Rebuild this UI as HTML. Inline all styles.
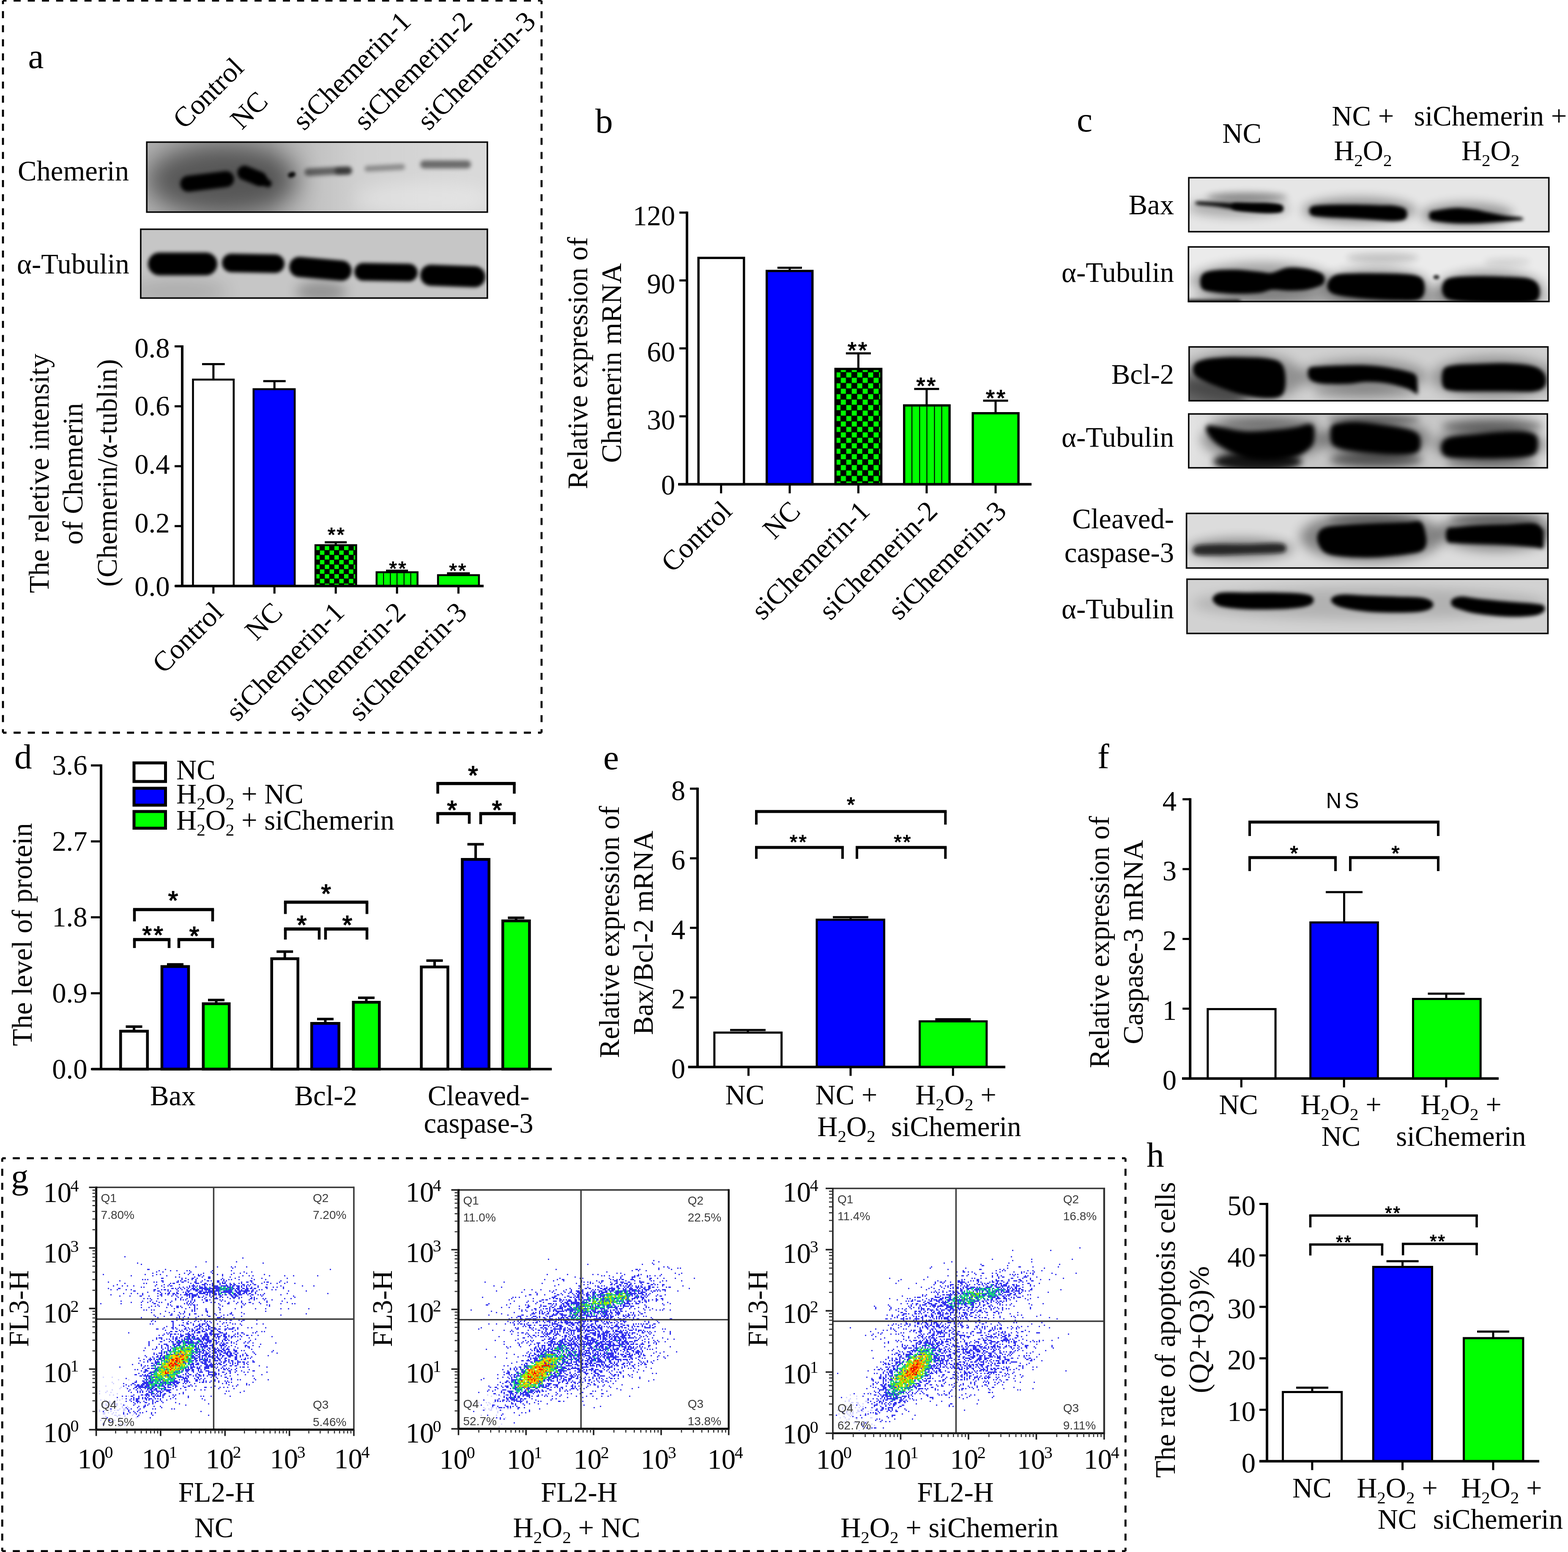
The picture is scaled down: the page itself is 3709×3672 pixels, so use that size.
<!DOCTYPE html>
<html lang="en"><head><meta charset="utf-8"><title>Figure</title>
<style>html,body{margin:0;padding:0;background:#fff}body{width:3709px;height:3672px;overflow:hidden}svg{display:block}text{stroke:none;fill:#000}</style>
</head><body>
<svg width="3709" height="3672" viewBox="0 0 3709 3672" fill="none" stroke="#000" font-family="'Liberation Serif','Noto Serif CJK SC',serif" font-size="66.7">
<defs><filter id="b2" x="-50%" y="-100%" width="200%" height="300%"><feGaussianBlur stdDeviation="2"/></filter>
<filter id="b3" x="-50%" y="-100%" width="200%" height="300%"><feGaussianBlur stdDeviation="3"/></filter>
<filter id="b4" x="-50%" y="-100%" width="200%" height="300%"><feGaussianBlur stdDeviation="4"/></filter>
<filter id="b5" x="-50%" y="-100%" width="200%" height="300%"><feGaussianBlur stdDeviation="5"/></filter>
<filter id="b6" x="-50%" y="-100%" width="200%" height="300%"><feGaussianBlur stdDeviation="6"/></filter>
<filter id="b8" x="-50%" y="-100%" width="200%" height="300%"><feGaussianBlur stdDeviation="8"/></filter>
<filter id="b10" x="-50%" y="-100%" width="200%" height="300%"><feGaussianBlur stdDeviation="10"/></filter>
<filter id="b12" x="-50%" y="-100%" width="200%" height="300%"><feGaussianBlur stdDeviation="12"/></filter>
<filter id="b14" x="-50%" y="-100%" width="200%" height="300%"><feGaussianBlur stdDeviation="14"/></filter>
<filter id="b20" x="-50%" y="-100%" width="200%" height="300%"><feGaussianBlur stdDeviation="20"/></filter>
<filter id="b30" x="-50%" y="-100%" width="200%" height="300%"><feGaussianBlur stdDeviation="30"/></filter>
<filter id="b45" x="-50%" y="-100%" width="200%" height="300%"><feGaussianBlur stdDeviation="45"/></filter>
<pattern id="chk" width="22.8" height="22.4" patternUnits="userSpaceOnUse" x="756.4" y="1313.2"><rect width="22.8" height="22.4" fill="#0f0"/><rect width="11.4" height="11.2" fill="#000"/><rect x="11.4" y="11.2" width="11.4" height="11.2" fill="#000"/></pattern>
<clipPath id="bc1"><rect x="345.4" y="334.5" width="809.2" height="169.1"/></clipPath>
<clipPath id="bc2"><rect x="331.1" y="540.6" width="823.5" height="166.4"/></clipPath>
<linearGradient id="ga1" x1="0" x2="1" y1="0" y2="0"><stop offset="0" stop-color="#b2b2b2"/><stop offset="0.36" stop-color="#aaa"/><stop offset="0.5" stop-color="#c2c2c2"/><stop offset="0.62" stop-color="#d0d0d0"/><stop offset="1" stop-color="#dadada"/></linearGradient>
<pattern id="chkb" width="25.8" height="25.8" patternUnits="userSpaceOnUse" x="1988.5" y="906.4"><rect width="25.8" height="25.8" fill="#0f0"/><rect width="12.9" height="12.9" fill="#000"/><rect x="12.9" y="12.9" width="12.9" height="12.9" fill="#000"/></pattern>
<clipPath id="bc3"><rect x="2810.2" y="418.7" width="855.3" height="131.3"/></clipPath>
<clipPath id="bc4"><rect x="2809.5" y="582.4" width="856.2" height="132.8"/></clipPath>
<clipPath id="bc5"><rect x="2811" y="819" width="852.3" height="131"/></clipPath>
<clipPath id="bc6"><rect x="2810" y="977.6" width="852" height="131"/></clipPath>
<linearGradient id="gc4" x1="0" x2="1" y1="0" y2="0"><stop offset="0" stop-color="#e4e4e4"/><stop offset="0.05" stop-color="#dcdcdc"/><stop offset="0.12" stop-color="#c4c4c4"/><stop offset="0.9" stop-color="#c8c8c8"/><stop offset="1" stop-color="#dedede"/></linearGradient>
<clipPath id="bc7"><rect x="2804.8" y="1212.9" width="858.5" height="132.8"/></clipPath>
<clipPath id="bc8"><rect x="2806" y="1368.6" width="857.3" height="131.9"/></clipPath></defs>
<!-- panel a -->
<path d="M7 1.4L1281 1.4" stroke-width="4.8" stroke-dasharray="16.763 16.763" stroke-dashoffset="8.382"/>
<path d="M1281 1.4L1281 1733.5" stroke-width="4.8" stroke-dasharray="16.655 16.655" stroke-dashoffset="8.327"/>
<path d="M1281 1733.5L7 1733.5" stroke-width="4.8" stroke-dasharray="16.763 16.763" stroke-dashoffset="8.382"/>
<path d="M7 1733.5L7 1.4" stroke-width="4.8" stroke-dasharray="16.655 16.655" stroke-dashoffset="8.327"/>
<rect x="4.6" y="-1" width="4.8" height="4.8" stroke="none"/>
<rect x="1278.6" y="-1" width="4.8" height="4.8" stroke="none"/>
<rect x="1278.6" y="1731.1" width="4.8" height="4.8" stroke="none"/>
<rect x="4.6" y="1731.1" width="4.8" height="4.8" stroke="none"/>
<text font-size="83.3" x="66.5" y="160.5">a</text>
<text transform="translate(436 308) rotate(-45)">Control</text>
<text transform="translate(572 309) rotate(-45)">NC</text>
<text transform="translate(719 311) rotate(-45)">siChemerin-1</text>
<text transform="translate(864 311) rotate(-45)">siChemerin-2</text>
<text transform="translate(1014 311) rotate(-45)">siChemerin-3</text>
<text x="42" y="427">Chemerin</text>
<text x="40" y="647">α-Tubulin</text>
<g clip-path="url(#bc1)" stroke="none">
<rect x="345.4" y="334.5" width="809.2" height="169.1" fill="url(#ga1)"/>
<ellipse cx="525" cy="425" rx="180" ry="85" fill="#000" opacity="0.5" filter="url(#b30)"/>
<ellipse cx="1000" cy="470" rx="160" ry="40" fill="#fff" opacity="0.3" filter="url(#b20)"/>
<rect x="426" y="410.3" width="128" height="38" rx="19" ry="19" fill="#000" transform="rotate(-7 490 429.3)" filter="url(#b4)"/>
<rect x="560" y="399" width="72" height="34" rx="17" ry="17" fill="#000" transform="rotate(22 596 416)" filter="url(#b4)"/>
<rect x="600" y="419" width="44" height="18" rx="9" ry="9" fill="#000" transform="rotate(28 622 428)" filter="url(#b4)"/>
<rect x="681" y="407.5" width="18" height="12" rx="6" ry="6" fill="#000" opacity="0.95" transform="rotate(-20 690 413.5)" filter="url(#b3)"/>
<rect x="720" y="396" width="112" height="18" rx="9" ry="9" fill="#000" opacity="0.5" transform="rotate(-3 776 405)" filter="url(#b5)"/>
<rect x="792" y="397" width="40" height="16" rx="8" ry="8" fill="#000" opacity="0.45" filter="url(#b5)"/>
<rect x="862" y="390" width="96" height="14" rx="7" ry="7" fill="#000" opacity="0.33" transform="rotate(-3 910 397)" filter="url(#b5)"/>
<rect x="994" y="379.5" width="120" height="19" rx="9" ry="9" fill="#000" opacity="0.5" filter="url(#b5)"/>
</g>
<rect x="347.2" y="336.3" width="805.6" height="165.5" fill="none" stroke="#0a0a0a" stroke-width="3.6"/>
<g clip-path="url(#bc2)" stroke="none">
<rect x="331.1" y="540.6" width="823.5" height="166.4" fill="#c6c6c6"/>
<ellipse cx="760" cy="690" rx="60" ry="25" fill="#000" opacity="0.25" filter="url(#b14)"/>
<ellipse cx="420" cy="690" rx="120" ry="30" fill="#000" opacity="0.12" filter="url(#b20)"/>
<rect x="350" y="597.5" width="164" height="54" rx="27" ry="27" fill="#000" filter="url(#b4)"/>
<rect x="525" y="601" width="148" height="44" rx="22" ry="22" fill="#000" transform="rotate(1 599 623)" filter="url(#b4)"/>
<rect x="684" y="612" width="148" height="48" rx="24" ry="24" fill="#000" transform="rotate(5 758 636)" filter="url(#b4)"/>
<rect x="838" y="623" width="150" height="42" rx="21" ry="21" fill="#000" transform="rotate(1 913 644)" filter="url(#b4)"/>
<rect x="994" y="628" width="154" height="50" rx="25" ry="25" fill="#000" transform="rotate(2 1071 653)" filter="url(#b4)"/>
</g>
<rect x="332.9" y="542.4" width="819.9" height="162.8" fill="none" stroke="#0a0a0a" stroke-width="3.6"/>
<rect x="456.5" y="898.1" width="96.3" height="488.5" fill="#fff" stroke="#000" stroke-width="4.6"/>
<path d="M504.8 898V861.4M478 861.4H531.6" stroke-width="5"/>
<rect x="599.8" y="920.8" width="97.3" height="465.8" fill="#00f" stroke="#000" stroke-width="4.6"/>
<path d="M649.2 921V901.8M622.7 901.8H675.7" stroke-width="5"/>
<rect x="746.2" y="1289.9" width="96.3" height="96.7" fill="url(#chk)" stroke="#000" stroke-width="4.6"/>
<path d="M794.2 1288V1282.9M768.2 1282.9H820.2" stroke-width="5"/>
<rect x="890.8" y="1353.9" width="96.8" height="32.7" fill="#0f0" stroke="#000" stroke-width="4.6"/>
<path d="M907.2 1356.2V1386.6M923.4 1356.2V1386.6M939.1 1356.2V1386.6M955.7 1356.2V1386.6M971.6 1356.2V1386.6" stroke-width="2.2"/>
<path d="M939.1 1353V1350.3M913.1 1350.3H965.1" stroke-width="5"/>
<rect x="1036.1" y="1360.8" width="96.8" height="25.8" fill="#0f0" stroke="#000" stroke-width="4.6"/>
<path d="M1084.4 1361V1356.5M1057.4 1356.5H1111.4" stroke-width="5"/>
<text text-anchor="middle" font-family="'Liberation Sans','Noto Sans CJK SC',sans-serif" font-size="47" x="796.6" y="1281.2" style="stroke:#000;stroke-width:1.4px" letter-spacing="3.3">**</text>
<text text-anchor="middle" font-family="'Liberation Sans','Noto Sans CJK SC',sans-serif" font-size="47" x="942.2" y="1360.7" style="stroke:#000;stroke-width:1.4px" letter-spacing="3.3">**</text>
<text text-anchor="middle" font-family="'Liberation Sans','Noto Sans CJK SC',sans-serif" font-size="47" x="1084" y="1365.9" style="stroke:#000;stroke-width:1.4px" letter-spacing="3.3">**</text>
<path d="M431 817.1V1386.6" stroke-width="6"/>
<path d="M413 1386.6H431M413 1244.8H431M413 1103.1H431M413 961.3H431M413 819.6H431" stroke-width="5"/>
<text text-anchor="end" x="401.5" y="1409.6">0.0</text>
<text text-anchor="end" x="401.5" y="1259.8">0.2</text>
<text text-anchor="end" x="401.5" y="1121.1">0.4</text>
<text text-anchor="end" x="401.5" y="982.8">0.6</text>
<text text-anchor="end" x="401.5" y="846.1">0.8</text>
<path d="M414 1386.6H1144" stroke-width="6"/>
<path d="M504.8 1386.6V1404.6M649.2 1386.6V1404.6M794.2 1386.6V1404.6M939.1 1386.6V1404.6M1084.4 1386.6V1404.6" stroke-width="5"/>
<text text-anchor="end" transform="translate(531.5 1452) rotate(-45)">Control</text>
<text text-anchor="end" transform="translate(672 1452.5) rotate(-45)">NC</text>
<text text-anchor="end" transform="translate(818 1452.5) rotate(-45)">siChemerin-1</text>
<text text-anchor="end" transform="translate(963 1452.5) rotate(-45)">siChemerin-2</text>
<text text-anchor="end" transform="translate(1108 1452.5) rotate(-45)">siChemerin-3</text>
<text text-anchor="middle" transform="translate(115 1120) rotate(-90)">The reletive intensity</text>
<text text-anchor="middle" transform="translate(195 1121) rotate(-90)">of Chemerin</text>
<text text-anchor="middle" transform="translate(276 1119) rotate(-90)">(Chemerin/α-tublin)</text>
<!-- panel b -->
<text font-size="83.3" x="1408" y="313.5">b</text>
<rect x="1652.2" y="610.2" width="107.6" height="535.5" fill="#fff" stroke="#000" stroke-width="5.4"/>
<rect x="1813.7" y="641.1" width="108.1" height="504.6" fill="#00f" stroke="#000" stroke-width="5.4"/>
<path d="M1868 641V633.5M1839 633.5H1897" stroke-width="5"/>
<rect x="1976.3" y="872.9" width="108.3" height="272.8" fill="url(#chkb)" stroke="#000" stroke-width="5.4"/>
<path d="M2030.4 873V836M2000.9 836H2059.9" stroke-width="5"/>
<rect x="2138.7" y="959.2" width="107.4" height="186.5" fill="#0f0" stroke="#000" stroke-width="5.4"/>
<path d="M2157.1 961.9V1145.7M2175.3 961.9V1145.7M2192.5 961.9V1145.7M2210.4 961.9V1145.7M2227.6 961.9V1145.7" stroke-width="2.2"/>
<path d="M2191.9 958V920.2M2162.4 920.2H2221.4" stroke-width="5"/>
<rect x="2301.1" y="977.7" width="108" height="168" fill="#0f0" stroke="#000" stroke-width="5.4"/>
<path d="M2355 977V948M2325.5 948H2384.5" stroke-width="5"/>
<text text-anchor="middle" font-family="'Liberation Sans','Noto Sans CJK SC',sans-serif" font-size="54" x="2029.9" y="847.4" style="stroke:#000;stroke-width:1.6px" letter-spacing="3.8">**</text>
<text text-anchor="middle" font-family="'Liberation Sans','Noto Sans CJK SC',sans-serif" font-size="54" x="2192.3" y="931.3" style="stroke:#000;stroke-width:1.6px" letter-spacing="3.8">**</text>
<text text-anchor="middle" font-family="'Liberation Sans','Noto Sans CJK SC',sans-serif" font-size="54" x="2356.9" y="960.2" style="stroke:#000;stroke-width:1.6px" letter-spacing="3.8">**</text>
<path d="M1625 500.4V1145.7" stroke-width="6"/>
<path d="M1607 1145.7H1625M1607 985H1625M1607 824.3H1625M1607 663.6H1625M1607 502.9H1625" stroke-width="5"/>
<text text-anchor="end" x="1597" y="1170.2">0</text>
<text text-anchor="end" x="1597" y="1015.5">30</text>
<text text-anchor="end" x="1597" y="854.8">60</text>
<text text-anchor="end" x="1597" y="694.1">90</text>
<text text-anchor="end" x="1597" y="533.4">120</text>
<path d="M1604 1145.7H2440" stroke-width="6"/>
<path d="M1705.7 1145.7V1167.2M1868 1145.7V1167.2M2030.4 1145.7V1167.2M2191.9 1145.7V1167.2M2355 1145.7V1167.2" stroke-width="5"/>
<text text-anchor="end" transform="translate(1735 1213) rotate(-45)">Control</text>
<text text-anchor="end" transform="translate(1897 1213) rotate(-45)">NC</text>
<text text-anchor="end" transform="translate(2061 1213) rotate(-45)">siChemerin-1</text>
<text text-anchor="end" transform="translate(2221 1213) rotate(-45)">siChemerin-2</text>
<text text-anchor="end" transform="translate(2384 1213) rotate(-45)">siChemerin-3</text>
<text text-anchor="middle" transform="translate(1389 859) rotate(-90)">Relative expression of</text>
<text text-anchor="middle" transform="translate(1469 859) rotate(-90)">Chemerin mRNA</text>
<!-- panel c -->
<text font-size="83.3" x="2547" y="310.5">c</text>
<text text-anchor="middle" x="2937.6" y="338">NC</text>
<text text-anchor="middle" x="3223.8" y="296.6">NC +</text>
<text text-anchor="middle" x="3223.8" y="379">H<tspan dy="14" font-size="41">2</tspan><tspan dy="-14">O</tspan><tspan dy="14" font-size="41">2</tspan></text>
<text text-anchor="middle" x="3525.6" y="296.6">siChemerin +</text>
<text text-anchor="middle" x="3525.6" y="379">H<tspan dy="14" font-size="41">2</tspan><tspan dy="-14">O</tspan><tspan dy="14" font-size="41">2</tspan></text>
<text text-anchor="end" x="2777" y="506.7">Bax</text>
<text text-anchor="end" x="2777" y="667.4">α-Tubulin</text>
<text text-anchor="end" x="2777" y="908">Bcl-2</text>
<text text-anchor="end" x="2777" y="1057">α-Tubulin</text>
<text text-anchor="end" x="2777" y="1250">Cleaved-</text>
<text text-anchor="end" x="2777" y="1330">caspase-3</text>
<text text-anchor="end" x="2777" y="1463">α-Tubulin</text>
<g clip-path="url(#bc3)" stroke="none">
<rect x="2810.2" y="418.7" width="855.3" height="131.3" fill="#e6e6e6"/>
<ellipse cx="2950" cy="466" rx="95" ry="11" fill="#000" opacity="0.33" filter="url(#b8)"/>
<ellipse cx="3215" cy="497" rx="135" ry="30" fill="#000" opacity="0.35" filter="url(#b12)"/>
<ellipse cx="3470" cy="508" rx="110" ry="28" fill="#000" opacity="0.35" filter="url(#b12)"/>
<ellipse cx="2930" cy="492" rx="120" ry="22" fill="#000" opacity="0.25" filter="url(#b12)"/>
<path d="M2832 477C2839.2 476.1 2860.6 477.9 2875 478.5C2889.4 479.1 2904.4 480.1 2918.5 480.6C2932.6 481.2 2945.8 481.5 2959.5 481.8C2973.2 482.1 2989.1 481.8 3000.5 482.4C3011.9 483 3022.2 484.1 3027.8 485.2C3033.4 486.3 3033 486.9 3034 489C3035 491.1 3035 495.5 3034 497.5C3033 499.5 3033.4 500.2 3027.8 501C3022.2 501.8 3011.9 502.5 3000.5 502.3C2989.1 502.1 2973.2 501.1 2959.5 500C2945.8 498.9 2932.6 497.3 2918.5 495.4C2904.4 493.5 2889.4 490.4 2875 488.5C2860.6 486.6 2839.2 485.9 2832 484C2824.8 482.1 2824.8 477.9 2832 477Z" fill="#000" opacity="0.97" filter="url(#b4)"/>
<path d="M2918.5 482C2925.3 479.8 2945.8 481.9 2959.5 482C2973.2 482.1 2988.8 481.6 3000.5 482.4C3012.2 483.2 3025.1 484.2 3030 487C3034.9 489.8 3034.9 496.4 3030 499C3025.1 501.6 3012.2 502.1 3000.5 502.3C2988.8 502.5 2973.2 501.2 2959.5 500C2945.8 498.8 2925.3 498 2918.5 495C2911.7 492 2911.7 484.2 2918.5 482Z" fill="#000" filter="url(#b4)"/>
<path d="M3100.7 490C3105.6 486.2 3113.4 486 3130 485C3146.6 484 3178.3 483.9 3200 484C3221.7 484.1 3243.3 485 3260 485.5C3276.7 486 3289.1 485.2 3300 487C3310.9 488.8 3321.2 491 3325.4 496C3329.6 501 3329.6 512.5 3325.4 517C3321.2 521.5 3310.9 522.3 3300 523C3289.1 523.7 3276.7 522 3260 521C3243.3 520 3221.7 518.2 3200 517C3178.3 515.8 3146.6 515 3130 513.5C3113.4 512 3105.6 511.9 3100.7 508C3095.8 504.1 3095.8 493.8 3100.7 490Z" fill="#000" filter="url(#b4)"/>
<path d="M3382.4 503C3385.2 499.6 3389.1 499.5 3399.5 497.7C3409.9 495.9 3429.9 492.3 3445 492C3460.1 491.7 3478.6 494.5 3490 496C3501.4 497.5 3501.8 498.7 3513.3 501C3524.8 503.3 3545.7 507.9 3559 510C3572.3 512.1 3585.8 512.6 3593 513.6C3600.2 514.6 3600.5 514.9 3602 516C3603.5 517.1 3603.5 519.1 3602 520C3600.5 520.9 3600.2 520.9 3593 521.6C3585.8 522.3 3572.3 523 3559 524C3545.7 525 3524.8 526.5 3513.3 527.3C3501.8 528 3501.4 528.3 3490 528.5C3478.6 528.7 3460.1 529.2 3445 528.5C3429.9 527.8 3409.9 525.8 3399.5 524C3389.1 522.2 3385.2 521.5 3382.4 518C3379.6 514.5 3379.6 506.4 3382.4 503Z" fill="#000" filter="url(#b4)"/>
</g>
<rect x="2812" y="420.5" width="851.7" height="127.7" fill="none" stroke="#0a0a0a" stroke-width="3.6"/>
<g clip-path="url(#bc4)" stroke="none">
<rect x="2809.5" y="582.4" width="856.2" height="132.8" fill="#ebebeb"/>
<ellipse cx="3240" cy="705" rx="430" ry="22" fill="#000" opacity="0.3" filter="url(#b12)"/>
<ellipse cx="3270" cy="610" rx="85" ry="12" fill="#000" opacity="0.16" filter="url(#b8)"/>
<ellipse cx="3565" cy="620" rx="55" ry="9" fill="#000" opacity="0.1" filter="url(#b8)"/>
<ellipse cx="2985" cy="665" rx="170" ry="45" fill="#000" opacity="0.3" filter="url(#b12)"/>
<ellipse cx="3255" cy="678" rx="130" ry="45" fill="#000" opacity="0.3" filter="url(#b12)"/>
<ellipse cx="3525" cy="684" rx="130" ry="45" fill="#000" opacity="0.3" filter="url(#b12)"/>
<path d="M2841.9 652.4C2845.9 645.6 2852.2 642.9 2865.7 640.5C2879.2 638.1 2903.8 637.6 2922.9 638C2942 638.4 2965.7 641.7 2980 642.9C2994.3 644.1 2997.5 646.8 3008.6 645.2C3019.7 643.6 3033.2 634.9 3046.7 633.3C3060.2 631.7 3076.8 633.7 3089.5 635.7C3102.2 637.7 3115.8 642 3122.9 645.2C3130.1 648.4 3130.8 651.2 3132.4 654.8C3134 658.4 3134 663.1 3132.4 666.7C3130.8 670.3 3130.1 673 3122.9 676.2C3115.8 679.4 3102.2 683.7 3089.5 685.7C3076.8 687.7 3060.2 688 3046.7 688C3033.2 688 3019.7 685.2 3008.6 686C2997.5 686.8 2994.3 691.4 2980 692.9C2965.7 694.4 2942 695.6 2922.9 695.2C2903.8 694.8 2879.2 692.9 2865.7 690.5C2852.2 688.1 2845.9 687.4 2841.9 681C2837.9 674.6 2837.9 659.1 2841.9 652.4Z" fill="#000" filter="url(#b4)"/>
<path d="M3141.9 666.7C3145.1 660.8 3149.9 653.3 3161 650C3172.1 646.7 3192.7 647.2 3208.6 646.7C3224.5 646.2 3240.3 646.6 3256.2 646.7C3272.1 646.9 3287.9 646.7 3303.8 647.6C3319.7 648.5 3340.7 649.2 3351.4 652.4C3362.1 655.6 3365.2 659.6 3368 666.7C3370.8 673.8 3370.8 688.1 3368 695.2C3365.2 702.3 3362.1 707 3351.4 709.5C3340.7 712 3319.7 710.6 3303.8 710.5C3287.9 710.4 3272.1 709.6 3256.2 708.6C3240.3 707.6 3224.5 706.6 3208.6 704.8C3192.7 703 3172.1 700.8 3161 697.6C3149.9 694.4 3145.1 690.9 3141.9 685.7C3138.7 680.6 3138.7 672.7 3141.9 666.7Z" fill="#000" filter="url(#b4)"/>
<path d="M3413.3 671.4C3416.5 665 3418.9 660 3432.4 657C3445.9 654 3472.1 653.7 3494.3 653.3C3516.5 652.9 3545.1 653.8 3565.7 654.8C3586.3 655.8 3605.7 655.9 3618 659.5C3630.3 663.1 3635.9 668.7 3639.5 676.2C3643.1 683.8 3643.1 698.2 3639.5 704.8C3635.9 711.4 3630.3 713.8 3618 716C3605.7 718.2 3586.3 718 3565.7 718C3545.1 718 3516.5 717.4 3494.3 716C3472.1 714.6 3445.9 713 3432.4 709.5C3418.9 706 3416.5 701.6 3413.3 695.2C3410.1 688.9 3410.1 677.8 3413.3 671.4Z" fill="#000" filter="url(#b4)"/>
<rect x="3390.6" y="650.7" width="14" height="10" rx="5" ry="5" fill="#000" opacity="0.8" filter="url(#b3)"/>
<rect x="2805" y="709" width="130" height="18" rx="6" ry="6" fill="#000" opacity="0.9" filter="url(#b4)"/>
</g>
<rect x="2811.3" y="584.2" width="852.6" height="129.2" fill="none" stroke="#0a0a0a" stroke-width="3.6"/>
<g clip-path="url(#bc5)" stroke="none">
<rect x="2811" y="819" width="852.3" height="131" fill="#d0d0d0"/>
<ellipse cx="2850" cy="935" rx="100" ry="45" fill="#000" opacity="0.5" filter="url(#b14)"/>
<ellipse cx="3230" cy="930" rx="120" ry="18" fill="#000" opacity="0.15" filter="url(#b10)"/>
<ellipse cx="2935" cy="893" rx="150" ry="60" fill="#000" opacity="0.3" filter="url(#b14)"/>
<ellipse cx="3225" cy="890" rx="150" ry="40" fill="#000" opacity="0.3" filter="url(#b14)"/>
<ellipse cx="3535" cy="893" rx="150" ry="50" fill="#000" opacity="0.3" filter="url(#b14)"/>
<path d="M2825.2 862C2829.6 856 2839.1 852.8 2851.4 850C2863.7 847.2 2883.1 846 2899 845.2C2914.9 844.4 2930.8 844.8 2946.7 845.2C2962.6 845.6 2980.8 845.6 2994.3 847.6C3007.8 849.6 3020.1 851.4 3027.6 857C3035.1 862.6 3037.5 870.7 3039.5 881C3041.5 891.3 3041.5 909.5 3039.5 919C3037.5 928.5 3035.1 934.2 3027.6 938C3020.1 941.8 3007.8 942.4 2994.3 942C2980.8 941.6 2962.6 939.1 2946.7 935.7C2930.8 932.3 2914.9 927 2899 921.4C2883.1 915.8 2863.7 908.3 2851.4 902.4C2839.1 896.5 2829.6 892.4 2825.2 885.7C2820.8 879 2820.8 868 2825.2 862Z" fill="#000" filter="url(#b5)"/>
<path d="M3096.7 871.4C3101.1 866.6 3108.2 867.9 3122.9 866.7C3137.6 865.5 3166.6 864.7 3184.8 864.3C3203.1 863.9 3216.5 863.5 3232.4 864.3C3248.3 865.1 3264.1 866.6 3280 869C3295.9 871.4 3316.1 875.4 3327.6 878.6C3339.1 881.8 3344.8 882.9 3349 888C3353.2 893.1 3352.3 902.2 3353 909.5C3353.7 916.8 3353.7 928.4 3353 932C3352.3 935.6 3353.2 933.2 3349 931C3344.8 928.8 3339.1 923 3327.6 919C3316.1 915 3295.9 909.5 3280 907C3264.1 904.5 3248.3 903.5 3232.4 903.8C3216.5 904.1 3203.1 908.1 3184.8 908.6C3166.6 909.1 3137.6 909.2 3122.9 907C3108.2 904.8 3101.1 901.1 3096.7 895.2C3092.3 889.3 3092.3 876.1 3096.7 871.4Z" fill="#000" filter="url(#b5)"/>
<path d="M3413.3 876.2C3417.2 867.9 3423.5 866.8 3437 864.3C3450.5 861.8 3472.9 861.8 3494.3 861C3515.8 860.2 3543.5 858.5 3565.7 859.5C3587.9 860.5 3612.9 862.3 3627.6 866.7C3642.3 871.1 3649.4 877.8 3653.8 885.7C3658.2 893.6 3658.2 907.5 3653.8 914.3C3649.4 921 3642.3 924.2 3627.6 926.2C3612.9 928.2 3587.9 926.2 3565.7 926.2C3543.5 926.2 3515.8 926.4 3494.3 926.2C3472.9 926 3450.5 926.8 3437 924.8C3423.5 922.8 3417.2 922.4 3413.3 914.3C3409.4 906.2 3409.4 884.5 3413.3 876.2Z" fill="#000" filter="url(#b5)"/>
</g>
<rect x="2812.8" y="820.8" width="848.7" height="127.4" fill="none" stroke="#0a0a0a" stroke-width="3.6"/>
<g clip-path="url(#bc6)" stroke="none">
<rect x="2810" y="977.6" width="852" height="131" fill="url(#gc4)"/>
<ellipse cx="2975" cy="1092" rx="105" ry="24" fill="#000" opacity="0.88" filter="url(#b8)"/>
<ellipse cx="2990" cy="998" rx="130" ry="12" fill="#000" opacity="0.22" filter="url(#b10)"/>
<ellipse cx="3255" cy="1088" rx="110" ry="20" fill="#000" opacity="0.5" filter="url(#b10)"/>
<ellipse cx="3250" cy="992" rx="110" ry="12" fill="#000" opacity="0.35" filter="url(#b8)"/>
<ellipse cx="3530" cy="1008" rx="120" ry="18" fill="#000" opacity="0.4" filter="url(#b10)"/>
<ellipse cx="3530" cy="1097" rx="110" ry="12" fill="#000" opacity="0.3" filter="url(#b8)"/>
<ellipse cx="2990" cy="1040" rx="150" ry="50" fill="#000" opacity="0.3" filter="url(#b12)"/>
<ellipse cx="3255" cy="1038" rx="130" ry="50" fill="#000" opacity="0.3" filter="url(#b12)"/>
<ellipse cx="3525" cy="1052" rx="135" ry="45" fill="#000" opacity="0.3" filter="url(#b12)"/>
<path d="M2856 1007C2860.8 1004.5 2869.8 1007.8 2885 1010C2900.2 1012.2 2924.8 1019 2947 1020C2969.2 1021 2998.2 1017.7 3018 1016C3037.8 1014.3 3053.3 1012.2 3066 1010C3078.7 1007.8 3087 1003 3094 1003C3101 1003 3105.7 1003 3108 1010C3110.3 1017 3110.3 1036 3108 1045C3105.7 1054 3101 1058.2 3094 1064C3087 1069.8 3078.7 1076 3066 1080C3053.3 1084 3037.8 1087.3 3018 1088C2998.2 1088.7 2969.2 1089.5 2947 1084C2924.8 1078.5 2900.2 1064.8 2885 1055C2869.8 1045.2 2860.8 1033 2856 1025C2851.2 1017 2851.2 1009.5 2856 1007Z" fill="#000" filter="url(#b6)"/>
<path d="M3149 1009.5C3152.6 1001.6 3160.6 1002 3170.5 1000C3180.4 998 3194.3 997.2 3208.6 997.6C3222.9 998 3240.3 1000.4 3256.2 1002.4C3272.1 1004.4 3289.5 1006.7 3303.8 1009.5C3318.1 1012.3 3332.9 1015 3342 1019C3351.1 1023 3355.8 1026.1 3358.6 1033.3C3361.4 1040.5 3361.4 1055.2 3358.6 1062C3355.8 1068.8 3351.1 1071.4 3342 1073.8C3332.9 1076.2 3318.1 1076.2 3303.8 1076.2C3289.5 1076.2 3272.1 1075 3256.2 1073.8C3240.3 1072.6 3222.9 1071 3208.6 1069C3194.3 1067 3180.4 1065.6 3170.5 1062C3160.6 1058.4 3152.6 1056.3 3149 1047.6C3145.4 1038.8 3145.4 1017.4 3149 1009.5Z" fill="#000" filter="url(#b6)"/>
<path d="M3411 1047.6C3414.6 1041.2 3418.5 1036.9 3432.4 1033.3C3446.3 1029.7 3476 1028.2 3494.3 1026.2C3512.6 1024.2 3524.6 1022.4 3542 1021.4C3559.4 1020.4 3584.7 1019.2 3599 1020C3613.3 1020.8 3621.3 1023.2 3627.6 1026.2C3633.9 1029.2 3635.4 1032 3637 1038C3638.6 1044 3638.6 1055.6 3637 1062C3635.4 1068.4 3633.9 1072.7 3627.6 1076.2C3621.3 1079.8 3613.3 1081.7 3599 1083.3C3584.7 1084.9 3559.4 1085.3 3542 1085.7C3524.6 1086.1 3512.6 1086.1 3494.3 1085.7C3476 1085.3 3446.3 1085.7 3432.4 1083.3C3418.5 1080.9 3414.6 1077.4 3411 1071.4C3407.4 1065.5 3407.4 1053.9 3411 1047.6Z" fill="#000" filter="url(#b6)"/>
</g>
<rect x="2811.8" y="979.4" width="848.4" height="127.4" fill="none" stroke="#0a0a0a" stroke-width="3.6"/>
<g clip-path="url(#bc7)" stroke="none">
<rect x="2804.8" y="1212.9" width="858.5" height="132.8" fill="#dcdcdc"/>
<ellipse cx="3245" cy="1270" rx="170" ry="60" fill="#000" opacity="0.4" filter="url(#b14)"/>
<ellipse cx="3540" cy="1258" rx="140" ry="45" fill="#000" opacity="0.4" filter="url(#b14)"/>
<ellipse cx="2935" cy="1298" rx="125" ry="26" fill="#000" opacity="0.33" filter="url(#b12)"/>
<ellipse cx="3250" cy="1228" rx="110" ry="10" fill="#000" opacity="0.3" filter="url(#b8)"/>
<ellipse cx="3540" cy="1228" rx="110" ry="10" fill="#000" opacity="0.3" filter="url(#b8)"/>
<path d="M2827.6 1292.4C2835.5 1288.4 2855.2 1288.4 2875 1287.6C2894.8 1286.8 2922.9 1288 2946.7 1287.6C2970.5 1287.2 3002.5 1284.8 3018 1285.2C3033.5 1285.6 3035.9 1286.8 3039.5 1290C3043.1 1293.2 3043.1 1301.1 3039.5 1304.3C3035.9 1307.5 3033.5 1307.8 3018 1309C3002.5 1310.2 2970.5 1310.6 2946.7 1311.4C2922.9 1312.2 2894.8 1313.8 2875 1313.8C2855.2 1313.8 2835.5 1315 2827.6 1311.4C2819.7 1307.8 2819.7 1296.4 2827.6 1292.4Z" fill="#111" opacity="0.8" filter="url(#b5)"/>
<path d="M3118 1261.4C3121.2 1255 3125.9 1250.3 3137 1247C3148.1 1243.7 3164.9 1243 3184.8 1241.4C3204.7 1239.8 3232.4 1238.6 3256.2 1237.6C3280 1236.6 3310.1 1235.6 3327.6 1235.2C3345.1 1234.8 3353.4 1230 3361 1235.2C3368.6 1240.4 3370.9 1257.1 3372.9 1266.2C3374.9 1275.3 3374.9 1283.7 3372.9 1290C3370.9 1296.3 3368.6 1300.7 3361 1304.3C3353.4 1307.9 3345.1 1309 3327.6 1311.4C3310.1 1313.8 3280 1317.6 3256.2 1318.6C3232.4 1319.6 3204.7 1319.2 3184.8 1317.6C3164.9 1316 3148.1 1314.4 3137 1309C3125.9 1303.6 3121.2 1293.1 3118 1285.2C3114.8 1277.3 3114.8 1267.8 3118 1261.4Z" fill="#000" filter="url(#b5)"/>
<path d="M3422.9 1252C3426.9 1246.4 3434.8 1248.6 3446.7 1247C3458.6 1245.4 3474.5 1243.6 3494.3 1242.4C3514.1 1241.2 3543.5 1240.8 3565.7 1240C3587.9 1239.2 3613.7 1235.6 3627.6 1237.6C3641.5 1239.6 3645 1247.3 3649 1252C3653 1256.7 3651 1260.5 3651.4 1266C3651.8 1271.5 3651.8 1279.8 3651.4 1285C3651 1290.2 3653 1295.4 3649 1297C3645 1298.6 3641.5 1296 3627.6 1294.8C3613.7 1293.6 3587.9 1291.2 3565.7 1290C3543.5 1288.8 3514.1 1288.4 3494.3 1287.6C3474.5 1286.8 3458.6 1286.4 3446.7 1285.2C3434.8 1284 3426.9 1286 3422.9 1280.5C3418.9 1275 3418.9 1257.6 3422.9 1252Z" fill="#000" filter="url(#b5)"/>
</g>
<rect x="2806.6" y="1214.7" width="854.9" height="129.2" fill="none" stroke="#0a0a0a" stroke-width="3.6"/>
<g clip-path="url(#bc8)" stroke="none">
<rect x="2806" y="1368.6" width="857.3" height="131.9" fill="#d2d2d2"/>
<ellipse cx="3240" cy="1428" rx="420" ry="38" fill="#000" opacity="0.15" filter="url(#b14)"/>
<path d="M2870.5 1411.4C2873.7 1407.9 2876.8 1403.6 2889.5 1402C2902.2 1400.4 2925.3 1402 2946.7 1402C2968.1 1402 2996.6 1401.6 3018 1402C3039.4 1402.4 3060.7 1402.7 3075 1404.3C3089.3 1405.9 3099 1407.5 3103.8 1411.4C3108.6 1415.4 3108.6 1423.6 3103.8 1428C3099 1432.4 3089.3 1435.4 3075 1437.6C3060.7 1439.8 3039.4 1440.8 3018 1441.4C2996.6 1442 2968.1 1442.4 2946.7 1441.4C2925.3 1440.4 2902.2 1438.2 2889.5 1435.2C2876.8 1432.2 2873.7 1427.3 2870.5 1423.3C2867.3 1419.3 2867.3 1415 2870.5 1411.4Z" fill="#000" filter="url(#b4)"/>
<path d="M3151.4 1413.8C3155.3 1410.6 3161.5 1407.5 3175 1406.7C3188.5 1405.9 3210.9 1408.2 3232.4 1409C3253.9 1409.8 3282.4 1410.6 3303.8 1411.4C3325.2 1412.2 3347.1 1411.8 3361 1413.8C3374.9 1415.8 3382.7 1419.3 3387 1423.3C3391.3 1427.3 3391.3 1433.6 3387 1437.6C3382.7 1441.5 3374.9 1445 3361 1447C3347.1 1449 3325.2 1449.5 3303.8 1449.5C3282.4 1449.5 3253.9 1449 3232.4 1447C3210.9 1445 3188.5 1441.1 3175 1437.6C3161.5 1434 3155.3 1429.7 3151.4 1425.7C3147.5 1421.7 3147.5 1417 3151.4 1413.8Z" fill="#000" filter="url(#b4)"/>
<path d="M3434.8 1418.6C3438.3 1415 3446.1 1411.8 3456 1411.4C3465.9 1411 3476 1414.2 3494.3 1416.2C3512.6 1418.2 3543.5 1421.3 3565.7 1423.3C3587.9 1425.3 3613.3 1426.4 3627.6 1428C3641.9 1429.6 3647.4 1429.7 3651.4 1432.9C3655.4 1436.1 3655.4 1443 3651.4 1447C3647.4 1451 3641.9 1454.7 3627.6 1456.7C3613.3 1458.7 3587.9 1459.8 3565.7 1459C3543.5 1458.2 3512.6 1454.8 3494.3 1452C3476 1449.2 3465.9 1445.6 3456 1442.4C3446.1 1439.2 3438.3 1436.9 3434.8 1432.9C3431.3 1428.9 3431.3 1422.2 3434.8 1418.6Z" fill="#000" filter="url(#b4)"/>
</g>
<rect x="2807.8" y="1370.4" width="853.7" height="128.3" fill="none" stroke="#0a0a0a" stroke-width="3.6"/>
<!-- panel d -->
<text font-size="83.3" x="34" y="1817.5">d</text>
<rect x="285.3" y="2439.8" width="63.4" height="89.7" fill="#fff" stroke="#000" stroke-width="6.6"/>
<path d="M317 2438.5V2429M297.5 2429H336.5" stroke-width="6"/>
<rect x="383" y="2286.8" width="63" height="242.7" fill="#00f" stroke="#000" stroke-width="6.6"/>
<path d="M414.5 2285.5V2281.7M395 2281.7H434" stroke-width="6"/>
<rect x="480.8" y="2374.8" width="61.4" height="154.7" fill="#0f0" stroke="#000" stroke-width="6.6"/>
<path d="M511.5 2373.5V2366M492 2366H531" stroke-width="6"/>
<rect x="642.7" y="2268.3" width="62" height="261.2" fill="#fff" stroke="#000" stroke-width="6.6"/>
<path d="M673.7 2267V2251.4M654.2 2251.4H693.2" stroke-width="6"/>
<rect x="737.3" y="2421.3" width="64.4" height="108.2" fill="#00f" stroke="#000" stroke-width="6.6"/>
<path d="M769.5 2420V2411M750 2411H789" stroke-width="6"/>
<rect x="835.8" y="2371.3" width="61.5" height="158.2" fill="#0f0" stroke="#000" stroke-width="6.6"/>
<path d="M866.5 2370V2360.8M847 2360.8H886" stroke-width="6"/>
<rect x="996.6" y="2287.8" width="62.8" height="241.7" fill="#fff" stroke="#000" stroke-width="6.6"/>
<path d="M1028 2286.5V2272.7M1008.5 2272.7H1047.5" stroke-width="6"/>
<rect x="1093.5" y="2033.3" width="63.2" height="496.2" fill="#00f" stroke="#000" stroke-width="6.6"/>
<path d="M1125.1 2032V1997.4M1105.6 1997.4H1144.6" stroke-width="6"/>
<rect x="1189.3" y="2178.8" width="63.1" height="350.7" fill="#0f0" stroke="#000" stroke-width="6.6"/>
<path d="M1220.8 2177.5V2171.4M1201.3 2171.4H1240.3" stroke-width="6"/>
<path d="M239 1808.6V2529.5" stroke-width="6"/>
<path d="M215 2529.5H239M215 2349.9H239M215 2170.3H239M215 1990.7H239M215 1811.1H239" stroke-width="5"/>
<text text-anchor="end" x="206.5" y="2551.5">0.0</text>
<text text-anchor="end" x="206.5" y="2371.9">0.9</text>
<text text-anchor="end" x="206.5" y="2192.3">1.8</text>
<text text-anchor="end" x="206.5" y="2012.7">2.7</text>
<text text-anchor="end" x="206.5" y="1833.1">3.6</text>
<path d="M216.6 2529.5H1305.3" stroke-width="6"/>
<rect x="317" y="1805" width="74.5" height="44" fill="#fff" stroke="#000" stroke-width="7"/>
<rect x="317" y="1865" width="74.5" height="40" fill="#00f" stroke="#000" stroke-width="7"/>
<rect x="317" y="1920" width="74.5" height="39.5" fill="#0f0" stroke="#000" stroke-width="7"/>
<text x="417" y="1844">NC</text>
<text x="417" y="1900.5">H<tspan dy="14" font-size="41">2</tspan><tspan dy="-14">O</tspan><tspan dy="14" font-size="41">2</tspan><tspan dy="-14"> + NC</tspan></text>
<text x="417" y="1963">H<tspan dy="14" font-size="41">2</tspan><tspan dy="-14">O</tspan><tspan dy="14" font-size="41">2</tspan><tspan dy="-14"> + siChemerin</tspan></text>
<path d="M318 2180V2152M503 2180V2152" stroke-width="6.5"/>
<path d="M314.8 2152H506.2" stroke-width="7.5"/>
<path d="M318 2243V2223M400 2243V2223" stroke-width="6.5"/>
<path d="M314.8 2223H403.2" stroke-width="7.5"/>
<path d="M423 2243V2223M503 2243V2223" stroke-width="6.5"/>
<path d="M419.8 2223H506.2" stroke-width="7.5"/>
<text text-anchor="middle" font-family="'Liberation Sans','Noto Sans CJK SC',sans-serif" font-size="60.3" x="409.4" y="2150.8" style="stroke:#000;stroke-width:1.8px">*</text>
<text text-anchor="middle" font-family="'Liberation Sans','Noto Sans CJK SC',sans-serif" font-size="58" x="363.2" y="2231.9" style="stroke:#000;stroke-width:1.7px" letter-spacing="4.1">**</text>
<text text-anchor="middle" font-family="'Liberation Sans','Noto Sans CJK SC',sans-serif" font-size="60.3" x="459.4" y="2234.9" style="stroke:#000;stroke-width:1.8px">*</text>
<path d="M675 2162.5V2134.5M868 2162.5V2134.5" stroke-width="6.5"/>
<path d="M671.8 2134.5H871.2" stroke-width="7.5"/>
<path d="M675 2223V2198M755 2223V2198" stroke-width="6.5"/>
<path d="M671.8 2198H758.2" stroke-width="7.5"/>
<path d="M770 2223V2198M868 2223V2198" stroke-width="6.5"/>
<path d="M766.8 2198H871.2" stroke-width="7.5"/>
<text text-anchor="middle" font-family="'Liberation Sans','Noto Sans CJK SC',sans-serif" font-size="60.3" x="771.2" y="2134.6" style="stroke:#000;stroke-width:1.8px">*</text>
<text text-anchor="middle" font-family="'Liberation Sans','Noto Sans CJK SC',sans-serif" font-size="60.3" x="713.7" y="2209.3" style="stroke:#000;stroke-width:1.8px">*</text>
<text text-anchor="middle" font-family="'Liberation Sans','Noto Sans CJK SC',sans-serif" font-size="60.3" x="821.4" y="2209.3" style="stroke:#000;stroke-width:1.8px">*</text>
<path d="M1035.5 1877.8V1853.8M1216.5 1877.8V1853.8" stroke-width="6.5"/>
<path d="M1032.2 1853.8H1219.8" stroke-width="7.5"/>
<path d="M1035.5 1949V1925M1110 1949V1925" stroke-width="6.5"/>
<path d="M1032.2 1925H1113.2" stroke-width="7.5"/>
<path d="M1137 1950V1925M1216.5 1950V1925" stroke-width="6.5"/>
<path d="M1133.8 1925H1219.8" stroke-width="7.5"/>
<text text-anchor="middle" font-family="'Liberation Sans','Noto Sans CJK SC',sans-serif" font-size="60.3" x="1119" y="1855.1" style="stroke:#000;stroke-width:1.8px">*</text>
<text text-anchor="middle" font-family="'Liberation Sans','Noto Sans CJK SC',sans-serif" font-size="60.3" x="1069.2" y="1936.6" style="stroke:#000;stroke-width:1.8px">*</text>
<text text-anchor="middle" font-family="'Liberation Sans','Noto Sans CJK SC',sans-serif" font-size="60.3" x="1175.5" y="1936.6" style="stroke:#000;stroke-width:1.8px">*</text>
<text text-anchor="middle" x="408.8" y="2615">Bax</text>
<text text-anchor="middle" x="770.7" y="2615">Bcl-2</text>
<text text-anchor="middle" x="1132" y="2615">Cleaved-</text>
<text text-anchor="middle" x="1132" y="2679.5">caspase-3</text>
<text text-anchor="middle" transform="translate(75 2211) rotate(-90)">The level of protein</text>
<!-- panel e -->
<text font-size="83.3" x="1427" y="1820">e</text>
<rect x="1689.8" y="2443.1" width="158.9" height="81.4" fill="#fff" stroke="#000" stroke-width="5"/>
<path d="M1769 2442V2437M1727 2437H1811" stroke-width="5"/>
<rect x="1932" y="2176" width="159.5" height="348.5" fill="#00f" stroke="#000" stroke-width="5"/>
<path d="M2012 2175V2170M1970 2170H2054" stroke-width="5"/>
<rect x="2175.5" y="2416.5" width="158.3" height="108" fill="#0f0" stroke="#000" stroke-width="5"/>
<path d="M2254.3 2416V2411.5M2212.3 2411.5H2296.3" stroke-width="5"/>
<path d="M1650 1863.6V2524.5" stroke-width="6"/>
<path d="M1632 2524.5H1650M1632 2359.9H1650M1632 2195.3H1650M1632 2030.7H1650M1632 1866.1H1650" stroke-width="5"/>
<text text-anchor="end" x="1621" y="2551">0</text>
<text text-anchor="end" x="1621" y="2386.4">2</text>
<text text-anchor="end" x="1621" y="2221.8">4</text>
<text text-anchor="end" x="1621" y="2057.2">6</text>
<text text-anchor="end" x="1621" y="1892.6">8</text>
<path d="M1627.6 2524.5H2378" stroke-width="6"/>
<path d="M1770.5 2524.5V2545.5M2012 2524.5V2545.5M2254.3 2524.5V2545.5" stroke-width="5"/>
<path d="M1789 1951V1920M2236.3 1951V1920" stroke-width="6"/>
<path d="M1786 1920H2239.3" stroke-width="7"/>
<path d="M1789 2032V2005M1993 2032V2005" stroke-width="6"/>
<path d="M1786 2005H1996" stroke-width="7"/>
<path d="M2027 2032V2005M2236.3 2032V2005" stroke-width="6"/>
<path d="M2024 2005H2239.3" stroke-width="7"/>
<text text-anchor="middle" font-family="'Liberation Sans','Noto Sans CJK SC',sans-serif" font-size="48.9" x="2012.7" y="1920.2" style="stroke:#000;stroke-width:1.5px">*</text>
<text text-anchor="middle" font-family="'Liberation Sans','Noto Sans CJK SC',sans-serif" font-size="47" x="1889.6" y="2007.7" style="stroke:#000;stroke-width:1.4px" letter-spacing="3.3">**</text>
<text text-anchor="middle" font-family="'Liberation Sans','Noto Sans CJK SC',sans-serif" font-size="47" x="2136.1" y="2007.7" style="stroke:#000;stroke-width:1.4px" letter-spacing="3.3">**</text>
<text text-anchor="middle" x="1761.8" y="2613">NC</text>
<text text-anchor="middle" x="2002" y="2613">NC +</text>
<text text-anchor="middle" x="2002" y="2688">H<tspan dy="14" font-size="41">2</tspan><tspan dy="-14">O</tspan><tspan dy="14" font-size="41">2</tspan></text>
<text text-anchor="middle" x="2261" y="2613">H<tspan dy="14" font-size="41">2</tspan><tspan dy="-14">O</tspan><tspan dy="14" font-size="41">2</tspan><tspan dy="-14"> +</tspan></text>
<text text-anchor="middle" x="2261.8" y="2688">siChemerin</text>
<text text-anchor="middle" transform="translate(1463.7 2205) rotate(-90)">Relative expression of</text>
<text text-anchor="middle" transform="translate(1544.4 2207) rotate(-90)">Bax/Bcl-2 mRNA</text>
<!-- panel f -->
<text font-size="83.3" x="2596" y="1817.5">f</text>
<rect x="2856.8" y="2387.5" width="160.3" height="164.3" fill="#fff" stroke="#000" stroke-width="5"/>
<rect x="3099.7" y="2182.5" width="159.6" height="369.3" fill="#00f" stroke="#000" stroke-width="5"/>
<path d="M3179.5 2182V2110.8M3136 2110.8H3223" stroke-width="5"/>
<rect x="3342.5" y="2363.5" width="159.7" height="188.3" fill="#0f0" stroke="#000" stroke-width="5"/>
<path d="M3421 2363V2351M3377.5 2351H3464.5" stroke-width="5"/>
<path d="M2815.2 1888.5V2551.8" stroke-width="6"/>
<path d="M2797.2 2551.8H2815.2M2797.2 2386.6H2815.2M2797.2 2221.4H2815.2M2797.2 2056.2H2815.2M2797.2 1891H2815.2" stroke-width="5"/>
<text text-anchor="end" x="2783.2" y="2578.3">0</text>
<text text-anchor="end" x="2783.2" y="2413.1">1</text>
<text text-anchor="end" x="2783.2" y="2247.9">2</text>
<text text-anchor="end" x="2783.2" y="2082.7">3</text>
<text text-anchor="end" x="2783.2" y="1917.5">4</text>
<path d="M2796 2551.8H3545" stroke-width="6"/>
<path d="M2936.3 2551.8V2572.8M3179.2 2551.8V2572.8M3420.8 2551.8V2572.8" stroke-width="5"/>
<path d="M2956 1978V1945M3402 1978V1945" stroke-width="6"/>
<path d="M2953 1945H3405" stroke-width="7"/>
<path d="M2956 2061V2029M3159 2061V2029" stroke-width="6"/>
<path d="M2953 2029H3162" stroke-width="7"/>
<path d="M3194 2061V2029M3402 2061V2029" stroke-width="6"/>
<path d="M3191 2029H3405" stroke-width="7"/>
<text text-anchor="middle" font-family="'Liberation Sans','Noto Sans CJK SC',sans-serif" font-size="51" x="3179" y="1912" letter-spacing="7">NS</text>
<text text-anchor="middle" font-family="'Liberation Sans','Noto Sans CJK SC',sans-serif" font-size="48.9" x="3061" y="2035.2" style="stroke:#000;stroke-width:1.5px">*</text>
<text text-anchor="middle" font-family="'Liberation Sans','Noto Sans CJK SC',sans-serif" font-size="48.9" x="3301" y="2035.2" style="stroke:#000;stroke-width:1.5px">*</text>
<text text-anchor="middle" x="2929.5" y="2636">NC</text>
<text text-anchor="middle" x="3172" y="2636">H<tspan dy="14" font-size="41">2</tspan><tspan dy="-14">O</tspan><tspan dy="14" font-size="41">2</tspan><tspan dy="-14"> +</tspan></text>
<text text-anchor="middle" x="3172" y="2711">NC</text>
<text text-anchor="middle" x="3456" y="2636">H<tspan dy="14" font-size="41">2</tspan><tspan dy="-14">O</tspan><tspan dy="14" font-size="41">2</tspan><tspan dy="-14"> +</tspan></text>
<text text-anchor="middle" x="3456" y="2711">siChemerin</text>
<text text-anchor="middle" transform="translate(2622.7 2229) rotate(-90)">Relative expression of</text>
<text text-anchor="middle" transform="translate(2703.4 2229) rotate(-90)">Caspase-3 mRNA</text>
<!-- panel g -->
<path d="M5.3 2740.4L2662.3 2740.4" stroke-width="4.8" stroke-dasharray="16.606 16.606" stroke-dashoffset="8.303"/>
<path d="M2662.3 2740.4L2662.3 3670" stroke-width="4.8" stroke-dasharray="16.600 16.600" stroke-dashoffset="8.300"/>
<path d="M2662.3 3670L5.3 3670" stroke-width="4.8" stroke-dasharray="16.606 16.606" stroke-dashoffset="8.303"/>
<path d="M5.3 3670L5.3 2740.4" stroke-width="4.8" stroke-dasharray="16.600 16.600" stroke-dashoffset="8.300"/>
<rect x="2.9" y="2738" width="4.8" height="4.8" stroke="none"/>
<rect x="2659.9" y="2738" width="4.8" height="4.8" stroke="none"/>
<rect x="2659.9" y="3667.6" width="4.8" height="4.8" stroke="none"/>
<rect x="2.9" y="3667.6" width="4.8" height="4.8" stroke="none"/>
<text font-size="83.3" x="26" y="2810.5">g</text>
<g shape-rendering="crispEdges" stroke-width="3">
<path d="M279 3369h3M273 3348h3M270 3348h3M276 3351h3M258 3300h3M243 3342h3M297 3282h3M276 3297h3M279 3336h3M243 3258h3M255 3330h3M255 3342h3M285 3282h3M267 3342h3M258 3333h3M273 3342h3M258 3318h3M234 3339h3M261 3294h3M276 3321h3M315 3345h3M303 3330h3M276 3312h3M288 3330h3M246 3342h3M267 3321h3M249 3351h3M303 3264h3M270 3336h3M261 3339h3M255 3318h3M252 3327h3M237 3360h3M237 3312h3M303 3336h3M264 3258h3M249 3294h3M234 3336h3M252 3354h3M243 3345h3M276 3336h3M267 3300h3M234 3297h3M243 3354h3M273 3324h3M312 3348h3M243 3327h3M285 3369h3M291 3333h3M234 3291h3M273 3321h3M279 3264h3M279 3375h3M303 3339h3M246 3369h3M294 3369h3M303 3303h3M264 3270h3M246 3342h3M264 3288h3M267 3318h3M291 3339h3M240 3324h3M294 3351h3M294 3333h3M270 3360h3M321 3354h3M291 3339h3M276 3321h3M246 3369h3M279 3336h3M255 3327h3M294 3372h3M243 3342h3M327 3351h3M246 3336h3M264 3345h3M246 3312h3M249 3324h3M264 3357h3M282 3369h3M282 3285h3M273 3327h3M258 3315h3M243 3366h3M252 3318h3M246 3345h3M273 3327h3M294 3348h3M261 3321h3M252 3324h3M249 3279h3M300 3327h3M276 3324h3M285 3321h3M279 3369h3M315 3345h3M267 3273h3M282 3333h3M324 3351h3M234 3339h3M243 3321h3M261 3336h3M279 3348h3M261 3333h3M246 3345h3M288 3327h3M282 3354h3M282 3312h3M330 3345h3M288 3309h3M252 3291h3M282 3348h3M294 3336h3M294 3324h3M291 3336h3M249 3321h3" stroke="#b4b4ff" opacity="0.6"/>
<path d="M294 2973h3m276 3h3m-90 9h3m69 0h3m-237 3h3m294 0h3m-291 3h3m126 6h3m48 0h3m30 0h3m6 0h3m24 0h3m-36 3h3m-204 3h3m0 0h3m36 0h3m387 0h3m-408 3h3m24 0h3m12 0h3m21 0h3m3 0h3m51 0h3m42 0h3m-180 3h3m12 0h3m63 0h3m45 0h3m75 0h3m15 0h3m-237 3h3m72 0h3m9 0h3m30 0h3m18 0h3m48 0h3m12 0h3m12 0h3m-342 3h3m96 0h3m24 0h3m6 0h3m42 0h3m18 0h3m9 0h3m9 0h3m3 0h3m36 0h3m9 0h3m18 0h3m75 0h3m-318 3h3m48 0h3m30 0h3m72 0h3m0 0h3m6 0h3m42 0h3m45 0h3m12 0h3m6 0h3m36 0h3m33 0h3m18 0h3m54 0h3m-339 3h3m6 0h3m33 0h3m15 0h3m12 0h3m0 0h3m6 0h3m36 0h3m18 0h3m-186 3h3m0 0h3m42 0h3m6 0h3m12 0h3m0 0h3m6 0h3m24 0h3m0 0h3m27 0h3m27 0h3m36 0h3m21 0h3m57 0h3m-345 3h3m3 0h3m3 0h3m78 0h3m12 0h3m6 0h3m6 0h3m18 0h3m36 0h3m3 0h3m9 0h3m3 0h3m15 0h3m33 0h3m24 0h3m-348 3h3m96 0h3m0 0h3m33 0h3m3 0h3m6 0h3m0 0h3m21 0h3m12 0h3m9 0h3m0 0h3m3 0h3m12 0h3m0 0h3m9 0h3m3 0h3m54 0h3m0 0h3m66 0h3m-411 3h3m105 0h3m3 0h3m12 0h3m30 0h3m0 0h3m6 0h3m0 0h3m9 0h3m12 0h3m0 0h3m9 0h3m36 0h3m0 0h3m6 0h3m3 0h3m36 0h3m9 0h3m0 0h3m6 0h3m27 0h3m3 0h3m0 0h3m24 0h3m15 0h3m-387 3h3m42 0h3m3 0h3m54 0h3m3 0h3m0 0h3m36 0h3m9 0h3m0 0h3m0 0h3m12 0h3m0 0h3m12 0h3m15 0h3m3 0h3m0 0h3m0 0h3m9 0h3m6 0h3m9 0h3m3 0h3m24 0h3m18 0h3m18 0h3m12 0h3m15 0h3m21 0h3m-423 3h3m90 0h3m15 0h3m9 0h3m21 0h3m30 0h3m18 0h3m0 0h3m0 0h3m3 0h3m3 0h3m3 0h3m15 0h3m12 0h3m6 0h3m0 0h3m3 0h3m0 0h3m15 0h3m0 0h3m6 0h3m3 0h3m6 0h3m0 0h3m24 0h3m-366 3h3m18 0h3m9 0h3m12 0h3m48 0h3m12 0h3m12 0h3m3 0h3m0 0h3m39 0h3m3 0h3m0 0h3m0 0h3m3 0h3m3 0h3m9 0h3m15 0h3m3 0h3m0 0h3m0 0h3m6 0h3m0 0h3m0 0h3m0 0h3m0 0h3m0 0h3m3 0h3m3 0h3m0 0h3m3 0h3m0 0h3m0 0h3m3 0h3m3 0h3m3 0h3m3 0h3m18 0h3m51 0h3m48 0h3m24 0h3m-411 3h3m3 0h3m45 0h3m33 0h3m6 0h3m6 0h3m3 0h3m6 0h3m3 0h3m6 0h3m0 0h3m0 0h3m3 0h3m0 0h3m6 0h3m9 0h3m0 0h3m0 0h3m0 0h3m18 0h3m0 0h3m0 0h3m3 0h3m9 0h3m0 0h3m3 0h3m9 0h3m9 0h3m12 0h3m15 0h3m0 0h3m12 0h3m6 0h3m12 0h3m-417 3h3m21 0h3m0 0h3m87 0h3m30 0h3m0 0h3m3 0h3m3 0h3m3 0h3m6 0h3m6 0h3m6 0h3m0 0h3m0 0h3m9 0h3m0 0h3m0 0h3m0 0h3m0 0h3m0 0h3m0 0h3m3 0h3m0 0h3m0 0h3m3 0h3m0 0h3m0 0h3m0 0h3m0 0h3m6 0h3m3 0h3m6 0h3m3 0h3m0 0h3m3 0h3m0 0h3m0 0h3m6 0h3m0 0h3m3 0h3m0 0h3m3 0h3m0 0h3m3 0h3m0 0h3m24 0h3m36 0h3m-411 3h3m12 0h3m18 0h3m9 0h3m51 0h3m0 0h3m12 0h3m3 0h3m0 0h3m3 0h3m18 0h3m9 0h3m9 0h3m6 0h3m3 0h3m0 0h3m0 0h3m0 0h3m0 0h3m6 0h3m3 0h3m0 0h3m0 0h3m0 0h3m0 0h3m3 0h3m0 0h3m3 0h3m0 0h3m0 0h3m3 0h3m9 0h3m3 0h3m0 0h3m0 0h3m6 0h3m3 0h3m0 0h3m3 0h3m6 0h3m0 0h3m0 0h3m9 0h3m12 0h3m3 0h3m21 0h3m6 0h3m-339 3h3m0 0h3m42 0h3m6 0h3m0 0h3m18 0h3m3 0h3m15 0h3m18 0h3m0 0h3m0 0h3m12 0h3m0 0h3m3 0h3m0 0h3m0 0h3m6 0h3m3 0h3m0 0h3m0 0h3m0 0h3m3 0h3m0 0h3m0 0h3m0 0h3m9 0h3m0 0h3m0 0h3m0 0h3m0 0h3m0 0h3m0 0h3m6 0h3m0 0h3m3 0h3m0 0h3m0 0h3m0 0h3m0 0h3m0 0h3m0 0h3m0 0h3m0 0h3m3 0h3m0 0h3m6 0h3m72 0h3m39 0h3m-378 3h3m27 0h3m18 0h3m15 0h3m12 0h3m3 0h3m3 0h3m21 0h3m0 0h3m0 0h3m3 0h3m0 0h3m0 0h3m0 0h3m0 0h3m0 0h3m0 0h3m0 0h3m3 0h3m6 0h3m3 0h3m0 0h3m0 0h3m0 0h3m0 0h3m0 0h3m0 0h3m0 0h3m0 0h3m9 0h3m0 0h3m0 0h3m0 0h3m6 0h3m0 0h3m0 0h3m9 0h3m6 0h3m-315 3h3m15 0h3m12 0h3m9 0h3m33 0h3m6 0h3m6 0h3m3 0h3m0 0h3m6 0h3m0 0h3m3 0h3m0 0h3m15 0h3m0 0h3m3 0h3m0 0h3m0 0h3m9 0h3m3 0h3m0 0h3m0 0h3m0 0h3m0 0h3m3 0h3m3 0h3m3 0h3m3 0h3m0 0h3m3 0h3m21 0h3m0 0h3m6 0h3m0 0h3m3 0h3m0 0h3m0 0h3m3 0h3m0 0h3m3 0h3m3 0h3m0 0h3m9 0h3m18 0h3m51 0h3m93 0h3m-516 3h3m72 0h3m39 0h3m0 0h3m12 0h3m9 0h3m3 0h3m9 0h3m6 0h3m0 0h3m0 0h3m0 0h3m0 0h3m3 0h3m0 0h3m0 0h3m0 0h3m0 0h3m18 0h3m0 0h3m3 0h3m9 0h3m0 0h3m3 0h3m0 0h3m3 0h3m3 0h3m0 0h3m6 0h3m0 0h3m3 0h3m0 0h3m0 0h3m3 0h3m0 0h3m0 0h3m12 0h3m6 0h3m0 0h3m9 0h3m3 0h3m3 0h3m39 0h3m-384 3h3m21 0h3m21 0h3m0 0h3m15 0h3m18 0h3m6 0h3m21 0h3m9 0h3m21 0h3m3 0h3m3 0h3m0 0h3m0 0h3m0 0h3m3 0h3m9 0h3m12 0h3m3 0h3m15 0h3m0 0h3m21 0h3m0 0h3m3 0h3m0 0h3m0 0h3m27 0h3m24 0h3m72 0h3m-276 3h3m6 0h3m15 0h3m3 0h3m0 0h3m9 0h3m0 0h3m3 0h3m6 0h3m9 0h3m9 0h3m6 0h3m3 0h3m9 0h3m9 0h3m0 0h3m0 0h3m6 0h3m3 0h3m21 0h3m3 0h3m93 0h3m-360 3h3m6 0h3m3 0h3m15 0h3m39 0h3m9 0h3m12 0h3m9 0h3m27 0h3m21 0h3m0 0h3m0 0h3m27 0h3m6 0h3m9 0h3m24 0h3m0 0h3m3 0h3m3 0h3m12 0h3m3 0h3m42 0h3m12 0h3m-333 3h3m30 0h3m21 0h3m9 0h3m3 0h3m3 0h3m12 0h3m3 0h3m15 0h3m6 0h3m0 0h3m3 0h3m6 0h3m12 0h3m3 0h3m60 0h3m9 0h3m21 0h3m15 0h3m-360 3h3m48 0h3m15 0h3m12 0h3m33 0h3m36 0h3m3 0h3m6 0h3m24 0h3m0 0h3m30 0h3m6 0h3m18 0h3m15 0h3m57 0h3m33 0h3m-360 3h3m21 0h3m12 0h3m9 0h3m12 0h3m3 0h3m18 0h3m36 0h3m6 0h3m3 0h3m21 0h3m15 0h3m6 0h3m30 0h3m18 0h3m6 0h3m15 0h3m0 0h3m18 0h3m15 0h3m45 0h3m-444 3h3m45 0h3m75 0h3m0 0h3m27 0h3m36 0h3m3 0h3m3 0h3m3 0h3m48 0h3m9 0h3m18 0h3m0 0h3m15 0h3m12 0h3m3 0h3m15 0h3m15 0h3m45 0h3m24 0h3m3 0h3m-366 3h3m36 0h3m21 0h3m3 0h3m39 0h3m3 0h3m3 0h3m0 0h3m3 0h3m51 0h3m54 0h3m51 0h3m3 0h3m-282 3h3m6 0h3m6 0h3m27 0h3m9 0h3m0 0h3m3 0h3m30 0h3m63 0h3m42 0h3m63 0h3m-306 3h3m15 0h3m39 0h3m21 0h3m0 0h3m6 0h3m15 0h3m9 0h3m54 0h3m51 0h3m-162 3h3m24 0h3m18 0h3m3 0h3m18 0h3m30 0h3m33 0h3m45 0h3m21 0h3m33 0h3m15 0h3m45 0h3m-393 3h3m3 0h3m9 0h3m3 0h3m87 0h3m3 0h3m24 0h3m15 0h3m12 0h3m-132 3h3m18 0h3m21 0h3m15 0h3m3 0h3m24 0h3m0 0h3m135 0h3m-273 3h3m39 0h3m21 0h3m9 0h3m51 0h3m27 0h3m24 0h3m21 0h3m-195 3h3m24 0h3m18 0h3m3 0h3m12 0h3m9 0h3m0 0h3m42 0h3m33 0h3m0 0h3m27 0h3m144 0h3m-363 3h3m36 0h3m0 0h3m12 0h3m24 0h3m27 0h3m9 0h3m12 0h3m3 0h3m15 0h3m6 0h3m9 0h3m111 0h3m-300 3h3m18 0h3m33 0h3m9 0h3m30 0h3m21 0h3m0 0h3m24 0h3m45 0h3m-240 3h3m36 0h3m42 0h3m3 0h3m6 0h3m9 0h3m15 0h3m48 0h3m0 0h3m0 0h3m6 0h3m21 0h3m-159 3h3m9 0h3m12 0h3m0 0h3m30 0h3m21 0h3m9 0h3m3 0h3m0 0h3m6 0h3m0 0h3m-159 3h3m54 0h3m9 0h3m0 0h3m27 0h3m9 0h3m6 0h3m24 0h3m21 0h3m6 0h3m0 0h3m15 0h3m6 0h3m0 0h3m27 0h3m-252 3h3m6 0h3m36 0h3m0 0h3m33 0h3m12 0h3m6 0h3m12 0h3m3 0h3m3 0h3m21 0h3m48 0h3m-165 3h3m21 0h3m6 0h3m6 0h3m33 0h3m9 0h3m27 0h3m3 0h3m6 0h3m-192 3h3m3 0h3m45 0h3m30 0h3m0 0h3m9 0h3m12 0h3m3 0h3m0 0h3m0 0h3m3 0h3m21 0h3m9 0h3m21 0h3m3 0h3m9 0h3m36 0h3m12 0h3m-216 3h3m12 0h3m3 0h3m0 0h3m21 0h3m9 0h3m0 0h3m3 0h3m9 0h3m0 0h3m42 0h3m30 0h3m-180 3h3m12 0h3m24 0h3m24 0h3m0 0h3m3 0h3m0 0h3m9 0h3m3 0h3m0 0h3m6 0h3m12 0h3m9 0h3m-147 3h3m15 0h3m0 0h3m3 0h3m21 0h3m3 0h3m12 0h3m9 0h3m3 0h3m12 0h3m3 0h3m0 0h3m0 0h3m0 0h3m27 0h3m9 0h3m0 0h3m6 0h3m21 0h3m6 0h3m30 0h3m-261 3h3m0 0h3m9 0h3m21 0h3m6 0h3m15 0h3m0 0h3m6 0h3m3 0h3m9 0h3m0 0h3m0 0h3m6 0h3m3 0h3m3 0h3m0 0h3m6 0h3m0 0h3m0 0h3m3 0h3m0 0h3m9 0h3m0 0h3m3 0h3m0 0h3m0 0h3m0 0h3m9 0h3m-174 3h3m30 0h3m3 0h3m9 0h3m9 0h3m0 0h3m3 0h3m0 0h3m9 0h3m6 0h3m0 0h3m6 0h3m0 0h3m0 0h3m6 0h3m15 0h3m21 0h3m-156 3h3m0 0h3m6 0h3m0 0h3m6 0h3m3 0h3m12 0h3m3 0h3m3 0h3m6 0h3m0 0h3m3 0h3m0 0h3m0 0h3m12 0h3m0 0h3m12 0h3m0 0h3m27 0h3m54 0h3m9 0h3m3 0h3m-324 3h3m87 0h3m3 0h3m42 0h3m12 0h3m3 0h3m0 0h3m0 0h3m12 0h3m6 0h3m0 0h3m18 0h3m0 0h3m0 0h3m6 0h3m24 0h3m6 0h3m0 0h3m21 0h3m3 0h3m-219 3h3m6 0h3m3 0h3m0 0h3m3 0h3m0 0h3m3 0h3m3 0h3m9 0h3m0 0h3m0 0h3m0 0h3m3 0h3m0 0h3m24 0h3m0 0h3m0 0h3m3 0h3m0 0h3m0 0h3m3 0h3m0 0h3m0 0h3m0 0h3m9 0h3m0 0h3m0 0h3m18 0h3m3 0h3m12 0h3m-204 3h3m6 0h3m15 0h3m21 0h3m0 0h3m0 0h3m9 0h3m0 0h3m0 0h3m3 0h3m6 0h3m6 0h3m6 0h3m0 0h3m0 0h3m6 0h3m3 0h3m0 0h3m3 0h3m6 0h3m3 0h3m0 0h3m6 0h3m9 0h3m12 0h3m12 0h3m0 0h3m6 0h3m12 0h3m-210 3h3m3 0h3m6 0h3m6 0h3m0 0h3m6 0h3m0 0h3m0 0h3m0 0h3m3 0h3m0 0h3m0 0h3m12 0h3m3 0h3m0 0h3m0 0h3m0 0h3m0 0h3m12 0h3m3 0h3m0 0h3m0 0h3m6 0h3m0 0h3m0 0h3m3 0h3m3 0h3m0 0h3m3 0h3m3 0h3m6 0h3m69 0h3m-276 3h3m3 0h3m0 0h3m0 0h3m24 0h3m3 0h3m0 0h3m3 0h3m9 0h3m6 0h3m0 0h3m3 0h3m3 0h3m3 0h3m0 0h3m6 0h3m0 0h3m0 0h3m3 0h3m0 0h3m9 0h3m3 0h3m3 0h3m12 0h3m0 0h3m9 0h3m39 0h3m-222 3h3m9 0h3m9 0h3m3 0h3m6 0h3m3 0h3m0 0h3m9 0h3m3 0h3m0 0h3m0 0h3m0 0h3m0 0h3m0 0h3m3 0h3m0 0h3m0 0h3m0 0h3m0 0h3m0 0h3m3 0h3m0 0h3m0 0h3m0 0h3m0 0h3m0 0h3m6 0h3m12 0h3m9 0h3m0 0h3m3 0h3m27 0h3m33 0h3m-246 3h3m24 0h3m12 0h3m9 0h3m3 0h3m0 0h3m3 0h3m3 0h3m6 0h3m3 0h3m0 0h3m15 0h3m0 0h3m3 0h3m3 0h3m0 0h3m0 0h3m0 0h3m0 0h3m6 0h3m0 0h3m12 0h3m3 0h3m0 0h3m3 0h3m18 0h3m27 0h3m-243 3h3m24 0h3m0 0h3m15 0h3m3 0h3m0 0h3m6 0h3m3 0h3m0 0h3m0 0h3m6 0h3m0 0h3m0 0h3m3 0h3m0 0h3m9 0h3m6 0h3m0 0h3m9 0h3m0 0h3m0 0h3m0 0h3m3 0h3m3 0h3m3 0h3m6 0h3m18 0h3m9 0h3m18 0h3m6 0h3m-240 3h3m54 0h3m6 0h3m0 0h3m0 0h3m0 0h3m3 0h3m3 0h3m0 0h3m0 0h3m0 0h3m0 0h3m0 0h3m0 0h3m0 0h3m0 0h3m0 0h3m0 0h3m6 0h3m3 0h3m0 0h3m0 0h3m3 0h3m6 0h3m3 0h3m0 0h3m6 0h3m3 0h3m3 0h3m0 0h3m6 0h3m3 0h3m21 0h3m6 0h3m9 0h3m51 0h3m-303 3h3m21 0h3m9 0h3m0 0h3m0 0h3m12 0h3m0 0h3m0 0h3m3 0h3m0 0h3m18 0h3m15 0h3m6 0h3m0 0h3m0 0h3m0 0h3m3 0h3m12 0h3m6 0h3m6 0h3m3 0h3m0 0h3m0 0h3m24 0h3m54 0h3m-267 3h3m27 0h3m9 0h3m0 0h3m12 0h3m3 0h3m0 0h3m0 0h3m12 0h3m0 0h3m9 0h3m6 0h3m3 0h3m3 0h3m3 0h3m0 0h3m0 0h3m0 0h3m3 0h3m0 0h3m0 0h3m0 0h3m12 0h3m0 0h3m0 0h3m0 0h3m3 0h3m9 0h3m30 0h3m0 0h3m12 0h3m-231 3h3m9 0h3m12 0h3m3 0h3m6 0h3m0 0h3m15 0h3m24 0h3m0 0h3m3 0h3m3 0h3m0 0h3m0 0h3m0 0h3m0 0h3m0 0h3m9 0h3m0 0h3m15 0h3m6 0h3m6 0h3m12 0h3m21 0h3m3 0h3m0 0h3m21 0h3m-273 3h3m24 0h3m9 0h3m6 0h3m3 0h3m6 0h3m21 0h3m30 0h3m3 0h3m6 0h3m3 0h3m6 0h3m0 0h3m3 0h3m3 0h3m3 0h3m6 0h3m3 0h3m6 0h3m21 0h3m24 0h3m-231 3h3m3 0h3m15 0h3m9 0h3m3 0h3m9 0h3m12 0h3m12 0h3m12 0h3m0 0h3m0 0h3m3 0h3m6 0h3m6 0h3m3 0h3m9 0h3m0 0h3m3 0h3m6 0h3m0 0h3m3 0h3m0 0h3m0 0h3m9 0h3m39 0h3m-258 3h3m39 0h3m12 0h3m0 0h3m0 0h3m48 0h3m6 0h3m0 0h3m3 0h3m3 0h3m0 0h3m0 0h3m6 0h3m6 0h3m3 0h3m3 0h3m0 0h3m0 0h3m0 0h3m3 0h3m0 0h3m6 0h3m9 0h3m0 0h3m0 0h3m9 0h3m3 0h3m66 0h3m-267 3h3m3 0h3m3 0h3m66 0h3m3 0h3m0 0h3m0 0h3m3 0h3m3 0h3m6 0h3m9 0h3m0 0h3m3 0h3m3 0h3m0 0h3m3 0h3m3 0h3m0 0h3m0 0h3m9 0h3m0 0h3m36 0h3m42 0h3m-282 3h3m9 0h3m0 0h3m0 0h3m3 0h3m3 0h3m15 0h3m39 0h3m0 0h3m6 0h3m3 0h3m3 0h3m0 0h3m3 0h3m0 0h3m0 0h3m6 0h3m0 0h3m0 0h3m0 0h3m6 0h3m6 0h3m0 0h3m0 0h3m0 0h3m3 0h3m0 0h3m3 0h3m6 0h3m15 0h3m18 0h3m51 0h3m-294 3h3m3 0h3m9 0h3m9 0h3m0 0h3m6 0h3m12 0h3m6 0h3m27 0h3m6 0h3m0 0h3m9 0h3m0 0h3m0 0h3m3 0h3m15 0h3m3 0h3m0 0h3m9 0h3m0 0h3m3 0h3m0 0h3m6 0h3m0 0h3m12 0h3m6 0h3m18 0h3m-264 3h3m27 0h3m3 0h3m0 0h3m3 0h3m63 0h3m0 0h3m3 0h3m0 0h3m3 0h3m3 0h3m0 0h3m0 0h3m0 0h3m3 0h3m0 0h3m3 0h3m3 0h3m3 0h3m3 0h3m3 0h3m0 0h3m6 0h3m0 0h3m0 0h3m0 0h3m0 0h3m6 0h3m6 0h3m3 0h3m6 0h3m0 0h3m45 0h3m-291 3h3m12 0h3m6 0h3m0 0h3m3 0h3m3 0h3m0 0h3m63 0h3m0 0h3m0 0h3m6 0h3m0 0h3m3 0h3m6 0h3m3 0h3m0 0h3m0 0h3m0 0h3m6 0h3m0 0h3m9 0h3m12 0h3m0 0h3m9 0h3m0 0h3m6 0h3m24 0h3m-270 3h3m24 0h3m6 0h3m9 0h3m0 0h3m3 0h3m0 0h3m3 0h3m57 0h3m3 0h3m0 0h3m0 0h3m3 0h3m3 0h3m3 0h3m3 0h3m9 0h3m3 0h3m3 0h3m0 0h3m3 0h3m6 0h3m0 0h3m18 0h3m0 0h3m18 0h3m3 0h3m3 0h3m-255 3h3m9 0h3m0 0h3m0 0h3m3 0h3m3 0h3m3 0h3m0 0h3m6 0h3m57 0h3m9 0h3m0 0h3m6 0h3m0 0h3m0 0h3m3 0h3m0 0h3m0 0h3m3 0h3m9 0h3m6 0h3m0 0h3m9 0h3m6 0h3m12 0h3m0 0h3m9 0h3m3 0h3m0 0h3m-252 3h3m15 0h3m3 0h3m9 0h3m3 0h3m6 0h3m63 0h3m3 0h3m0 0h3m3 0h3m0 0h3m3 0h3m6 0h3m0 0h3m0 0h3m0 0h3m3 0h3m6 0h3m0 0h3m0 0h3m0 0h3m3 0h3m9 0h3m0 0h3m3 0h3m3 0h3m0 0h3m9 0h3m33 0h3m-261 3h3m6 0h3m15 0h3m0 0h3m0 0h3m0 0h3m15 0h3m39 0h3m24 0h3m9 0h3m0 0h3m3 0h3m0 0h3m3 0h3m0 0h3m24 0h3m3 0h3m0 0h3m6 0h3m6 0h3m9 0h3m0 0h3m0 0h3m3 0h3m0 0h3m6 0h3m9 0h3m0 0h3m-276 3h3m27 0h3m0 0h3m3 0h3m0 0h3m66 0h3m3 0h3m6 0h3m0 0h3m6 0h3m0 0h3m6 0h3m0 0h3m0 0h3m0 0h3m9 0h3m9 0h3m3 0h3m0 0h3m6 0h3m12 0h3m3 0h3m3 0h3m3 0h3m12 0h3m3 0h3m-273 3h3m18 0h3m27 0h3m3 0h3m3 0h3m0 0h3m69 0h3m0 0h3m0 0h3m3 0h3m0 0h3m0 0h3m12 0h3m0 0h3m0 0h3m3 0h3m0 0h3m0 0h3m3 0h3m3 0h3m3 0h3m0 0h3m9 0h3m12 0h3m9 0h3m12 0h3m6 0h3m-255 3h3m6 0h3m3 0h3m6 0h3m0 0h3m3 0h3m81 0h3m3 0h3m15 0h3m9 0h3m0 0h3m0 0h3m0 0h3m0 0h3m0 0h3m24 0h3m0 0h3m9 0h3m0 0h3m6 0h3m0 0h3m51 0h3m-333 3h3m54 0h3m30 0h3m6 0h3m60 0h3m3 0h3m0 0h3m0 0h3m0 0h3m3 0h3m3 0h3m9 0h3m0 0h3m0 0h3m0 0h3m3 0h3m0 0h3m3 0h3m3 0h3m9 0h3m39 0h3m3 0h3m0 0h3m6 0h3m42 0h3m-297 3h3m9 0h3m0 0h3m3 0h3m0 0h3m0 0h3m3 0h3m66 0h3m3 0h3m3 0h3m0 0h3m9 0h3m0 0h3m0 0h3m9 0h3m0 0h3m0 0h3m0 0h3m15 0h3m9 0h3m3 0h3m3 0h3m3 0h3m15 0h3m-243 3h3m3 0h3m15 0h3m0 0h3m18 0h3m0 0h3m60 0h3m3 0h3m0 0h3m0 0h3m0 0h3m3 0h3m0 0h3m9 0h3m3 0h3m6 0h3m30 0h3m9 0h3m0 0h3m3 0h3m6 0h3m6 0h3m30 0h3m-258 3h3m6 0h3m0 0h3m0 0h3m15 0h3m3 0h3m48 0h3m3 0h3m6 0h3m0 0h3m0 0h3m6 0h3m0 0h3m9 0h3m3 0h3m9 0h3m0 0h3m0 0h3m21 0h3m21 0h3m0 0h3m12 0h3m9 0h3m24 0h3m0 0h3m-264 3h3m0 0h3m9 0h3m0 0h3m0 0h3m0 0h3m45 0h3m3 0h3m9 0h3m9 0h3m12 0h3m12 0h3m0 0h3m0 0h3m12 0h3m0 0h3m0 0h3m0 0h3m3 0h3m15 0h3m0 0h3m12 0h3m9 0h3m18 0h3m6 0h3m42 0h3m-306 3h3m21 0h3m0 0h3m81 0h3m3 0h3m18 0h3m24 0h3m12 0h3m0 0h3m3 0h3m15 0h3m6 0h3m-228 3h3m0 0h3m12 0h3m3 0h3m3 0h3m6 0h3m0 0h3m33 0h3m18 0h3m12 0h3m3 0h3m6 0h3m0 0h3m9 0h3m3 0h3m0 0h3m6 0h3m9 0h3m0 0h3m0 0h3m0 0h3m0 0h3m0 0h3m0 0h3m3 0h3m12 0h3m27 0h3m15 0h3m36 0h3m-291 3h3m0 0h3m3 0h3m0 0h3m0 0h3m0 0h3m0 0h3m0 0h3m33 0h3m3 0h3m18 0h3m0 0h3m3 0h3m12 0h3m0 0h3m9 0h3m3 0h3m6 0h3m0 0h3m3 0h3m6 0h3m9 0h3m0 0h3m0 0h3m12 0h3m18 0h3m51 0h3m-255 3h3m3 0h3m6 0h3m0 0h3m3 0h3m30 0h3m15 0h3m0 0h3m0 0h3m0 0h3m0 0h3m3 0h3m3 0h3m18 0h3m0 0h3m27 0h3m9 0h3m18 0h3m0 0h3m-240 3h3m39 0h3m3 0h3m3 0h3m0 0h3m48 0h3m6 0h3m15 0h3m0 0h3m0 0h3m0 0h3m15 0h3m6 0h3m3 0h3m6 0h3m27 0h3m21 0h3m6 0h3m51 0h3m-261 3h3m3 0h3m3 0h3m6 0h3m9 0h3m3 0h3m27 0h3m9 0h3m3 0h3m3 0h3m3 0h3m18 0h3m0 0h3m3 0h3m6 0h3m21 0h3m0 0h3m36 0h3m12 0h3m3 0h3m33 0h3m27 0h3m-315 3h3m12 0h3m0 0h3m3 0h3m3 0h3m0 0h3m3 0h3m21 0h3m24 0h3m0 0h3m0 0h3m15 0h3m0 0h3m0 0h3m0 0h3m15 0h3m0 0h3m12 0h3m3 0h3m9 0h3m6 0h3m6 0h3m12 0h3m3 0h3m-222 3h3m0 0h3m15 0h3m0 0h3m0 0h3m0 0h3m3 0h3m0 0h3m0 0h3m9 0h3m3 0h3m0 0h3m3 0h3m0 0h3m6 0h3m0 0h3m0 0h3m0 0h3m0 0h3m0 0h3m0 0h3m0 0h3m0 0h3m9 0h3m3 0h3m3 0h3m21 0h3m3 0h3m0 0h3m3 0h3m6 0h3m18 0h3m15 0h3m3 0h3m3 0h3m48 0h3m-309 3h3m18 0h3m0 0h3m18 0h3m0 0h3m0 0h3m0 0h3m0 0h3m6 0h3m24 0h3m3 0h3m9 0h3m3 0h3m0 0h3m3 0h3m0 0h3m9 0h3m3 0h3m18 0h3m63 0h3m6 0h3m45 0h3m-288 3h3m9 0h3m6 0h3m3 0h3m0 0h3m3 0h3m0 0h3m0 0h3m3 0h3m0 0h3m0 0h3m12 0h3m0 0h3m3 0h3m6 0h3m3 0h3m3 0h3m0 0h3m0 0h3m6 0h3m0 0h3m33 0h3m87 0h3m18 0h3m18 0h3m3 0h3m-300 3h3m9 0h3m15 0h3m0 0h3m0 0h3m0 0h3m0 0h3m0 0h3m3 0h3m0 0h3m0 0h3m0 0h3m6 0h3m3 0h3m0 0h3m3 0h3m3 0h3m0 0h3m0 0h3m6 0h3m9 0h3m3 0h3m0 0h3m12 0h3m9 0h3m0 0h3m3 0h3m6 0h3m42 0h3m39 0h3m6 0h3m-243 3h3m0 0h3m3 0h3m0 0h3m0 0h3m0 0h3m0 0h3m0 0h3m0 0h3m3 0h3m6 0h3m0 0h3m21 0h3m0 0h3m3 0h3m0 0h3m0 0h3m9 0h3m18 0h3m0 0h3m42 0h3m0 0h3m9 0h3m18 0h3m6 0h3m6 0h3m-240 3h3m12 0h3m6 0h3m3 0h3m9 0h3m3 0h3m0 0h3m3 0h3m0 0h3m3 0h3m0 0h3m9 0h3m6 0h3m15 0h3m15 0h3m87 0h3m33 0h3m-249 3h3m12 0h3m9 0h3m12 0h3m3 0h3m0 0h3m3 0h3m0 0h3m0 0h3m9 0h3m3 0h3m0 0h3m0 0h3m0 0h3m0 0h3m0 0h3m12 0h3m18 0h3m18 0h3m12 0h3m6 0h3m-183 3h3m18 0h3m3 0h3m3 0h3m6 0h3m3 0h3m3 0h3m0 0h3m6 0h3m0 0h3m0 0h3m0 0h3m3 0h3m6 0h3m0 0h3m0 0h3m102 0h3m27 0h3m3 0h3m33 0h3m-270 3h3m12 0h3m3 0h3m3 0h3m12 0h3m0 0h3m0 0h3m12 0h3m3 0h3m0 0h3m15 0h3m0 0h3m27 0h3m132 0h3m-225 3h3m0 0h3m6 0h3m0 0h3m0 0h3m3 0h3m6 0h3m6 0h3m0 0h3m30 0h3m6 0h3m69 0h3m24 0h3m-219 3h3m15 0h3m0 0h3m3 0h3m0 0h3m0 0h3m0 0h3m3 0h3m6 0h3m3 0h3m3 0h3m3 0h3m0 0h3m18 0h3m3 0h3m-129 3h3m6 0h3m9 0h3m0 0h3m12 0h3m15 0h3m3 0h3m6 0h3m0 0h3m3 0h3m0 0h3m0 0h3m0 0h3m3 0h3m12 0h3m9 0h3m30 0h3m27 0h3m3 0h3m15 0h3m42 0h3m-270 3h3m36 0h3m9 0h3m6 0h3m3 0h3m3 0h3m12 0h3m18 0h3m21 0h3m33 0h3m-150 3h3m9 0h3m3 0h3m3 0h3m0 0h3m0 0h3m6 0h3m3 0h3m0 0h3m3 0h3m0 0h3m0 0h3m6 0h3m3 0h3m3 0h3m21 0h3m9 0h3m60 0h3m-174 3h3m6 0h3m3 0h3m0 0h3m18 0h3m3 0h3m6 0h3m15 0h3m12 0h3m87 0h3m-216 3h3m24 0h3m9 0h3m9 0h3m0 0h3m0 0h3m9 0h3m18 0h3m6 0h3m0 0h3m6 0h3m-69 3h3m6 0h3m3 0h3m9 0h3m0 0h3m12 0h3m3 0h3m15 0h3m27 0h3m-99 3h3m30 0h3m6 0h3m60 0h3m66 0h3m-204 3h3m21 0h3m24 0h3m3 0h3m87 0h3m-114 3h3m9 0h3m0 0h3m18 0h3m12 0h3m-84 3h3m24 0h3m12 0h3m39 0h3m-123 3h3m36 0h3m6 0h3m18 0h3m27 0h3m3 0h3m36 0h3m3 0h3m-111 3h3m21 0h3m-87 3h3m57 0h3m9 0h3m6 0h3m18 0h3m126 0h3m-186 3h3m12 0h3m9 0h3m9 0h3m3 0h3m18 0h3m6 0h3m-78 3h3m6 0h3m18 0h3m33 0h3m-33 3h3m30 0h3m129 0h3m-171 3h3m-75 3h3m99 0h3m-99 6h3m3 3h3m-24 6h3" stroke="#1616ea" opacity="0.88"/>
<path d="M519 3045h3m0 0h3m3 0h3m0 0h3m12 0h3m-84 3h3m24 0h3m27 0h3m0 0h3m3 0h3m3 0h3m0 0h3m3 0h3m-30 3h3m3 0h3m0 0h3m0 0h3m3 0h3m9 0h3m-33 3h3m27 3h3m-48 3h3m12 0h3m0 0h3m6 0h3m15 0h3m-111 105h3m12 0h3m-27 6h3m6 0h3m24 0h3m-51 3h3m9 0h3m0 0h3m9 0h3m6 0h3m9 0h3m0 0h3m-39 3h3m-6 3h3m0 0h3m0 0h3m6 0h3m0 0h3m0 0h3m0 0h3m6 0h3m-60 3h3m15 0h3m3 0h3m15 0h3m3 0h3m0 0h3m-45 3h3m3 0h3m0 0h3m0 0h3m3 0h3m3 0h3m0 0h3m0 0h3m3 0h3m0 0h3m-51 3h3m0 0h3m0 0h3m3 0h3m3 0h3m6 0h3m27 0h3m-60 3h3m0 0h3m18 0h3m3 0h3m0 0h3m3 0h3m3 0h3m12 0h3m6 0h3m-72 3h3m0 0h3m0 0h3m3 0h3m0 0h3m6 0h3m0 0h3m18 0h3m-69 3h3m6 0h3m0 0h3m0 0h3m3 0h3m0 0h3m3 0h3m0 0h3m9 0h3m12 0h3m0 0h3m0 0h3m0 0h3m3 0h3m-66 3h3m21 0h3m9 0h3m6 0h3m12 0h3m-66 3h3m0 0h3m9 0h3m18 0h3m12 0h3m0 0h3m-63 3h3m0 0h3m0 0h3m42 0h3m0 0h3m0 0h3m-63 3h3m0 0h3m0 0h3m6 0h3m15 0h3m24 0h3m-72 3h3m6 0h3m3 0h3m3 0h3m0 0h3m36 0h3m0 0h3m6 0h3m-87 3h3m6 0h3m12 0h3m42 0h3m0 0h3m3 0h3m27 0h3m-99 3h3m0 0h3m3 0h3m3 0h3m30 0h3m9 0h3m3 0h3m-72 3h3m3 0h3m0 0h3m3 0h3m15 0h3m27 0h3m0 0h3m0 0h3m0 0h3m-84 3h3m0 0h3m3 0h3m36 0h3m9 0h3m0 0h3m9 0h3m-78 3h3m6 0h3m3 0h3m48 0h3m3 0h3m0 0h3m-87 3h3m18 0h3m27 0h3m12 0h3m9 0h3m-78 3h3m6 0h3m48 0h3m0 0h3m3 0h3m0 0h3m0 0h3m-78 3h3m3 0h3m3 0h3m3 0h3m0 0h3m3 0h3m18 0h3m3 0h3m3 0h3m0 0h3m0 0h3m0 0h3m-66 3h3m0 0h3m9 0h3m0 0h3m3 0h3m27 0h3m-66 3h3m3 0h3m6 0h3m15 0h3m15 0h3m0 0h3m0 0h3m9 0h3m-69 3h3m0 0h3m42 0h3m3 0h3m0 0h3m0 0h3m-72 3h3m3 0h3m0 0h3m0 0h3m6 0h3m27 0h3m0 0h3m0 0h3m3 0h3m0 0h3m-63 3h3m0 0h3m0 0h3m21 0h3m3 0h3m0 0h3m0 0h3m0 0h3m0 0h3m0 0h3m-60 3h3m9 0h3m6 0h3m0 0h3m3 0h3m9 0h3m21 0h3m-72 3h3m0 0h3m6 0h3m3 0h3m0 0h3m3 0h3m15 0h3m6 0h3m0 0h3m-57 3h3m0 0h3m9 0h3m0 0h3m0 0h3m0 0h3m0 0h3m0 0h3m6 0h3m0 0h3m0 0h3m3 0h3m0 0h3m-69 3h3m9 0h3m0 0h3m3 0h3m0 0h3m6 0h3m9 0h3m0 0h3m0 0h3m0 0h3m0 0h3m0 0h3m0 0h3m-54 3h3m3 0h3m0 0h3m0 0h3m0 0h3m0 0h3m0 0h3m9 0h3m3 0h3m3 0h3m0 0h3m0 0h3m-60 3h3m12 0h3m0 0h3m12 0h3m6 0h3m0 0h3m-48 3h3m0 0h3m3 0h3m0 0h3m0 0h3m0 0h3m0 0h3m0 0h3m0 0h3m0 0h3m3 0h3m3 0h3m0 0h3m0 0h3m-45 3h3m0 0h3m0 0h3m12 0h3m0 0h3m21 0h3m-51 3h3m3 0h3m6 0h3m3 0h3m-33 3h3m3 0h3m0 0h3m12 0h3m0 0h3m-24 3h3m18 0h3m0 0h3m3 0h3m0 0h3m-30 9h3" stroke="#00c878" opacity="0.9"/>
<path d="M435 3183h3m9 0h3m-33 6h3m3 0h3m6 0h3m6 0h3m0 0h3m0 0h3m0 0h3m0 0h3m0 0h3m-42 3h3m0 0h3m3 0h3m6 0h3m12 0h3m-27 3h3m0 0h3m6 0h3m0 0h3m0 0h3m0 0h3m0 0h3m-45 3h3m6 0h3m18 0h3m3 0h3m-33 3h3m3 0h3m27 0h3m-45 3h3m0 0h3m3 0h3m21 0h3m0 0h3m0 0h3m-60 3h3m27 0h3m15 0h3m0 0h3m-45 3h3m36 0h3m3 0h3m-48 3h3m33 0h3m12 0h3m-60 3h3m39 0h3m0 0h3m-51 3h3m36 0h3m3 0h3m0 0h3m0 0h3m-57 6h3m0 0h3m30 0h3m-36 3h3m3 0h3m27 0h3m0 0h3m-51 3h3m12 0h3m3 0h3m30 0h3m-60 3h3m3 0h3m27 0h3m6 0h3m6 0h3m-60 3h3m3 0h3m12 0h3m9 0h3m-33 3h3m18 0h3m15 0h3m3 0h3m-51 3h3m3 0h3m0 0h3m0 0h3m15 0h3m0 0h3m-36 3h3m3 0h3m15 0h3m0 0h3m0 0h3m0 0h3m-30 3h3m18 0h3m12 0h3m-48 3h3m0 0h3m0 0h3m3 0h3m3 0h3m-30 3h3m0 0h3m3 0h3m0 0h3m15 0h3m6 0h3m0 0h3m0 0h3m0 0h3m-36 3h3m3 0h3m9 0h3m-33 3h3m0 0h3m0 3h3m9 0h3m0 0h3m-3 3h3m3 0h3m-42 9h3" stroke="#7ae800" opacity="0.95"/>
<path d="M438 3189h3m-12 9h3m0 0h3m6 0h3m3 0h3m-33 3h3m3 0h3m3 0h3m0 0h3m0 0h3m3 0h3m-18 3h3m-27 3h3m0 0h3m0 0h3m0 0h3m9 0h3m9 0h3m-36 3h3m3 0h3m0 0h3m0 0h3m0 0h3m0 0h3m9 0h3m0 0h3m-30 3h3m0 0h3m12 0h3m0 0h3m6 0h3m-51 3h3m9 0h3m9 0h3m9 0h3m-33 3h3m3 0h3m6 0h3m12 0h3m-27 3h3m3 0h3m9 0h3m3 0h3m0 0h3m6 0h3m0 0h3m-60 3h3m6 0h3m3 0h3m6 0h3m6 0h3m9 0h3m-48 3h3m6 0h3m27 0h3m6 0h3m0 0h3m-51 3h3m0 0h3m0 0h3m30 0h3m3 0h3m-39 3h3m0 0h3m3 0h3m3 0h3m3 0h3m0 0h3m-33 3h3m6 0h3m0 0h3m6 0h3m3 0h3m-39 3h3m0 0h3m18 0h3m0 0h3m3 0h3m12 0h3m-39 3h3m3 0h3m0 0h3m6 0h3m-36 3h3m6 0h3m3 0h3m-24 3h3m9 0h3m0 0h3m9 0h3m3 0h3m-27 3h3m3 0h3m-6 3h3m3 3h3m0 0h3m9 0h3" stroke="#ffd800" opacity="1"/>
<path d="M423 3204h3m6 0h3m3 0h3m-27 3h3m9 0h3m0 0h3m-3 3h3m-12 3h3m0 0h3m6 0h3m6 0h3m-45 3h3m9 0h3m6 0h3m0 0h3m-21 3h3m12 0h3m0 0h3m-27 3h3m3 0h3m3 0h3m-18 3h3m27 0h3m-27 3h3m0 0h3m3 0h3m6 0h3m-12 3h3m3 0h3m0 0h3m-36 3h3m0 0h3m0 0h3m12 0h3m12 3h3m-15 3h3m6 0h3m-33 3h3m-9 3h3m9 3h3" stroke="#ff7a00" opacity="1"/>
<path d="M426 3198h3m-12 9h3m12 0h3m-9 3h3m12 0h3m-30 3h3m0 0h3m-15 3h3m0 0h3m6 0h3m9 0h3m0 0h3m-27 3h3m3 0h3m0 0h3m-3 3h3m3 0h3m6 0h3m-33 3h3m0 0h3m3 0h3m0 0h3m-18 3h3m6 0h3m3 0h3m0 0h3m-21 3h3m3 0h3m0 0h3m12 0h3m-24 3h3m0 3h3m-15 3h3m6 0h3m-15 6h3m3 0h3m-9 3h3m0 0h3" stroke="#f01000" opacity="1"/>
</g>
<path d="M505.4 2809.3V3382.6M227.6 3121H837" stroke-width="3.4" stroke="#3a3a3a"/>
<path d="M227.6 2809.3H837" stroke-width="3.6" stroke="#3a3a3a"/>
<path d="M837 2807.5V3385.1" stroke-width="3.6" stroke="#3a3a3a"/>
<path d="M227.6 2807.5V3385.1" stroke-width="5"/>
<path d="M227.6 3382.6H837" stroke-width="5"/>
<path d="M227.6 3382.6v15M379.9 3382.6v15M532.3 3382.6v15M684.6 3382.6v15M837 3382.6v15" stroke-width="3.6" stroke="#222"/>
<path d="M273.5 3382.6v9M300.3 3382.6v9M319.3 3382.6v9M334.1 3382.6v9M346.2 3382.6v9M356.4 3382.6v9M365.2 3382.6v9M373 3382.6v9M425.8 3382.6v9M452.6 3382.6v9M471.7 3382.6v9M486.4 3382.6v9M498.5 3382.6v9M508.7 3382.6v9M517.5 3382.6v9M525.3 3382.6v9M578.2 3382.6v9M605 3382.6v9M624 3382.6v9M638.8 3382.6v9M650.9 3382.6v9M661.1 3382.6v9M669.9 3382.6v9M677.7 3382.6v9M730.5 3382.6v9M757.3 3382.6v9M776.4 3382.6v9M791.1 3382.6v9M803.2 3382.6v9M813.4 3382.6v9M822.2 3382.6v9M830 3382.6v9" stroke-width="2.6" stroke="#333"/>
<path d="M227.6 3382.6h-17M227.6 3239.3h-17M227.6 3095.9h-17M227.6 2952.6h-17M227.6 2809.3h-17" stroke-width="3.6" stroke="#222"/>
<path d="M227.6 3339.5h-9M227.6 3314.2h-9M227.6 3296.3h-9M227.6 3282.4h-9M227.6 3271.1h-9M227.6 3261.5h-9M227.6 3253.2h-9M227.6 3245.8h-9M227.6 3196.1h-9M227.6 3170.9h-9M227.6 3153h-9M227.6 3139.1h-9M227.6 3127.7h-9M227.6 3118.2h-9M227.6 3109.8h-9M227.6 3102.5h-9M227.6 3052.8h-9M227.6 3027.6h-9M227.6 3009.7h-9M227.6 2995.8h-9M227.6 2984.4h-9M227.6 2974.8h-9M227.6 2966.5h-9M227.6 2959.2h-9M227.6 2909.5h-9M227.6 2884.2h-9M227.6 2866.3h-9M227.6 2852.4h-9M227.6 2841.1h-9M227.6 2831.5h-9M227.6 2823.2h-9M227.6 2815.9h-9" stroke-width="2.6" stroke="#333"/>
<text font-family="'Liberation Sans','Noto Sans CJK SC',sans-serif" style="fill:#3a3a3a" font-size="28" x="238.6" y="2844.3" stroke="#3a3a3a" stroke-width="0.6" style="stroke:#3a3a3a">Q1</text>
<text font-family="'Liberation Sans','Noto Sans CJK SC',sans-serif" style="fill:#3a3a3a" font-size="28" x="238.6" y="2884.3" stroke="#3a3a3a" stroke-width="0.6" style="stroke:#3a3a3a">7.80%</text>
<text font-family="'Liberation Sans','Noto Sans CJK SC',sans-serif" style="fill:#3a3a3a" font-size="28" x="740" y="2844.3" stroke="#3a3a3a" stroke-width="0.6" style="stroke:#3a3a3a">Q2</text>
<text font-family="'Liberation Sans','Noto Sans CJK SC',sans-serif" style="fill:#3a3a3a" font-size="28" x="740" y="2884.3" stroke="#3a3a3a" stroke-width="0.6" style="stroke:#3a3a3a">7.20%</text>
<text font-family="'Liberation Sans','Noto Sans CJK SC',sans-serif" style="fill:#3a3a3a" font-size="28" x="238.6" y="3332.6" stroke="#3a3a3a" stroke-width="0.6" style="stroke:#3a3a3a">Q4</text>
<text font-family="'Liberation Sans','Noto Sans CJK SC',sans-serif" style="fill:#3a3a3a" font-size="28" x="238.6" y="3373.6" stroke="#3a3a3a" stroke-width="0.6" style="stroke:#3a3a3a">79.5%</text>
<text font-family="'Liberation Sans','Noto Sans CJK SC',sans-serif" style="fill:#3a3a3a" font-size="28" x="740" y="3332.6" stroke="#3a3a3a" stroke-width="0.6" style="stroke:#3a3a3a">Q3</text>
<text font-family="'Liberation Sans','Noto Sans CJK SC',sans-serif" style="fill:#3a3a3a" font-size="28" x="740" y="3373.6" stroke="#3a3a3a" stroke-width="0.6" style="stroke:#3a3a3a">5.46%</text>
<text x="102.4" y="2843.5">10<tspan dx="-2.5" dy="-25" font-size="40">4</tspan></text>
<text x="102.4" y="2986.5">10<tspan dx="-2.5" dy="-25" font-size="40">3</tspan></text>
<text x="102.4" y="3128.5">10<tspan dx="-2.5" dy="-25" font-size="40">2</tspan></text>
<text x="102.4" y="3269.7">10<tspan dx="-2.5" dy="-25" font-size="40">1</tspan></text>
<text x="102.4" y="3411.6">10<tspan dx="-2.5" dy="-25" font-size="40">0</tspan></text>
<text x="183.4" y="3474">10<tspan dx="-2.5" dy="-25" font-size="40">0</tspan></text>
<text x="335.4" y="3474">10<tspan dx="-2.5" dy="-25" font-size="40">1</tspan></text>
<text x="486.4" y="3474">10<tspan dx="-2.5" dy="-25" font-size="40">2</tspan></text>
<text x="638.4" y="3474">10<tspan dx="-2.5" dy="-25" font-size="40">3</tspan></text>
<text x="790.4" y="3474">10<tspan dx="-2.5" dy="-25" font-size="40">4</tspan></text>
<text text-anchor="middle" transform="translate(67.3 3096) rotate(-90)">FL3-H</text>
<text text-anchor="middle" x="512.4" y="3552.5">FL2-H</text>
<text text-anchor="middle" x="506" y="3637">NC</text>
<g shape-rendering="crispEdges" stroke-width="3">
<path d="M1209 3294h3M1167 3318h3M1176 3339h3M1182 3303h3M1206 3315h3M1206 3333h3M1173 3354h3M1161 3282h3M1182 3294h3M1173 3330h3M1173 3312h3M1161 3330h3M1137 3324h3M1161 3357h3M1197 3288h3M1176 3342h3M1161 3336h3M1197 3312h3M1194 3354h3M1200 3303h3M1188 3330h3M1161 3357h3M1200 3333h3M1152 3324h3M1158 3369h3M1161 3333h3M1185 3330h3M1173 3348h3M1173 3300h3M1146 3333h3M1194 3327h3M1173 3333h3M1203 3315h3M1137 3348h3M1170 3315h3M1161 3357h3M1158 3336h3M1185 3336h3M1161 3333h3M1185 3369h3M1131 3318h3M1161 3303h3M1155 3318h3M1155 3333h3M1167 3297h3M1158 3321h3M1179 3375h3M1107 3327h3M1149 3318h3M1176 3354h3M1140 3336h3M1164 3330h3M1161 3330h3M1185 3330h3M1194 3300h3M1170 3324h3M1152 3300h3M1179 3315h3M1143 3330h3M1194 3327h3" stroke="#b4b4ff" opacity="0.6"/>
<path d="M1296 2979h3m246 3h3m9 3h3m-18 3h3m-156 3h3m126 0h3m24 0h3m21 6h3m6 0h3m-24 3h3m21 0h3m18 0h3m3 0h3m-297 3h3m186 0h3m0 0h3m3 0h3m42 0h3m27 0h3m-96 3h3m12 0h3m15 0h3m-96 3h3m21 3h3m6 0h3m126 0h3m12 0h3m-321 3h3m45 0h3m57 0h3m9 0h3m60 0h3m30 0h3m3 0h3m45 0h3m39 0h3m-186 3h3m3 0h3m9 0h3m27 0h3m27 0h3m3 0h3m0 0h3m18 0h3m3 0h3m9 0h3m9 0h3m-204 3h3m87 0h3m15 0h3m24 0h3m0 0h3m0 0h3m27 0h3m-210 3h3m45 0h3m3 0h3m60 0h3m24 0h3m24 0h3m15 0h3m21 0h3m0 0h3m12 0h3m12 0h3m24 0h3m42 0h3m-357 3h3m27 0h3m9 0h3m0 0h3m108 0h3m3 0h3m6 0h3m3 0h3m3 0h3m0 0h3m15 0h3m0 0h3m0 0h3m36 0h3m-231 3h3m21 0h3m39 0h3m33 0h3m9 0h3m0 0h3m24 0h3m0 0h3m0 0h3m18 0h3m18 0h3m9 0h3m24 0h3m3 0h3m18 0h3m6 0h3m33 0h3m-468 3h3m42 0h3m180 0h3m3 0h3m6 0h3m3 0h3m18 0h3m3 0h3m18 0h3m12 0h3m6 0h3m0 0h3m0 0h3m9 0h3m0 0h3m21 0h3m0 0h3m0 0h3m0 0h3m36 0h3m-282 3h3m78 0h3m30 0h3m3 0h3m15 0h3m24 0h3m6 0h3m0 0h3m9 0h3m3 0h3m0 0h3m0 0h3m6 0h3m6 0h3m12 0h3m12 0h3m0 0h3m9 0h3m-228 3h3m57 0h3m6 0h3m51 0h3m0 0h3m3 0h3m9 0h3m0 0h3m12 0h3m3 0h3m0 0h3m24 0h3m18 0h3m0 0h3m3 0h3m3 0h3m9 0h3m0 0h3m-405 3h3m141 0h3m54 0h3m0 0h3m33 0h3m3 0h3m6 0h3m3 0h3m27 0h3m0 0h3m3 0h3m3 0h3m3 0h3m3 0h3m0 0h3m3 0h3m6 0h3m3 0h3m3 0h3m15 0h3m0 0h3m27 0h3m45 0h3m-432 3h3m183 0h3m15 0h3m21 0h3m0 0h3m15 0h3m9 0h3m9 0h3m0 0h3m12 0h3m3 0h3m0 0h3m3 0h3m9 0h3m0 0h3m0 0h3m3 0h3m0 0h3m3 0h3m6 0h3m0 0h3m3 0h3m0 0h3m6 0h3m18 0h3m3 0h3m0 0h3m-240 3h3m18 0h3m12 0h3m0 0h3m3 0h3m0 0h3m21 0h3m0 0h3m3 0h3m0 0h3m0 0h3m3 0h3m0 0h3m0 0h3m0 0h3m0 0h3m6 0h3m0 0h3m6 0h3m3 0h3m6 0h3m0 0h3m0 0h3m9 0h3m3 0h3m6 0h3m0 0h3m6 0h3m0 0h3m90 0h3m-393 3h3m15 0h3m18 0h3m33 0h3m21 0h3m9 0h3m24 0h3m21 0h3m3 0h3m3 0h3m9 0h3m0 0h3m0 0h3m3 0h3m0 0h3m3 0h3m0 0h3m0 0h3m18 0h3m0 0h3m0 0h3m6 0h3m0 0h3m0 0h3m0 0h3m0 0h3m0 0h3m3 0h3m6 0h3m3 0h3m0 0h3m0 0h3m0 0h3m15 0h3m3 0h3m6 0h3m0 0h3m0 0h3m-402 3h3m123 0h3m6 0h3m21 0h3m15 0h3m9 0h3m0 0h3m0 0h3m3 0h3m0 0h3m18 0h3m3 0h3m9 0h3m0 0h3m0 0h3m6 0h3m0 0h3m6 0h3m0 0h3m0 0h3m6 0h3m0 0h3m3 0h3m0 0h3m3 0h3m0 0h3m3 0h3m0 0h3m3 0h3m0 0h3m0 0h3m3 0h3m0 0h3m0 0h3m3 0h3m6 0h3m9 0h3m3 0h3m0 0h3m3 0h3m3 0h3m9 0h3m27 0h3m-372 3h3m30 0h3m36 0h3m27 0h3m9 0h3m0 0h3m12 0h3m0 0h3m0 0h3m3 0h3m9 0h3m3 0h3m3 0h3m0 0h3m0 0h3m6 0h3m3 0h3m0 0h3m0 0h3m0 0h3m0 0h3m6 0h3m9 0h3m0 0h3m0 0h3m0 0h3m0 0h3m6 0h3m0 0h3m6 0h3m0 0h3m6 0h3m6 0h3m3 0h3m0 0h3m0 0h3m0 0h3m15 0h3m-276 3h3m39 0h3m12 0h3m15 0h3m6 0h3m6 0h3m3 0h3m0 0h3m3 0h3m6 0h3m0 0h3m9 0h3m0 0h3m12 0h3m0 0h3m0 0h3m27 0h3m0 0h3m0 0h3m15 0h3m3 0h3m0 0h3m0 0h3m0 0h3m0 0h3m0 0h3m0 0h3m3 0h3m0 0h3m0 0h3m0 0h3m6 0h3m6 0h3m-288 3h3m0 0h3m12 0h3m15 0h3m27 0h3m0 0h3m6 0h3m24 0h3m6 0h3m0 0h3m9 0h3m3 0h3m0 0h3m0 0h3m6 0h3m0 0h3m6 0h3m0 0h3m0 0h3m6 0h3m3 0h3m6 0h3m12 0h3m6 0h3m12 0h3m6 0h3m0 0h3m3 0h3m3 0h3m9 0h3m0 0h3m3 0h3m3 0h3m18 0h3m15 0h3m-333 3h3m66 0h3m0 0h3m24 0h3m0 0h3m12 0h3m3 0h3m0 0h3m3 0h3m9 0h3m0 0h3m3 0h3m3 0h3m3 0h3m3 0h3m3 0h3m0 0h3m0 0h3m0 0h3m51 0h3m3 0h3m3 0h3m6 0h3m3 0h3m3 0h3m6 0h3m3 0h3m18 0h3m6 0h3m0 0h3m-426 3h3m69 0h3m3 0h3m6 0h3m75 0h3m0 0h3m0 0h3m21 0h3m9 0h3m0 0h3m3 0h3m3 0h3m0 0h3m0 0h3m3 0h3m0 0h3m9 0h3m9 0h3m3 0h3m6 0h3m0 0h3m3 0h3m45 0h3m9 0h3m12 0h3m0 0h3m0 0h3m0 0h3m3 0h3m0 0h3m0 0h3m3 0h3m-321 3h3m48 0h3m36 0h3m6 0h3m3 0h3m0 0h3m3 0h3m33 0h3m6 0h3m6 0h3m9 0h3m3 0h3m3 0h3m21 0h3m0 0h3m21 0h3m0 0h3m12 0h3m9 0h3m9 0h3m0 0h3m0 0h3m3 0h3m9 0h3m0 0h3m27 0h3m9 0h3m0 0h3m-366 3h3m75 0h3m0 0h3m3 0h3m0 0h3m27 0h3m0 0h3m3 0h3m3 0h3m3 0h3m0 0h3m9 0h3m0 0h3m3 0h3m0 0h3m0 0h3m3 0h3m0 0h3m0 0h3m0 0h3m0 0h3m15 0h3m0 0h3m6 0h3m0 0h3m6 0h3m0 0h3m39 0h3m3 0h3m6 0h3m21 0h3m3 0h3m6 0h3m6 0h3m6 0h3m0 0h3m9 0h3m-354 3h3m30 0h3m9 0h3m12 0h3m0 0h3m27 0h3m0 0h3m0 0h3m6 0h3m3 0h3m9 0h3m0 0h3m0 0h3m0 0h3m6 0h3m0 0h3m12 0h3m12 0h3m6 0h3m21 0h3m3 0h3m6 0h3m6 0h3m6 0h3m3 0h3m0 0h3m3 0h3m6 0h3m0 0h3m0 0h3m0 0h3m6 0h3m6 0h3m0 0h3m9 0h3m0 0h3m3 0h3m15 0h3m-309 3h3m21 0h3m12 0h3m39 0h3m6 0h3m0 0h3m0 0h3m6 0h3m0 0h3m0 0h3m0 0h3m0 0h3m0 0h3m0 0h3m3 0h3m0 0h3m0 0h3m0 0h3m0 0h3m27 0h3m6 0h3m18 0h3m27 0h3m3 0h3m0 0h3m15 0h3m6 0h3m3 0h3m6 0h3m48 0h3m-426 3h3m48 0h3m57 0h3m27 0h3m0 0h3m0 0h3m3 0h3m3 0h3m12 0h3m0 0h3m3 0h3m0 0h3m0 0h3m3 0h3m0 0h3m0 0h3m0 0h3m0 0h3m0 0h3m0 0h3m3 0h3m3 0h3m9 0h3m3 0h3m48 0h3m18 0h3m3 0h3m0 0h3m0 0h3m0 0h3m0 0h3m3 0h3m6 0h3m0 0h3m0 0h3m54 0h3m15 0h3m-438 3h3m0 0h3m42 0h3m42 0h3m3 0h3m27 0h3m24 0h3m6 0h3m9 0h3m3 0h3m6 0h3m0 0h3m15 0h3m0 0h3m0 0h3m36 0h3m3 0h3m3 0h3m3 0h3m9 0h3m0 0h3m6 0h3m0 0h3m12 0h3m3 0h3m0 0h3m9 0h3m33 0h3m42 0h3m-345 3h3m18 0h3m0 0h3m24 0h3m3 0h3m0 0h3m0 0h3m9 0h3m6 0h3m9 0h3m0 0h3m3 0h3m0 0h3m0 0h3m3 0h3m0 0h3m12 0h3m0 0h3m3 0h3m3 0h3m0 0h3m12 0h3m3 0h3m9 0h3m0 0h3m9 0h3m3 0h3m0 0h3m6 0h3m6 0h3m3 0h3m3 0h3m3 0h3m0 0h3m0 0h3m0 0h3m0 0h3m3 0h3m0 0h3m0 0h3m27 0h3m-345 3h3m15 0h3m39 0h3m0 0h3m24 0h3m21 0h3m3 0h3m0 0h3m12 0h3m0 0h3m0 0h3m3 0h3m9 0h3m0 0h3m9 0h3m3 0h3m24 0h3m3 0h3m3 0h3m27 0h3m0 0h3m0 0h3m0 0h3m3 0h3m0 0h3m0 0h3m12 0h3m15 0h3m15 0h3m15 0h3m3 0h3m-309 3h3m33 0h3m0 0h3m15 0h3m3 0h3m0 0h3m3 0h3m9 0h3m3 0h3m0 0h3m0 0h3m0 0h3m0 0h3m9 0h3m0 0h3m3 0h3m0 0h3m3 0h3m6 0h3m0 0h3m6 0h3m0 0h3m0 0h3m18 0h3m0 0h3m6 0h3m0 0h3m0 0h3m0 0h3m6 0h3m15 0h3m0 0h3m3 0h3m0 0h3m0 0h3m15 0h3m9 0h3m18 0h3m18 0h3m24 0h3m-459 3h3m117 0h3m6 0h3m12 0h3m6 0h3m9 0h3m18 0h3m6 0h3m0 0h3m0 0h3m12 0h3m3 0h3m0 0h3m0 0h3m0 0h3m0 0h3m0 0h3m0 0h3m0 0h3m3 0h3m9 0h3m0 0h3m18 0h3m0 0h3m3 0h3m12 0h3m3 0h3m3 0h3m6 0h3m3 0h3m0 0h3m3 0h3m6 0h3m54 0h3m9 0h3m12 0h3m6 0h3m3 0h3m15 0h3m-426 3h3m69 0h3m9 0h3m27 0h3m3 0h3m9 0h3m3 0h3m6 0h3m3 0h3m0 0h3m0 0h3m0 0h3m0 0h3m0 0h3m0 0h3m3 0h3m6 0h3m0 0h3m0 0h3m3 0h3m12 0h3m0 0h3m3 0h3m0 0h3m6 0h3m3 0h3m0 0h3m0 0h3m3 0h3m0 0h3m0 0h3m0 0h3m3 0h3m0 0h3m0 0h3m0 0h3m3 0h3m9 0h3m3 0h3m3 0h3m0 0h3m6 0h3m27 0h3m-339 3h3m39 0h3m42 0h3m3 0h3m6 0h3m3 0h3m3 0h3m6 0h3m18 0h3m0 0h3m24 0h3m6 0h3m0 0h3m6 0h3m3 0h3m0 0h3m0 0h3m0 0h3m3 0h3m3 0h3m6 0h3m0 0h3m0 0h3m0 0h3m6 0h3m0 0h3m0 0h3m0 0h3m0 0h3m6 0h3m0 0h3m6 0h3m0 0h3m0 0h3m0 0h3m24 0h3m3 0h3m12 0h3m9 0h3m-342 3h3m69 0h3m0 0h3m0 0h3m9 0h3m3 0h3m0 0h3m6 0h3m0 0h3m9 0h3m3 0h3m0 0h3m3 0h3m0 0h3m0 0h3m18 0h3m12 0h3m3 0h3m0 0h3m3 0h3m0 0h3m3 0h3m3 0h3m0 0h3m12 0h3m3 0h3m3 0h3m3 0h3m0 0h3m3 0h3m3 0h3m9 0h3m0 0h3m0 0h3m18 0h3m9 0h3m15 0h3m0 0h3m-366 3h3m42 0h3m30 0h3m0 0h3m15 0h3m33 0h3m12 0h3m0 0h3m0 0h3m0 0h3m9 0h3m0 0h3m0 0h3m0 0h3m0 0h3m6 0h3m3 0h3m0 0h3m3 0h3m0 0h3m3 0h3m0 0h3m0 0h3m0 0h3m3 0h3m0 0h3m6 0h3m9 0h3m9 0h3m3 0h3m0 0h3m0 0h3m0 0h3m3 0h3m9 0h3m3 0h3m9 0h3m3 0h3m3 0h3m0 0h3m3 0h3m3 0h3m6 0h3m-288 3h3m0 0h3m0 0h3m12 0h3m12 0h3m0 0h3m0 0h3m6 0h3m15 0h3m3 0h3m0 0h3m0 0h3m21 0h3m3 0h3m6 0h3m0 0h3m3 0h3m3 0h3m6 0h3m0 0h3m0 0h3m9 0h3m0 0h3m0 0h3m0 0h3m0 0h3m0 0h3m0 0h3m0 0h3m0 0h3m9 0h3m0 0h3m0 0h3m0 0h3m3 0h3m3 0h3m0 0h3m0 0h3m21 0h3m0 0h3m3 0h3m0 0h3m12 0h3m18 0h3m3 0h3m-321 3h3m9 0h3m6 0h3m24 0h3m9 0h3m3 0h3m6 0h3m0 0h3m9 0h3m18 0h3m3 0h3m0 0h3m0 0h3m3 0h3m0 0h3m6 0h3m0 0h3m3 0h3m12 0h3m0 0h3m0 0h3m3 0h3m6 0h3m12 0h3m3 0h3m0 0h3m6 0h3m3 0h3m0 0h3m3 0h3m0 0h3m12 0h3m15 0h3m6 0h3m6 0h3m39 0h3m-339 3h3m24 0h3m0 0h3m6 0h3m0 0h3m0 0h3m0 0h3m0 0h3m3 0h3m0 0h3m0 0h3m18 0h3m0 0h3m6 0h3m0 0h3m0 0h3m6 0h3m3 0h3m0 0h3m0 0h3m3 0h3m6 0h3m0 0h3m9 0h3m12 0h3m0 0h3m9 0h3m15 0h3m0 0h3m0 0h3m0 0h3m0 0h3m0 0h3m3 0h3m3 0h3m0 0h3m0 0h3m3 0h3m6 0h3m9 0h3m0 0h3m3 0h3m0 0h3m18 0h3m6 0h3m0 0h3m30 0h3m39 0h3m0 0h3m-366 3h3m6 0h3m3 0h3m0 0h3m6 0h3m6 0h3m0 0h3m0 0h3m3 0h3m9 0h3m3 0h3m3 0h3m0 0h3m0 0h3m0 0h3m0 0h3m3 0h3m3 0h3m3 0h3m3 0h3m0 0h3m0 0h3m3 0h3m9 0h3m3 0h3m0 0h3m6 0h3m0 0h3m3 0h3m3 0h3m3 0h3m0 0h3m3 0h3m0 0h3m0 0h3m0 0h3m3 0h3m0 0h3m27 0h3m0 0h3m9 0h3m0 0h3m0 0h3m18 0h3m54 0h3m-354 3h3m12 0h3m6 0h3m3 0h3m6 0h3m27 0h3m3 0h3m6 0h3m6 0h3m0 0h3m0 0h3m9 0h3m0 0h3m9 0h3m6 0h3m0 0h3m0 0h3m3 0h3m18 0h3m0 0h3m3 0h3m0 0h3m0 0h3m3 0h3m3 0h3m0 0h3m6 0h3m0 0h3m0 0h3m6 0h3m3 0h3m3 0h3m3 0h3m15 0h3m6 0h3m3 0h3m0 0h3m0 0h3m42 0h3m6 0h3m18 0h3m-351 3h3m3 0h3m12 0h3m18 0h3m9 0h3m3 0h3m0 0h3m15 0h3m9 0h3m3 0h3m3 0h3m6 0h3m3 0h3m0 0h3m3 0h3m0 0h3m0 0h3m0 0h3m0 0h3m0 0h3m0 0h3m3 0h3m0 0h3m0 0h3m0 0h3m0 0h3m6 0h3m24 0h3m15 0h3m6 0h3m0 0h3m3 0h3m0 0h3m3 0h3m6 0h3m12 0h3m54 0h3m21 0h3m-405 3h3m15 0h3m18 0h3m18 0h3m6 0h3m3 0h3m0 0h3m3 0h3m3 0h3m57 0h3m0 0h3m0 0h3m0 0h3m0 0h3m18 0h3m0 0h3m6 0h3m0 0h3m0 0h3m6 0h3m9 0h3m0 0h3m6 0h3m6 0h3m0 0h3m3 0h3m18 0h3m0 0h3m3 0h3m18 0h3m6 0h3m0 0h3m24 0h3m3 0h3m3 0h3m3 0h3m3 0h3m3 0h3m0 0h3m12 0h3m0 0h3m-336 3h3m21 0h3m6 0h3m0 0h3m0 0h3m6 0h3m9 0h3m0 0h3m3 0h3m0 0h3m0 0h3m0 0h3m3 0h3m3 0h3m9 0h3m0 0h3m0 0h3m0 0h3m15 0h3m0 0h3m3 0h3m0 0h3m9 0h3m3 0h3m0 0h3m6 0h3m6 0h3m0 0h3m9 0h3m3 0h3m0 0h3m24 0h3m6 0h3m0 0h3m12 0h3m0 0h3m3 0h3m0 0h3m9 0h3m18 0h3m15 0h3m3 0h3m-309 3h3m3 0h3m6 0h3m30 0h3m9 0h3m9 0h3m3 0h3m0 0h3m3 0h3m0 0h3m0 0h3m18 0h3m9 0h3m6 0h3m0 0h3m0 0h3m0 0h3m0 0h3m3 0h3m0 0h3m3 0h3m0 0h3m0 0h3m6 0h3m0 0h3m3 0h3m3 0h3m3 0h3m3 0h3m9 0h3m0 0h3m0 0h3m0 0h3m3 0h3m0 0h3m12 0h3m6 0h3m3 0h3m3 0h3m0 0h3m6 0h3m3 0h3m9 0h3m9 0h3m-414 3h3m78 0h3m3 0h3m24 0h3m0 0h3m3 0h3m15 0h3m0 0h3m3 0h3m0 0h3m9 0h3m6 0h3m9 0h3m0 0h3m6 0h3m3 0h3m9 0h3m6 0h3m0 0h3m3 0h3m0 0h3m3 0h3m6 0h3m0 0h3m3 0h3m3 0h3m0 0h3m3 0h3m0 0h3m0 0h3m0 0h3m12 0h3m3 0h3m0 0h3m0 0h3m9 0h3m0 0h3m3 0h3m3 0h3m0 0h3m12 0h3m27 0h3m0 0h3m0 0h3m0 0h3m0 0h3m3 0h3m0 0h3m-417 3h3m87 0h3m0 0h3m30 0h3m6 0h3m15 0h3m3 0h3m0 0h3m12 0h3m0 0h3m0 0h3m0 0h3m0 0h3m0 0h3m0 0h3m3 0h3m0 0h3m6 0h3m0 0h3m12 0h3m0 0h3m0 0h3m0 0h3m6 0h3m3 0h3m12 0h3m3 0h3m0 0h3m6 0h3m0 0h3m21 0h3m12 0h3m21 0h3m9 0h3m3 0h3m60 0h3m3 0h3m-411 3h3m24 0h3m15 0h3m36 0h3m9 0h3m9 0h3m0 0h3m12 0h3m9 0h3m0 0h3m3 0h3m9 0h3m6 0h3m0 0h3m3 0h3m3 0h3m0 0h3m0 0h3m0 0h3m0 0h3m3 0h3m0 0h3m0 0h3m0 0h3m0 0h3m3 0h3m0 0h3m0 0h3m0 0h3m0 0h3m0 0h3m0 0h3m0 0h3m6 0h3m6 0h3m9 0h3m12 0h3m3 0h3m0 0h3m6 0h3m3 0h3m3 0h3m6 0h3m0 0h3m0 0h3m6 0h3m3 0h3m0 0h3m0 0h3m3 0h3m-318 3h3m3 0h3m66 0h3m6 0h3m9 0h3m0 0h3m3 0h3m3 0h3m3 0h3m6 0h3m9 0h3m3 0h3m3 0h3m6 0h3m0 0h3m0 0h3m9 0h3m3 0h3m0 0h3m12 0h3m3 0h3m0 0h3m6 0h3m3 0h3m0 0h3m0 0h3m0 0h3m6 0h3m3 0h3m0 0h3m0 0h3m0 0h3m0 0h3m0 0h3m9 0h3m24 0h3m6 0h3m3 0h3m3 0h3m3 0h3m9 0h3m18 0h3m12 0h3m-363 3h3m6 0h3m0 0h3m6 0h3m18 0h3m3 0h3m6 0h3m3 0h3m3 0h3m3 0h3m0 0h3m6 0h3m3 0h3m12 0h3m3 0h3m0 0h3m6 0h3m3 0h3m15 0h3m3 0h3m12 0h3m0 0h3m0 0h3m0 0h3m0 0h3m6 0h3m6 0h3m0 0h3m0 0h3m0 0h3m0 0h3m12 0h3m9 0h3m0 0h3m0 0h3m3 0h3m0 0h3m0 0h3m3 0h3m3 0h3m0 0h3m0 0h3m15 0h3m0 0h3m9 0h3m3 0h3m42 0h3m-378 3h3m30 0h3m3 0h3m33 0h3m3 0h3m0 0h3m0 0h3m0 0h3m6 0h3m3 0h3m0 0h3m0 0h3m21 0h3m3 0h3m3 0h3m12 0h3m12 0h3m0 0h3m0 0h3m6 0h3m0 0h3m0 0h3m3 0h3m0 0h3m3 0h3m0 0h3m0 0h3m3 0h3m3 0h3m0 0h3m3 0h3m3 0h3m0 0h3m0 0h3m6 0h3m0 0h3m3 0h3m3 0h3m6 0h3m9 0h3m27 0h3m45 0h3m-363 3h3m24 0h3m6 0h3m0 0h3m6 0h3m12 0h3m3 0h3m15 0h3m0 0h3m6 0h3m9 0h3m0 0h3m6 0h3m3 0h3m9 0h3m0 0h3m3 0h3m6 0h3m0 0h3m15 0h3m0 0h3m3 0h3m0 0h3m0 0h3m3 0h3m0 0h3m0 0h3m0 0h3m3 0h3m3 0h3m3 0h3m3 0h3m9 0h3m0 0h3m0 0h3m0 0h3m3 0h3m0 0h3m21 0h3m12 0h3m15 0h3m-369 3h3m66 0h3m3 0h3m9 0h3m9 0h3m0 0h3m0 0h3m3 0h3m3 0h3m9 0h3m18 0h3m3 0h3m0 0h3m3 0h3m9 0h3m0 0h3m3 0h3m0 0h3m3 0h3m0 0h3m3 0h3m0 0h3m0 0h3m0 0h3m0 0h3m15 0h3m0 0h3m0 0h3m3 0h3m0 0h3m3 0h3m3 0h3m0 0h3m3 0h3m0 0h3m0 0h3m0 0h3m0 0h3m3 0h3m0 0h3m0 0h3m0 0h3m9 0h3m9 0h3m12 0h3m3 0h3m6 0h3m-297 3h3m0 0h3m15 0h3m39 0h3m0 0h3m3 0h3m3 0h3m18 0h3m9 0h3m3 0h3m3 0h3m3 0h3m0 0h3m0 0h3m0 0h3m3 0h3m0 0h3m0 0h3m0 0h3m6 0h3m0 0h3m9 0h3m3 0h3m3 0h3m0 0h3m0 0h3m6 0h3m3 0h3m3 0h3m0 0h3m3 0h3m0 0h3m3 0h3m0 0h3m0 0h3m0 0h3m3 0h3m0 0h3m0 0h3m0 0h3m0 0h3m3 0h3m6 0h3m27 0h3m21 0h3m-345 3h3m60 0h3m6 0h3m0 0h3m3 0h3m0 0h3m0 0h3m15 0h3m0 0h3m0 0h3m3 0h3m6 0h3m0 0h3m3 0h3m0 0h3m3 0h3m3 0h3m6 0h3m0 0h3m0 0h3m6 0h3m0 0h3m0 0h3m0 0h3m9 0h3m3 0h3m0 0h3m0 0h3m0 0h3m6 0h3m0 0h3m3 0h3m0 0h3m6 0h3m0 0h3m3 0h3m3 0h3m27 0h3m12 0h3m6 0h3m42 0h3m12 0h3m-426 3h3m45 0h3m21 0h3m9 0h3m3 0h3m18 0h3m0 0h3m15 0h3m0 0h3m15 0h3m0 0h3m0 0h3m3 0h3m6 0h3m0 0h3m0 0h3m3 0h3m6 0h3m3 0h3m3 0h3m9 0h3m0 0h3m0 0h3m0 0h3m0 0h3m0 0h3m3 0h3m0 0h3m9 0h3m3 0h3m6 0h3m6 0h3m0 0h3m0 0h3m3 0h3m0 0h3m0 0h3m6 0h3m0 0h3m18 0h3m0 0h3m0 0h3m9 0h3m24 0h3m6 0h3m-366 3h3m42 0h3m9 0h3m6 0h3m36 0h3m0 0h3m0 0h3m0 0h3m0 0h3m0 0h3m6 0h3m0 0h3m0 0h3m0 0h3m3 0h3m0 0h3m6 0h3m3 0h3m0 0h3m3 0h3m6 0h3m3 0h3m0 0h3m0 0h3m3 0h3m3 0h3m3 0h3m0 0h3m0 0h3m0 0h3m6 0h3m0 0h3m0 0h3m0 0h3m3 0h3m0 0h3m0 0h3m0 0h3m0 0h3m9 0h3m3 0h3m3 0h3m0 0h3m0 0h3m0 0h3m0 0h3m3 0h3m0 0h3m0 0h3m3 0h3m21 0h3m6 0h3m12 0h3m6 0h3m12 0h3m-351 3h3m6 0h3m9 0h3m21 0h3m0 0h3m0 0h3m9 0h3m3 0h3m6 0h3m0 0h3m3 0h3m3 0h3m6 0h3m0 0h3m0 0h3m6 0h3m0 0h3m3 0h3m3 0h3m0 0h3m3 0h3m6 0h3m3 0h3m3 0h3m0 0h3m0 0h3m0 0h3m0 0h3m0 0h3m3 0h3m3 0h3m0 0h3m0 0h3m0 0h3m6 0h3m6 0h3m0 0h3m3 0h3m9 0h3m0 0h3m3 0h3m0 0h3m3 0h3m0 0h3m0 0h3m9 0h3m18 0h3m12 0h3m9 0h3m3 0h3m-363 3h3m33 0h3m24 0h3m6 0h3m6 0h3m21 0h3m0 0h3m0 0h3m3 0h3m0 0h3m0 0h3m0 0h3m0 0h3m0 0h3m0 0h3m3 0h3m0 0h3m0 0h3m3 0h3m0 0h3m0 0h3m0 0h3m0 0h3m0 0h3m0 0h3m3 0h3m0 0h3m0 0h3m0 0h3m0 0h3m0 0h3m0 0h3m0 0h3m0 0h3m0 0h3m0 0h3m9 0h3m0 0h3m0 0h3m3 0h3m0 0h3m0 0h3m0 0h3m0 0h3m0 0h3m0 0h3m0 0h3m3 0h3m0 0h3m9 0h3m0 0h3m0 0h3m0 0h3m0 0h3m3 0h3m0 0h3m3 0h3m0 0h3m0 0h3m3 0h3m0 0h3m6 0h3m0 0h3m0 0h3m27 0h3m-327 3h3m21 0h3m18 0h3m6 0h3m0 0h3m0 0h3m6 0h3m0 0h3m0 0h3m3 0h3m9 0h3m0 0h3m0 0h3m6 0h3m3 0h3m0 0h3m0 0h3m0 0h3m6 0h3m0 0h3m0 0h3m3 0h3m0 0h3m3 0h3m3 0h3m3 0h3m0 0h3m9 0h3m0 0h3m0 0h3m3 0h3m0 0h3m0 0h3m9 0h3m0 0h3m0 0h3m0 0h3m0 0h3m0 0h3m0 0h3m0 0h3m0 0h3m0 0h3m3 0h3m6 0h3m6 0h3m21 0h3m18 0h3m0 0h3m-342 3h3m6 0h3m21 0h3m33 0h3m3 0h3m6 0h3m3 0h3m12 0h3m3 0h3m9 0h3m0 0h3m3 0h3m18 0h3m6 0h3m3 0h3m0 0h3m6 0h3m0 0h3m12 0h3m0 0h3m6 0h3m0 0h3m3 0h3m0 0h3m0 0h3m0 0h3m3 0h3m6 0h3m0 0h3m3 0h3m12 0h3m3 0h3m0 0h3m0 0h3m0 0h3m3 0h3m0 0h3m0 0h3m3 0h3m6 0h3m3 0h3m3 0h3m12 0h3m48 0h3m-387 3h3m60 0h3m0 0h3m6 0h3m3 0h3m3 0h3m6 0h3m0 0h3m3 0h3m3 0h3m0 0h3m6 0h3m0 0h3m3 0h3m3 0h3m0 0h3m0 0h3m3 0h3m0 0h3m0 0h3m9 0h3m9 0h3m6 0h3m0 0h3m0 0h3m0 0h3m0 0h3m6 0h3m3 0h3m3 0h3m0 0h3m3 0h3m0 0h3m0 0h3m0 0h3m6 0h3m6 0h3m0 0h3m12 0h3m0 0h3m3 0h3m3 0h3m0 0h3m0 0h3m3 0h3m9 0h3m6 0h3m24 0h3m-405 3h3m102 0h3m6 0h3m3 0h3m3 0h3m0 0h3m3 0h3m0 0h3m3 0h3m0 0h3m3 0h3m0 0h3m15 0h3m3 0h3m6 0h3m6 0h3m3 0h3m0 0h3m3 0h3m3 0h3m6 0h3m0 0h3m9 0h3m3 0h3m3 0h3m0 0h3m3 0h3m3 0h3m3 0h3m0 0h3m0 0h3m0 0h3m6 0h3m3 0h3m0 0h3m0 0h3m0 0h3m0 0h3m9 0h3m0 0h3m3 0h3m0 0h3m0 0h3m0 0h3m6 0h3m12 0h3m12 0h3m3 0h3m3 0h3m-288 3h3m3 0h3m3 0h3m0 0h3m3 0h3m3 0h3m0 0h3m0 0h3m3 0h3m9 0h3m0 0h3m0 0h3m0 0h3m0 0h3m9 0h3m6 0h3m6 0h3m0 0h3m12 0h3m0 0h3m0 0h3m6 0h3m0 0h3m0 0h3m0 0h3m6 0h3m0 0h3m0 0h3m6 0h3m0 0h3m0 0h3m0 0h3m3 0h3m9 0h3m0 0h3m3 0h3m3 0h3m6 0h3m6 0h3m3 0h3m9 0h3m0 0h3m6 0h3m0 0h3m6 0h3m-273 3h3m18 0h3m0 0h3m0 0h3m3 0h3m0 0h3m6 0h3m0 0h3m0 0h3m0 0h3m0 0h3m12 0h3m0 0h3m6 0h3m9 0h3m0 0h3m6 0h3m0 0h3m0 0h3m3 0h3m0 0h3m0 0h3m3 0h3m3 0h3m3 0h3m6 0h3m6 0h3m0 0h3m12 0h3m3 0h3m9 0h3m3 0h3m0 0h3m15 0h3m6 0h3m0 0h3m9 0h3m3 0h3m0 0h3m0 0h3m0 0h3m3 0h3m30 0h3m15 0h3m27 0h3m-405 3h3m45 0h3m6 0h3m6 0h3m12 0h3m0 0h3m6 0h3m3 0h3m3 0h3m0 0h3m0 0h3m0 0h3m3 0h3m3 0h3m12 0h3m3 0h3m0 0h3m0 0h3m6 0h3m6 0h3m0 0h3m3 0h3m3 0h3m0 0h3m0 0h3m0 0h3m0 0h3m3 0h3m3 0h3m3 0h3m3 0h3m6 0h3m0 0h3m3 0h3m0 0h3m0 0h3m0 0h3m0 0h3m3 0h3m3 0h3m15 0h3m6 0h3m12 0h3m0 0h3m0 0h3m3 0h3m27 0h3m12 0h3m-348 3h3m33 0h3m9 0h3m0 0h3m3 0h3m3 0h3m0 0h3m0 0h3m0 0h3m30 0h3m9 0h3m6 0h3m3 0h3m0 0h3m0 0h3m3 0h3m3 0h3m0 0h3m0 0h3m0 0h3m0 0h3m0 0h3m0 0h3m9 0h3m6 0h3m0 0h3m0 0h3m0 0h3m3 0h3m3 0h3m0 0h3m3 0h3m0 0h3m0 0h3m0 0h3m0 0h3m0 0h3m9 0h3m3 0h3m0 0h3m0 0h3m6 0h3m0 0h3m0 0h3m3 0h3m3 0h3m6 0h3m3 0h3m3 0h3m-288 3h3m3 0h3m6 0h3m3 0h3m0 0h3m6 0h3m0 0h3m0 0h3m6 0h3m3 0h3m21 0h3m0 0h3m3 0h3m6 0h3m0 0h3m6 0h3m0 0h3m3 0h3m0 0h3m6 0h3m0 0h3m0 0h3m3 0h3m3 0h3m0 0h3m0 0h3m0 0h3m6 0h3m0 0h3m0 0h3m3 0h3m0 0h3m3 0h3m3 0h3m0 0h3m3 0h3m3 0h3m0 0h3m0 0h3m3 0h3m12 0h3m3 0h3m0 0h3m6 0h3m0 0h3m0 0h3m15 0h3m6 0h3m0 0h3m12 0h3m15 0h3m18 0h3m-411 3h3m51 0h3m21 0h3m0 0h3m12 0h3m3 0h3m6 0h3m0 0h3m0 0h3m6 0h3m6 0h3m9 0h3m15 0h3m0 0h3m6 0h3m0 0h3m3 0h3m6 0h3m0 0h3m9 0h3m9 0h3m0 0h3m3 0h3m9 0h3m3 0h3m3 0h3m0 0h3m3 0h3m0 0h3m0 0h3m0 0h3m0 0h3m0 0h3m0 0h3m0 0h3m0 0h3m0 0h3m9 0h3m0 0h3m0 0h3m3 0h3m0 0h3m0 0h3m15 0h3m0 0h3m39 0h3m12 0h3m-375 3h3m54 0h3m3 0h3m0 0h3m0 0h3m0 0h3m57 0h3m0 0h3m3 0h3m0 0h3m6 0h3m3 0h3m0 0h3m0 0h3m3 0h3m0 0h3m0 0h3m9 0h3m3 0h3m0 0h3m0 0h3m3 0h3m3 0h3m0 0h3m0 0h3m9 0h3m3 0h3m0 0h3m0 0h3m6 0h3m0 0h3m0 0h3m33 0h3m0 0h3m6 0h3m12 0h3m3 0h3m45 0h3m-327 3h3m3 0h3m6 0h3m0 0h3m0 0h3m9 0h3m39 0h3m6 0h3m0 0h3m6 0h3m0 0h3m0 0h3m6 0h3m3 0h3m0 0h3m6 0h3m9 0h3m0 0h3m3 0h3m0 0h3m0 0h3m0 0h3m3 0h3m0 0h3m0 0h3m9 0h3m6 0h3m3 0h3m0 0h3m3 0h3m0 0h3m0 0h3m0 0h3m0 0h3m3 0h3m0 0h3m0 0h3m0 0h3m3 0h3m3 0h3m12 0h3m42 0h3m-324 3h3m0 0h3m6 0h3m0 0h3m0 0h3m9 0h3m0 0h3m0 0h3m0 0h3m0 0h3m51 0h3m0 0h3m15 0h3m9 0h3m0 0h3m0 0h3m3 0h3m0 0h3m3 0h3m0 0h3m0 0h3m3 0h3m0 0h3m0 0h3m3 0h3m3 0h3m0 0h3m0 0h3m0 0h3m6 0h3m6 0h3m0 0h3m15 0h3m3 0h3m12 0h3m27 0h3m15 0h3m12 0h3m-327 3h3m30 0h3m0 0h3m3 0h3m51 0h3m12 0h3m0 0h3m0 0h3m0 0h3m6 0h3m3 0h3m0 0h3m0 0h3m3 0h3m0 0h3m0 0h3m12 0h3m3 0h3m0 0h3m9 0h3m0 0h3m0 0h3m0 0h3m0 0h3m0 0h3m0 0h3m9 0h3m0 0h3m6 0h3m6 0h3m21 0h3m3 0h3m0 0h3m18 0h3m3 0h3m6 0h3m6 0h3m-333 3h3m30 0h3m0 0h3m39 0h3m30 0h3m0 0h3m3 0h3m0 0h3m3 0h3m0 0h3m0 0h3m0 0h3m0 0h3m9 0h3m9 0h3m0 0h3m3 0h3m0 0h3m3 0h3m0 0h3m0 0h3m3 0h3m0 0h3m12 0h3m3 0h3m12 0h3m0 0h3m3 0h3m3 0h3m12 0h3m0 0h3m3 0h3m3 0h3m18 0h3m6 0h3m3 0h3m15 0h3m-312 3h3m3 0h3m3 0h3m48 0h3m3 0h3m0 0h3m3 0h3m12 0h3m0 0h3m12 0h3m6 0h3m3 0h3m0 0h3m0 0h3m6 0h3m0 0h3m3 0h3m0 0h3m0 0h3m3 0h3m3 0h3m6 0h3m0 0h3m0 0h3m3 0h3m0 0h3m3 0h3m6 0h3m6 0h3m3 0h3m0 0h3m9 0h3m0 0h3m12 0h3m9 0h3m12 0h3m6 0h3m0 0h3m-339 3h3m6 0h3m36 0h3m0 0h3m3 0h3m66 0h3m6 0h3m9 0h3m0 0h3m0 0h3m0 0h3m0 0h3m12 0h3m0 0h3m3 0h3m9 0h3m6 0h3m0 0h3m0 0h3m0 0h3m3 0h3m3 0h3m0 0h3m3 0h3m3 0h3m0 0h3m0 0h3m6 0h3m3 0h3m3 0h3m0 0h3m12 0h3m3 0h3m9 0h3m0 0h3m9 0h3m-294 3h3m6 0h3m0 0h3m9 0h3m0 0h3m69 0h3m3 0h3m3 0h3m0 0h3m0 0h3m15 0h3m3 0h3m12 0h3m0 0h3m0 0h3m0 0h3m0 0h3m0 0h3m18 0h3m6 0h3m6 0h3m3 0h3m0 0h3m0 0h3m0 0h3m0 0h3m21 0h3m3 0h3m18 0h3m27 0h3m-324 3h3m6 0h3m3 0h3m6 0h3m6 0h3m3 0h3m0 0h3m60 0h3m0 0h3m0 0h3m9 0h3m0 0h3m0 0h3m0 0h3m3 0h3m3 0h3m0 0h3m0 0h3m0 0h3m0 0h3m0 0h3m0 0h3m3 0h3m0 0h3m18 0h3m0 0h3m21 0h3m12 0h3m9 0h3m15 0h3m12 0h3m3 0h3m6 0h3m36 0h3m-354 3h3m15 0h3m6 0h3m3 0h3m9 0h3m0 0h3m81 0h3m0 0h3m0 0h3m0 0h3m9 0h3m0 0h3m0 0h3m15 0h3m0 0h3m0 0h3m6 0h3m3 0h3m3 0h3m0 0h3m0 0h3m0 0h3m3 0h3m0 0h3m0 0h3m12 0h3m6 0h3m12 0h3m6 0h3m45 0h3m-312 3h3m15 0h3m12 0h3m3 0h3m78 0h3m0 0h3m0 0h3m0 0h3m0 0h3m0 0h3m0 0h3m18 0h3m6 0h3m0 0h3m0 0h3m0 0h3m6 0h3m9 0h3m3 0h3m0 0h3m6 0h3m0 0h3m0 0h3m9 0h3m9 0h3m24 0h3m21 0h3m21 0h3m-333 3h3m6 0h3m0 0h3m15 0h3m0 0h3m6 0h3m0 0h3m0 0h3m60 0h3m6 0h3m9 0h3m0 0h3m3 0h3m12 0h3m15 0h3m0 0h3m0 0h3m6 0h3m0 0h3m18 0h3m0 0h3m9 0h3m0 0h3m15 0h3m15 0h3m3 0h3m0 0h3m36 0h3m-312 3h3m0 0h3m0 0h3m18 0h3m9 0h3m54 0h3m6 0h3m3 0h3m0 0h3m3 0h3m3 0h3m0 0h3m6 0h3m9 0h3m9 0h3m21 0h3m0 0h3m0 0h3m6 0h3m6 0h3m0 0h3m0 0h3m27 0h3m21 0h3m72 0h3m6 0h3m-378 3h3m12 0h3m9 0h3m3 0h3m3 0h3m0 0h3m3 0h3m6 0h3m57 0h3m15 0h3m0 0h3m6 0h3m12 0h3m0 0h3m6 0h3m3 0h3m3 0h3m3 0h3m15 0h3m15 0h3m6 0h3m0 0h3m27 0h3m3 0h3m0 0h3m3 0h3m21 0h3m6 0h3m-291 3h3m6 0h3m3 0h3m0 0h3m0 0h3m72 0h3m0 0h3m0 0h3m0 0h3m0 0h3m3 0h3m0 0h3m0 0h3m0 0h3m0 0h3m12 0h3m0 0h3m0 0h3m3 0h3m3 0h3m36 0h3m0 0h3m3 0h3m3 0h3m0 0h3m0 0h3m0 0h3m18 0h3m0 0h3m6 0h3m9 0h3m12 0h3m-303 3h3m9 0h3m6 0h3m3 0h3m0 0h3m75 0h3m0 0h3m0 0h3m3 0h3m0 0h3m0 0h3m0 0h3m6 0h3m6 0h3m0 0h3m9 0h3m0 0h3m0 0h3m6 0h3m3 0h3m9 0h3m6 0h3m6 0h3m12 0h3m21 0h3m30 0h3m18 0h3m15 0h3m-372 3h3m30 0h3m24 0h3m3 0h3m84 0h3m0 0h3m3 0h3m0 0h3m6 0h3m6 0h3m3 0h3m9 0h3m0 0h3m0 0h3m9 0h3m0 0h3m6 0h3m3 0h3m18 0h3m6 0h3m3 0h3m3 0h3m9 0h3m6 0h3m0 0h3m3 0h3m6 0h3m48 0h3m-378 3h3m69 0h3m0 0h3m0 0h3m0 0h3m0 0h3m6 0h3m54 0h3m3 0h3m0 0h3m3 0h3m12 0h3m3 0h3m6 0h3m0 0h3m0 0h3m3 0h3m0 0h3m21 0h3m9 0h3m6 0h3m0 0h3m12 0h3m12 0h3m117 0h3m-351 3h3m0 0h3m6 0h3m0 0h3m3 0h3m54 0h3m6 0h3m0 0h3m6 0h3m3 0h3m0 0h3m0 0h3m6 0h3m9 0h3m0 0h3m3 0h3m3 0h3m6 0h3m15 0h3m9 0h3m6 0h3m9 0h3m6 0h3m6 0h3m6 0h3m0 0h3m6 0h3m9 0h3m75 0h3m-354 3h3m9 0h3m0 0h3m3 0h3m3 0h3m6 0h3m0 0h3m24 0h3m27 0h3m39 0h3m0 0h3m3 0h3m9 0h3m6 0h3m3 0h3m0 0h3m6 0h3m0 0h3m3 0h3m18 0h3m15 0h3m6 0h3m9 0h3m-252 3h3m15 0h3m9 0h3m0 0h3m0 0h3m48 0h3m15 0h3m0 0h3m0 0h3m0 0h3m15 0h3m15 0h3m0 0h3m15 0h3m3 0h3m21 0h3m0 0h3m9 0h3m42 0h3m-276 3h3m27 0h3m0 0h3m66 0h3m3 0h3m3 0h3m3 0h3m0 0h3m6 0h3m0 0h3m0 0h3m0 0h3m33 0h3m18 0h3m18 0h3m6 0h3m0 0h3m18 0h3m39 0h3m-318 3h3m27 0h3m6 0h3m0 0h3m0 0h3m6 0h3m6 0h3m3 0h3m48 0h3m0 0h3m0 0h3m0 0h3m3 0h3m0 0h3m0 0h3m15 0h3m0 0h3m18 0h3m9 0h3m0 0h3m3 0h3m6 0h3m18 0h3m21 0h3m9 0h3m12 0h3m-285 3h3m9 0h3m0 0h3m12 0h3m6 0h3m0 0h3m15 0h3m0 0h3m12 0h3m9 0h3m9 0h3m0 0h3m9 0h3m6 0h3m0 0h3m0 0h3m9 0h3m6 0h3m3 0h3m6 0h3m0 0h3m21 0h3m3 0h3m24 0h3m24 0h3m27 0h3m63 0h3m-336 3h3m27 0h3m6 0h3m0 0h3m24 0h3m0 0h3m0 0h3m12 0h3m0 0h3m21 0h3m0 0h3m24 0h3m3 0h3m18 0h3m0 0h3m0 0h3m3 0h3m6 0h3m6 0h3m75 0h3m33 0h3m-342 3h3m12 0h3m15 0h3m0 0h3m0 0h3m21 0h3m3 0h3m3 0h3m9 0h3m3 0h3m3 0h3m0 0h3m3 0h3m6 0h3m6 0h3m15 0h3m0 0h3m18 0h3m12 0h3m6 0h3m15 0h3m54 0h3m42 0h3m-318 3h3m9 0h3m18 0h3m12 0h3m0 0h3m0 0h3m0 0h3m27 0h3m0 0h3m9 0h3m0 0h3m0 0h3m3 0h3m0 0h3m0 0h3m0 0h3m3 0h3m0 0h3m3 0h3m30 0h3m9 0h3m3 0h3m57 0h3m3 0h3m24 0h3m-306 3h3m51 0h3m3 0h3m9 0h3m0 0h3m0 0h3m6 0h3m0 0h3m6 0h3m3 0h3m0 0h3m0 0h3m0 0h3m3 0h3m0 0h3m0 0h3m3 0h3m3 0h3m3 0h3m36 0h3m57 0h3m0 0h3m-213 3h3m0 0h3m18 0h3m12 0h3m0 0h3m0 0h3m6 0h3m6 0h3m0 0h3m0 0h3m3 0h3m0 0h3m0 0h3m9 0h3m33 0h3m18 0h3m21 0h3m6 0h3m18 0h3m21 0h3m0 0h3m21 0h3m0 0h3m-249 3h3m15 0h3m0 0h3m3 0h3m3 0h3m3 0h3m9 0h3m3 0h3m0 0h3m0 0h3m0 0h3m0 0h3m0 0h3m18 0h3m6 0h3m6 0h3m21 0h3m9 0h3m114 0h3m-255 3h3m12 0h3m6 0h3m0 0h3m3 0h3m0 0h3m6 0h3m6 0h3m0 0h3m0 0h3m3 0h3m9 0h3m0 0h3m12 0h3m3 0h3m9 0h3m15 0h3m36 0h3m21 0h3m12 0h3m18 0h3m12 0h3m48 0h3m-300 3h3m3 0h3m3 0h3m0 0h3m0 0h3m3 0h3m0 0h3m3 0h3m0 0h3m21 0h3m87 0h3m33 0h3m-201 3h3m15 0h3m0 0h3m3 0h3m0 0h3m0 0h3m0 0h3m3 0h3m6 0h3m0 0h3m3 0h3m0 0h3m12 0h3m45 0h3m6 0h3m93 0h3m-270 3h3m24 0h3m3 0h3m9 0h3m0 0h3m6 0h3m6 0h3m0 0h3m0 0h3m0 0h3m0 0h3m6 0h3m3 0h3m27 0h3m33 0h3m-135 3h3m3 0h3m3 0h3m3 0h3m6 0h3m3 0h3m9 0h3m3 0h3m0 0h3m0 0h3m0 0h3m0 0h3m9 0h3m24 0h3m3 0h3m39 0h3m0 0h3m6 0h3m42 0h3m-171 3h3m18 0h3m12 0h3m15 0h3m-57 3h3m0 0h3m3 0h3m15 0h3m12 0h3m18 0h3m18 0h3m-159 3h3m24 0h3m0 0h3m24 0h3m21 0h3m18 0h3m138 0h3m-219 3h3m9 0h3m18 0h3m0 0h3m3 0h3m3 0h3m6 0h3m195 0h3m-243 3h3m0 0h3m0 0h3m3 0h3m6 0h3m3 0h3m15 0h3m0 0h3m9 0h3m162 0h3m-183 3h3m48 0h3m-135 3h3m36 0h3m66 0h3m-135 3h3m129 0h3m-39 3h3m15 0h3m6 0h3m-57 3h3m-39 3h3m30 0h3m39 0h3m-57 6h3m6 0h3m-3 3h3m6 0h3m21 9h3" stroke="#1616ea" opacity="0.88"/>
<path d="M1461 3051h3m-24 3h3m12 0h3m6 0h3m6 0h3m6 0h3m18 0h3m-54 3h3m15 0h3m9 0h3m-78 3h3m36 0h3m18 0h3m0 0h3m9 0h3m-75 3h3m9 0h3m0 0h3m3 0h3m3 0h3m0 0h3m3 0h3m0 0h3m0 0h3m0 0h3m3 0h3m6 0h3m6 0h3m3 0h3m0 0h3m-87 3h3m27 0h3m0 0h3m15 0h3m18 0h3m6 0h3m18 0h3m-117 3h3m3 0h3m3 0h3m30 0h3m6 0h3m0 0h3m3 0h3m0 0h3m3 0h3m0 0h3m0 0h3m3 0h3m3 0h3m-93 3h3m9 0h3m0 0h3m0 0h3m0 0h3m6 0h3m6 0h3m0 0h3m0 0h3m0 0h3m3 0h3m0 0h3m6 0h3m0 0h3m0 0h3m6 0h3m9 0h3m-93 3h3m6 0h3m12 0h3m6 0h3m15 0h3m0 0h3m0 0h3m3 0h3m0 0h3m3 0h3m0 0h3m0 0h3m6 0h3m-105 3h3m3 0h3m6 0h3m12 0h3m6 0h3m12 0h3m0 0h3m15 0h3m3 0h3m6 0h3m-84 3h3m21 0h3m6 0h3m15 0h3m6 0h3m0 0h3m3 0h3m3 0h3m3 0h3m0 0h3m-105 3h3m3 0h3m3 0h3m0 0h3m6 0h3m6 0h3m0 0h3m6 0h3m3 0h3m0 0h3m12 0h3m15 0h3m0 0h3m0 0h3m0 0h3m-120 3h3m3 0h3m15 0h3m3 0h3m3 0h3m9 0h3m0 0h3m12 0h3m3 0h3m3 0h3m3 0h3m6 0h3m-78 3h3m3 0h3m6 0h3m0 0h3m0 0h3m0 0h3m3 0h3m6 0h3m0 0h3m12 0h3m12 0h3m0 0h3m6 0h3m-99 3h3m0 0h3m3 0h3m3 0h3m0 0h3m6 0h3m3 0h3m18 0h3m0 0h3m0 0h3m0 0h3m0 0h3m0 0h3m0 0h3m3 0h3m12 0h3m-105 3h3m6 0h3m3 0h3m9 0h3m15 0h3m0 0h3m0 0h3m0 0h3m9 0h3m-57 3h3m3 0h3m0 0h3m0 0h3m9 0h3m0 0h3m15 0h3m24 0h3m-69 3h3m0 0h3m0 0h3m6 0h3m6 0h3m0 0h3m30 0h3m-78 3h3m9 0h3m0 0h3m18 0h3m9 0h3m15 0h3m-72 3h3m6 0h3m0 0h3m42 0h3m21 0h3m-72 3h3m21 0h3m6 0h3m9 0h3m-57 3h3m9 0h3m-9 3h3m6 0h3m3 0h3m-24 3h3m0 0h3m6 0h3m0 0h3m0 0h3m6 0h3m0 0h3m75 51h3m-138 6h3m84 0h3m-84 6h3m0 0h3m132 0h3m-153 3h3m6 0h3m6 0h3m0 0h3m42 0h3m18 0h3m27 0h3m-120 3h3m0 0h3m6 0h3m-21 3h3m3 0h3m0 0h3m3 0h3m6 0h3m3 0h3m66 0h3m3 0h3m18 0h3m-135 3h3m18 0h3m0 0h3m6 0h3m3 0h3m12 0h3m75 0h3m-150 3h3m24 0h3m9 0h3m6 0h3m12 0h3m-69 3h3m39 0h3m24 0h3m75 0h3m-147 3h3m15 0h3m0 0h3m0 0h3m9 0h3m15 0h3m15 0h3m-87 3h3m0 0h3m3 0h3m3 0h3m0 0h3m0 0h3m0 0h3m0 0h3m0 0h3m0 0h3m12 0h3m0 0h3m9 0h3m6 0h3m6 0h3m0 0h3m-90 3h3m0 0h3m9 0h3m6 0h3m0 0h3m6 0h3m0 0h3m3 0h3m0 0h3m0 0h3m3 0h3m6 0h3m60 0h3m-132 3h3m3 0h3m6 0h3m9 0h3m15 0h3m0 0h3m81 0h3m-132 3h3m30 0h3m3 0h3m0 0h3m3 0h3m0 0h3m21 0h3m6 0h3m72 0h3m-162 3h3m12 0h3m18 0h3m0 0h3m15 0h3m3 0h3m60 0h3m-135 3h3m21 0h3m6 0h3m3 0h3m6 0h3m6 0h3m-75 3h3m0 0h3m39 0h3m0 0h3m3 0h3m-51 3h3m0 0h3m45 0h3m3 0h3m0 0h3m9 0h3m-93 3h3m3 0h3m0 0h3m57 0h3m-78 3h3m9 0h3m0 0h3m0 0h3m24 0h3m0 0h3m12 0h3m6 0h3m0 0h3m3 0h3m3 0h3m-75 3h3m48 0h3m18 0h3m-99 3h3m9 0h3m48 0h3m6 0h3m0 0h3m0 0h3m0 0h3m18 0h3m-99 3h3m3 0h3m63 0h3m3 0h3m0 0h3m-75 3h3m42 0h3m0 0h3m0 0h3m-78 3h3m3 0h3m0 0h3m6 0h3m33 0h3m21 0h3m18 0h3m-93 3h3m69 0h3m0 0h3m12 0h3m-93 3h3m45 0h3m36 0h3m-99 3h3m6 0h3m0 0h3m21 0h3m15 0h3m6 0h3m3 0h3m0 0h3m-75 3h3m3 0h3m0 0h3m54 0h3m0 0h3m-69 3h3m0 0h3m3 0h3m48 0h3m12 0h3m-87 3h3m6 0h3m-15 3h3m0 0h3m6 0h3m12 0h3m27 0h3m3 0h3m-63 3h3m9 0h3m21 0h3m18 0h3m6 0h3m-69 3h3m0 0h3m0 0h3m3 0h3m3 0h3m12 0h3m6 0h3m0 0h3m0 0h3m0 0h3m3 0h3m0 0h3m3 0h3m-69 3h3m21 0h3m12 0h3m6 0h3m6 0h3m-63 3h3m0 0h3m9 0h3m3 0h3m15 0h3m0 0h3m0 0h3m9 0h3m0 0h3m6 0h3m-72 3h3m6 0h3m0 0h3m0 0h3m0 0h3m0 0h3m3 0h3m-21 3h3m3 0h3m3 0h3m24 0h3m-51 3h3m6 0h3m0 0h3m0 0h3m3 0h3m12 0h3m0 0h3m-30 3h3m21 0h3m-39 12h3" stroke="#00c878" opacity="0.9"/>
<path d="M1434 3060h3m0 0h3m0 0h3m0 0h3m18 0h3m6 0h3m0 0h3m-15 3h3m-27 3h3m0 0h3m0 0h3m12 0h3m0 0h3m3 0h3m0 0h3m3 0h3m-54 3h3m0 0h3m9 0h3m15 0h3m-45 3h3m21 0h3m30 0h3m-78 3h3m27 0h3m6 0h3m45 0h3m-87 3h3m0 0h3m6 0h3m3 0h3m3 0h3m12 0h3m0 0h3m3 0h3m-54 3h3m0 0h3m0 0h3m18 0h3m0 0h3m0 0h3m18 0h3m-57 3h3m6 0h3m0 0h3m12 0h3m0 0h3m0 0h3m6 0h3m-69 3h3m3 0h3m3 0h3m0 0h3m36 0h3m-36 6h3m3 0h3m-42 3h3m9 0h3m9 0h3m12 0h3m-27 3h3m6 0h3m-30 9h3m-51 84h3m-24 12h3m0 0h3m0 0h3m0 0h3m30 0h3m-45 6h3m33 0h3m-27 3h3m3 0h3m-30 3h3m18 0h3m0 0h3m-30 3h3m6 0h3m9 0h3m0 0h3m3 0h3m-48 3h3m0 0h3m3 0h3m12 0h3m15 0h3m3 0h3m-51 3h3m9 0h3m0 0h3m15 0h3m12 0h3m-45 3h3m9 0h3m6 0h3m3 0h3m6 0h3m-54 3h3m0 0h3m0 0h3m12 0h3m21 0h3m3 0h3m-63 3h3m39 0h3m0 0h3m0 0h3m9 0h3m-54 3h3m3 0h3m27 0h3m3 0h3m0 0h3m3 0h3m-66 3h3m12 0h3m24 0h3m9 0h3m12 0h3m-51 3h3m12 0h3m15 0h3m0 0h3m0 0h3m-66 3h3m3 0h3m9 0h3m51 0h3m0 0h3m-78 3h3m0 0h3m30 0h3m6 0h3m0 0h3m-57 3h3m0 0h3m3 0h3m0 0h3m0 0h3m0 0h3m12 0h3m12 0h3m3 0h3m3 0h3m0 0h3m-69 3h3m0 0h3m0 0h3m15 0h3m15 0h3m18 0h3m-57 3h3m0 0h3m21 0h3m0 0h3m6 0h3m3 0h3m-51 3h3m9 0h3m9 0h3m9 0h3m0 0h3m3 0h3m-51 3h3m3 0h3m0 0h3m24 0h3m-48 3h3m18 0h3m27 0h3m0 0h3m-57 3h3m0 0h3m0 0h3m0 0h3m6 0h3m3 0h3m27 0h3m-48 3h3m24 0h3m-42 3h3m3 0h3m3 0h3m3 0h3m0 0h3m6 0h3m-27 3h3m9 0h3m0 0h3m0 0h3m9 0h3m3 0h3m-39 3h3m33 0h3" stroke="#7ae800" opacity="0.95"/>
<path d="M1452 3066h3m12 0h3m-36 3h3m3 0h3m9 0h3m24 0h3m-15 3h3m9 0h3m-39 3h3m-27 6h3m15 0h3m3 0h3m-27 3h3m15 0h3m-63 9h3m-96 120h3m6 0h3m0 0h3m0 0h3m6 0h3m3 0h3m0 0h3m6 0h3m-54 3h3m9 0h3m0 0h3m0 0h3m0 0h3m15 0h3m-30 3h3m18 0h3m12 0h3m-48 3h3m0 0h3m0 0h3m6 0h3m3 0h3m0 0h3m-36 3h3m0 0h3m0 0h3m6 0h3m6 0h3m12 0h3m-36 3h3m0 0h3m0 0h3m-18 3h3m6 0h3m33 0h3m-54 3h3m15 0h3m-12 3h3m0 0h3m6 0h3m3 0h3m6 0h3m-36 3h3m3 0h3m18 0h3m3 0h3m-51 3h3m3 0h3m3 0h3m9 0h3m0 0h3m9 0h3m3 0h3m0 0h3m-48 3h3m0 0h3m9 0h3m12 0h3m-30 3h3m12 0h3m12 0h3m-45 3h3m12 0h3m3 0h3m9 0h3m9 0h3m-48 3h3m0 0h3m3 0h3m6 0h3m21 0h3m0 0h3m0 0h3m-57 3h3m21 0h3m3 0h3m9 0h3m-39 3h3m0 0h3m0 0h3m6 0h3m-21 3h3m18 0h3m6 0h3m3 0h3m0 0h3m0 0h3m-54 3h3m3 0h3m0 0h3m3 0h3m3 0h3m0 0h3m3 0h3m3 0h3m-27 3h3m15 0h3m0 0h3m0 0h3m-27 3h3m0 0h3m0 0h3m9 0h3m15 0h3m-42 3h3m9 0h3m-27 3h3m3 0h3m0 0h3m12 0h3m3 0h3m-36 3h3m18 0h3m-3 6h3" stroke="#ffd800" opacity="1"/>
<path d="M1305 3204h3m-21 9h3m9 3h3m0 0h3m-21 3h3m9 0h3m-3 6h3m-30 3h3m15 0h3m-21 3h3m0 0h3m24 0h3m3 0h3m-45 3h3m3 0h3m0 0h3m30 0h3m-48 3h3m3 0h3m6 0h3m0 0h3m3 0h3m3 0h3m-45 3h3m0 0h3m0 0h3m0 0h3m12 0h3m9 0h3m-30 3h3m3 0h3m3 0h3m6 0h3m3 0h3m-18 3h3m0 0h3m0 0h3m0 0h3m3 0h3m0 0h3m9 0h3m-51 3h3m3 0h3m0 0h3m9 0h3m6 0h3m-18 3h3m3 0h3m3 0h3m0 0h3m-30 3h3m6 0h3m0 0h3m3 0h3m-36 3h3m21 0h3m-12 3h3m9 0h3m0 0h3m0 0h3m-24 3h3m0 0h3m9 0h3m-12 3h3m9 0h3m0 0h3m-21 3h3m0 0h3m12 0h3m-45 3h3m6 0h3m24 0h3m0 0h3m-33 9h3m0 0h3" stroke="#ff7a00" opacity="1"/>
<path d="M1299 3219h3m-15 3h3m0 3h3m-3 3h3m-12 3h3m0 0h3m0 0h3m0 0h3m0 0h3m0 0h3m-33 3h3m6 0h3m3 0h3m15 0h3m-27 6h3m0 0h3m0 0h3m-33 3h3m36 0h3m-36 3h3m3 0h3m-18 3h3m12 0h3m0 0h3m-9 3h3m-15 3h3m18 0h3m9 0h3m-36 3h3m0 0h3m0 0h3m3 3h3m18 0h3m-36 3h3m6 0h3m3 0h3m-33 3h3m27 0h3m-12 6h3" stroke="#f01000" opacity="1"/>
</g>
<path d="M1374.3 2815.4V3380.6M1084.5 3122.4H1723.7" stroke-width="3.4" stroke="#3a3a3a"/>
<path d="M1084.5 2815.4H1723.7" stroke-width="3.6" stroke="#3a3a3a"/>
<path d="M1723.7 2813.6V3383.1" stroke-width="4.6" stroke="#111"/>
<path d="M1084.5 2813.6V3383.1" stroke-width="5"/>
<path d="M1084.5 3380.6H1723.7" stroke-width="5"/>
<path d="M1084.5 3380.6v15M1244.3 3380.6v15M1404.1 3380.6v15M1563.9 3380.6v15M1723.7 3380.6v15" stroke-width="3.6" stroke="#222"/>
<path d="M1132.6 3380.6v9M1160.7 3380.6v9M1180.7 3380.6v9M1196.2 3380.6v9M1208.8 3380.6v9M1219.5 3380.6v9M1228.8 3380.6v9M1237 3380.6v9M1292.4 3380.6v9M1320.5 3380.6v9M1340.5 3380.6v9M1356 3380.6v9M1368.6 3380.6v9M1379.3 3380.6v9M1388.6 3380.6v9M1396.8 3380.6v9M1452.2 3380.6v9M1480.3 3380.6v9M1500.3 3380.6v9M1515.8 3380.6v9M1528.4 3380.6v9M1539.1 3380.6v9M1548.4 3380.6v9M1556.6 3380.6v9M1612 3380.6v9M1640.1 3380.6v9M1660.1 3380.6v9M1675.6 3380.6v9M1688.2 3380.6v9M1698.9 3380.6v9M1708.2 3380.6v9M1716.4 3380.6v9" stroke-width="2.6" stroke="#333"/>
<path d="M1084.5 3380.6h-17M1084.5 3239.3h-17M1084.5 3098h-17M1084.5 2956.7h-17M1084.5 2815.4h-17" stroke-width="3.6" stroke="#222"/>
<path d="M1084.5 3338.1h-9M1084.5 3313.2h-9M1084.5 3295.5h-9M1084.5 3281.8h-9M1084.5 3270.6h-9M1084.5 3261.2h-9M1084.5 3253h-9M1084.5 3245.8h-9M1084.5 3196.8h-9M1084.5 3171.9h-9M1084.5 3154.2h-9M1084.5 3140.5h-9M1084.5 3129.3h-9M1084.5 3119.9h-9M1084.5 3111.7h-9M1084.5 3104.5h-9M1084.5 3055.5h-9M1084.5 3030.6h-9M1084.5 3012.9h-9M1084.5 2999.2h-9M1084.5 2988h-9M1084.5 2978.6h-9M1084.5 2970.4h-9M1084.5 2963.2h-9M1084.5 2914.2h-9M1084.5 2889.3h-9M1084.5 2871.6h-9M1084.5 2857.9h-9M1084.5 2846.7h-9M1084.5 2837.3h-9M1084.5 2829.1h-9M1084.5 2821.9h-9" stroke-width="2.6" stroke="#333"/>
<text font-family="'Liberation Sans','Noto Sans CJK SC',sans-serif" style="fill:#3a3a3a" font-size="28" x="1095.5" y="2850.4" stroke="#3a3a3a" stroke-width="0.6" style="stroke:#3a3a3a">Q1</text>
<text font-family="'Liberation Sans','Noto Sans CJK SC',sans-serif" style="fill:#3a3a3a" font-size="28" x="1095.5" y="2890.4" stroke="#3a3a3a" stroke-width="0.6" style="stroke:#3a3a3a">11.0%</text>
<text font-family="'Liberation Sans','Noto Sans CJK SC',sans-serif" style="fill:#3a3a3a" font-size="28" x="1626.7" y="2850.4" stroke="#3a3a3a" stroke-width="0.6" style="stroke:#3a3a3a">Q2</text>
<text font-family="'Liberation Sans','Noto Sans CJK SC',sans-serif" style="fill:#3a3a3a" font-size="28" x="1626.7" y="2890.4" stroke="#3a3a3a" stroke-width="0.6" style="stroke:#3a3a3a">22.5%</text>
<text font-family="'Liberation Sans','Noto Sans CJK SC',sans-serif" style="fill:#3a3a3a" font-size="28" x="1095.5" y="3330.6" stroke="#3a3a3a" stroke-width="0.6" style="stroke:#3a3a3a">Q4</text>
<text font-family="'Liberation Sans','Noto Sans CJK SC',sans-serif" style="fill:#3a3a3a" font-size="28" x="1095.5" y="3371.6" stroke="#3a3a3a" stroke-width="0.6" style="stroke:#3a3a3a">52.7%</text>
<text font-family="'Liberation Sans','Noto Sans CJK SC',sans-serif" style="fill:#3a3a3a" font-size="28" x="1626.7" y="3330.6" stroke="#3a3a3a" stroke-width="0.6" style="stroke:#3a3a3a">Q3</text>
<text font-family="'Liberation Sans','Noto Sans CJK SC',sans-serif" style="fill:#3a3a3a" font-size="28" x="1626.7" y="3371.6" stroke="#3a3a3a" stroke-width="0.6" style="stroke:#3a3a3a">13.8%</text>
<text x="959.6" y="2843">10<tspan dx="-2.5" dy="-25" font-size="40">4</tspan></text>
<text x="959.6" y="2986">10<tspan dx="-2.5" dy="-25" font-size="40">3</tspan></text>
<text x="959.6" y="3128">10<tspan dx="-2.5" dy="-25" font-size="40">2</tspan></text>
<text x="959.6" y="3270.5">10<tspan dx="-2.5" dy="-25" font-size="40">1</tspan></text>
<text x="959.6" y="3412.5">10<tspan dx="-2.5" dy="-25" font-size="40">0</tspan></text>
<text x="1039.5" y="3475">10<tspan dx="-2.5" dy="-25" font-size="40">0</tspan></text>
<text x="1198.5" y="3475">10<tspan dx="-2.5" dy="-25" font-size="40">1</tspan></text>
<text x="1356.5" y="3475">10<tspan dx="-2.5" dy="-25" font-size="40">2</tspan></text>
<text x="1515.5" y="3475">10<tspan dx="-2.5" dy="-25" font-size="40">3</tspan></text>
<text x="1673.5" y="3475">10<tspan dx="-2.5" dy="-25" font-size="40">4</tspan></text>
<text text-anchor="middle" transform="translate(927 3096) rotate(-90)">FL3-H</text>
<text text-anchor="middle" x="1370" y="3552.5">FL2-H</text>
<text text-anchor="middle" x="1364" y="3637">H<tspan dy="14" font-size="41">2</tspan><tspan dy="-14">O</tspan><tspan dy="14" font-size="41">2</tspan><tspan dy="-14"> + NC</tspan></text>
<g shape-rendering="crispEdges" stroke-width="3">
<path d="M2061 3354h3M1983 3345h3M2010 3351h3M2001 3360h3M2055 3294h3M1998 3381h3M2016 3345h3M2028 3321h3M2019 3366h3M2079 3315h3M2007 3312h3M1992 3330h3M2040 3327h3M2001 3327h3M1995 3345h3M2058 3354h3M2031 3324h3M2037 3372h3M2067 3372h3M1980 3336h3M2058 3300h3M2082 3318h3M2025 3318h3M2004 3345h3M2040 3369h3M2013 3318h3M1998 3315h3M2040 3321h3M2079 3363h3M2040 3330h3M2013 3333h3M2061 3369h3M2028 3339h3M2013 3348h3M2034 3336h3M2037 3339h3M1995 3363h3M2037 3366h3M1989 3339h3M2004 3339h3M2058 3354h3M2007 3315h3M2028 3339h3M1992 3330h3M2010 3300h3M2058 3336h3M2010 3309h3M2052 3312h3M1998 3354h3M2007 3315h3M2028 3318h3M2010 3321h3M2007 3348h3M2001 3339h3M2022 3330h3M2016 3342h3M1992 3333h3M1995 3345h3M2064 3330h3M2001 3306h3M1995 3351h3M2034 3327h3M2049 3363h3M2025 3309h3M2031 3324h3M2046 3315h3M2070 3333h3M1992 3333h3M2025 3342h3M2043 3363h3M2031 3330h3M2058 3381h3M2040 3339h3M2016 3318h3M2025 3357h3M1986 3354h3M2016 3324h3M2025 3366h3M2001 3375h3M1995 3342h3M2034 3327h3M2010 3330h3M2001 3369h3M2031 3384h3M2061 3336h3M2022 3354h3M2031 3339h3M2031 3363h3M2043 3348h3M1986 3366h3M2016 3339h3M2025 3303h3M2007 3357h3M2010 3345h3M2082 3339h3M2001 3342h3M2079 3324h3M2022 3363h3M2052 3339h3M2049 3315h3M2028 3336h3M2010 3342h3M2097 3351h3" stroke="#b4b4ff" opacity="0.6"/>
<path d="M2553 2952h3m-162 6h3m87 0h3m-96 15h3m-48 6h3m90 0h3m93 0h3m-144 3h3m-147 3h3m186 0h3m-210 3h3m150 0h3m-69 3h3m183 0h3m-186 3h3m0 0h3m54 0h3m-183 3h3m204 0h3m0 0h3m27 0h3m57 0h3m-306 3h3m81 0h3m96 0h3m84 0h3m-231 3h3m72 0h3m0 0h3m42 0h3m6 0h3m-99 3h3m75 0h3m12 0h3m3 0h3m51 0h3m9 0h3m18 0h3m-204 3h3m12 0h3m0 0h3m6 0h3m6 0h3m63 0h3m30 0h3m15 0h3m3 0h3m21 0h3m-144 3h3m15 0h3m0 0h3m18 0h3m6 0h3m57 0h3m9 0h3m6 0h3m3 0h3m42 0h3m54 0h3m-258 3h3m15 0h3m48 0h3m27 0h3m3 0h3m3 0h3m3 0h3m33 0h3m51 0h3m-258 3h3m18 0h3m9 0h3m0 0h3m6 0h3m30 0h3m24 0h3m9 0h3m6 0h3m27 0h3m24 0h3m3 0h3m-240 3h3m150 0h3m12 0h3m6 0h3m0 0h3m30 0h3m12 0h3m0 0h3m0 0h3m21 0h3m-351 3h3m192 0h3m3 0h3m12 0h3m9 0h3m27 0h3m27 0h3m0 0h3m21 0h3m15 0h3m75 0h3m-387 3h3m51 0h3m87 0h3m3 0h3m27 0h3m0 0h3m39 0h3m27 0h3m21 0h3m0 0h3m21 0h3m21 0h3m18 0h3m-360 3h3m90 0h3m15 0h3m27 0h3m0 0h3m3 0h3m18 0h3m3 0h3m6 0h3m0 0h3m30 0h3m6 0h3m0 0h3m0 0h3m3 0h3m0 0h3m12 0h3m9 0h3m0 0h3m0 0h3m6 0h3m0 0h3m9 0h3m9 0h3m0 0h3m-234 3h3m9 0h3m0 0h3m3 0h3m12 0h3m15 0h3m0 0h3m0 0h3m0 0h3m0 0h3m0 0h3m6 0h3m21 0h3m3 0h3m18 0h3m3 0h3m0 0h3m6 0h3m12 0h3m6 0h3m24 0h3m6 0h3m-303 3h3m45 0h3m42 0h3m15 0h3m39 0h3m0 0h3m6 0h3m24 0h3m9 0h3m3 0h3m3 0h3m0 0h3m15 0h3m0 0h3m3 0h3m0 0h3m9 0h3m0 0h3m45 0h3m0 0h3m21 0h3m-252 3h3m36 0h3m0 0h3m0 0h3m9 0h3m6 0h3m9 0h3m3 0h3m9 0h3m6 0h3m0 0h3m3 0h3m6 0h3m12 0h3m0 0h3m3 0h3m3 0h3m3 0h3m3 0h3m0 0h3m0 0h3m12 0h3m0 0h3m3 0h3m12 0h3m15 0h3m-216 3h3m9 0h3m3 0h3m3 0h3m9 0h3m9 0h3m6 0h3m3 0h3m0 0h3m33 0h3m6 0h3m6 0h3m6 0h3m0 0h3m9 0h3m0 0h3m0 0h3m0 0h3m0 0h3m3 0h3m9 0h3m3 0h3m0 0h3m0 0h3m24 0h3m6 0h3m-270 3h3m21 0h3m21 0h3m12 0h3m9 0h3m6 0h3m0 0h3m9 0h3m3 0h3m0 0h3m6 0h3m0 0h3m0 0h3m0 0h3m3 0h3m3 0h3m12 0h3m0 0h3m0 0h3m0 0h3m0 0h3m9 0h3m0 0h3m0 0h3m0 0h3m3 0h3m9 0h3m0 0h3m3 0h3m6 0h3m0 0h3m12 0h3m-273 3h3m45 0h3m9 0h3m21 0h3m12 0h3m3 0h3m6 0h3m0 0h3m3 0h3m3 0h3m6 0h3m0 0h3m0 0h3m0 0h3m9 0h3m3 0h3m3 0h3m6 0h3m18 0h3m15 0h3m3 0h3m6 0h3m3 0h3m3 0h3m3 0h3m0 0h3m3 0h3m0 0h3m24 0h3m-252 3h3m27 0h3m48 0h3m0 0h3m12 0h3m12 0h3m0 0h3m0 0h3m0 0h3m12 0h3m0 0h3m6 0h3m18 0h3m0 0h3m3 0h3m3 0h3m3 0h3m0 0h3m6 0h3m0 0h3m3 0h3m3 0h3m3 0h3m0 0h3m15 0h3m0 0h3m66 0h3m-300 3h3m15 0h3m12 0h3m0 0h3m3 0h3m3 0h3m0 0h3m6 0h3m0 0h3m3 0h3m18 0h3m6 0h3m3 0h3m3 0h3m9 0h3m12 0h3m3 0h3m0 0h3m6 0h3m0 0h3m6 0h3m0 0h3m0 0h3m3 0h3m0 0h3m3 0h3m0 0h3m0 0h3m0 0h3m6 0h3m3 0h3m6 0h3m-234 3h3m3 0h3m3 0h3m3 0h3m6 0h3m6 0h3m12 0h3m0 0h3m3 0h3m0 0h3m6 0h3m33 0h3m9 0h3m9 0h3m9 0h3m6 0h3m3 0h3m3 0h3m3 0h3m0 0h3m0 0h3m0 0h3m0 0h3m9 0h3m9 0h3m3 0h3m60 0h3m-264 3h3m27 0h3m3 0h3m3 0h3m3 0h3m0 0h3m3 0h3m0 0h3m3 0h3m0 0h3m3 0h3m9 0h3m24 0h3m3 0h3m12 0h3m15 0h3m15 0h3m0 0h3m6 0h3m6 0h3m0 0h3m-234 3h3m6 0h3m24 0h3m9 0h3m0 0h3m3 0h3m0 0h3m0 0h3m0 0h3m0 0h3m3 0h3m0 0h3m0 0h3m6 0h3m12 0h3m6 0h3m9 0h3m6 0h3m3 0h3m0 0h3m0 0h3m0 0h3m21 0h3m6 0h3m0 0h3m6 0h3m3 0h3m0 0h3m0 0h3m6 0h3m0 0h3m27 0h3m3 0h3m-306 3h3m45 0h3m3 0h3m21 0h3m9 0h3m18 0h3m0 0h3m48 0h3m15 0h3m6 0h3m9 0h3m0 0h3m0 0h3m6 0h3m3 0h3m9 0h3m0 0h3m3 0h3m3 0h3m15 0h3m12 0h3m-258 3h3m3 0h3m0 0h3m0 0h3m33 0h3m0 0h3m0 0h3m0 0h3m6 0h3m3 0h3m0 0h3m0 0h3m3 0h3m15 0h3m3 0h3m18 0h3m3 0h3m6 0h3m0 0h3m24 0h3m6 0h3m0 0h3m0 0h3m3 0h3m0 0h3m9 0h3m0 0h3m12 0h3m3 0h3m6 0h3m0 0h3m0 0h3m39 0h3m-354 3h3m39 0h3m3 0h3m36 0h3m9 0h3m0 0h3m15 0h3m0 0h3m0 0h3m3 0h3m6 0h3m0 0h3m6 0h3m0 0h3m18 0h3m9 0h3m15 0h3m12 0h3m18 0h3m6 0h3m0 0h3m0 0h3m0 0h3m6 0h3m0 0h3m0 0h3m3 0h3m9 0h3m24 0h3m9 0h3m-318 3h3m33 0h3m3 0h3m15 0h3m12 0h3m3 0h3m3 0h3m0 0h3m0 0h3m3 0h3m0 0h3m0 0h3m12 0h3m0 0h3m0 0h3m0 0h3m9 0h3m0 0h3m0 0h3m0 0h3m0 0h3m3 0h3m3 0h3m6 0h3m3 0h3m9 0h3m12 0h3m3 0h3m0 0h3m3 0h3m0 0h3m6 0h3m21 0h3m6 0h3m39 0h3m-291 3h3m3 0h3m3 0h3m0 0h3m9 0h3m0 0h3m0 0h3m9 0h3m9 0h3m0 0h3m9 0h3m0 0h3m0 0h3m6 0h3m3 0h3m3 0h3m0 0h3m12 0h3m3 0h3m3 0h3m3 0h3m24 0h3m0 0h3m0 0h3m0 0h3m6 0h3m0 0h3m3 0h3m9 0h3m3 0h3m6 0h3m3 0h3m0 0h3m3 0h3m3 0h3m21 0h3m-222 3h3m6 0h3m0 0h3m21 0h3m3 0h3m0 0h3m0 0h3m0 0h3m0 0h3m15 0h3m6 0h3m9 0h3m3 0h3m9 0h3m0 0h3m0 0h3m12 0h3m6 0h3m6 0h3m6 0h3m9 0h3m3 0h3m6 0h3m-243 3h3m12 0h3m9 0h3m6 0h3m0 0h3m15 0h3m0 0h3m3 0h3m0 0h3m0 0h3m6 0h3m0 0h3m12 0h3m0 0h3m0 0h3m9 0h3m0 0h3m3 0h3m0 0h3m0 0h3m0 0h3m0 0h3m3 0h3m3 0h3m0 0h3m0 0h3m9 0h3m0 0h3m3 0h3m6 0h3m15 0h3m0 0h3m18 0h3m3 0h3m24 0h3m39 0h3m30 0h3m-369 3h3m51 0h3m9 0h3m6 0h3m3 0h3m0 0h3m0 0h3m12 0h3m0 0h3m0 0h3m0 0h3m9 0h3m0 0h3m3 0h3m0 0h3m0 0h3m0 0h3m15 0h3m3 0h3m6 0h3m3 0h3m0 0h3m9 0h3m0 0h3m0 0h3m12 0h3m6 0h3m0 0h3m12 0h3m18 0h3m3 0h3m6 0h3m6 0h3m48 0h3m-375 3h3m33 0h3m42 0h3m3 0h3m18 0h3m12 0h3m6 0h3m3 0h3m0 0h3m0 0h3m3 0h3m0 0h3m0 0h3m0 0h3m0 0h3m6 0h3m0 0h3m0 0h3m0 0h3m0 0h3m3 0h3m0 0h3m21 0h3m0 0h3m12 0h3m9 0h3m9 0h3m9 0h3m0 0h3m3 0h3m48 0h3m-330 3h3m33 0h3m42 0h3m6 0h3m9 0h3m3 0h3m27 0h3m6 0h3m18 0h3m0 0h3m0 0h3m0 0h3m0 0h3m6 0h3m0 0h3m0 0h3m3 0h3m0 0h3m3 0h3m6 0h3m0 0h3m3 0h3m0 0h3m3 0h3m0 0h3m6 0h3m18 0h3m9 0h3m3 0h3m9 0h3m63 0h3m-369 3h3m33 0h3m15 0h3m6 0h3m6 0h3m9 0h3m15 0h3m3 0h3m0 0h3m0 0h3m6 0h3m0 0h3m15 0h3m6 0h3m9 0h3m0 0h3m6 0h3m0 0h3m0 0h3m9 0h3m0 0h3m0 0h3m15 0h3m6 0h3m24 0h3m3 0h3m9 0h3m3 0h3m9 0h3m6 0h3m6 0h3m3 0h3m48 0h3m-336 3h3m12 0h3m18 0h3m36 0h3m3 0h3m6 0h3m3 0h3m0 0h3m0 0h3m6 0h3m0 0h3m6 0h3m0 0h3m0 0h3m6 0h3m0 0h3m0 0h3m3 0h3m0 0h3m0 0h3m0 0h3m3 0h3m6 0h3m0 0h3m3 0h3m6 0h3m0 0h3m6 0h3m6 0h3m0 0h3m21 0h3m24 0h3m-249 3h3m15 0h3m18 0h3m0 0h3m3 0h3m0 0h3m9 0h3m12 0h3m3 0h3m9 0h3m3 0h3m15 0h3m6 0h3m6 0h3m24 0h3m12 0h3m6 0h3m0 0h3m0 0h3m6 0h3m24 0h3m0 0h3m-231 3h3m0 0h3m27 0h3m9 0h3m6 0h3m6 0h3m9 0h3m0 0h3m6 0h3m0 0h3m0 0h3m3 0h3m6 0h3m6 0h3m0 0h3m0 0h3m3 0h3m0 0h3m3 0h3m6 0h3m0 0h3m0 0h3m9 0h3m0 0h3m0 0h3m6 0h3m9 0h3m6 0h3m0 0h3m12 0h3m0 0h3m6 0h3m3 0h3m36 0h3m-273 3h3m0 0h3m0 0h3m3 0h3m12 0h3m0 0h3m3 0h3m3 0h3m21 0h3m6 0h3m3 0h3m0 0h3m0 0h3m3 0h3m3 0h3m0 0h3m0 0h3m3 0h3m9 0h3m6 0h3m9 0h3m0 0h3m0 0h3m6 0h3m63 0h3m24 0h3m-294 3h3m9 0h3m12 0h3m6 0h3m0 0h3m18 0h3m27 0h3m0 0h3m9 0h3m0 0h3m15 0h3m0 0h3m0 0h3m15 0h3m6 0h3m15 0h3m3 0h3m3 0h3m3 0h3m12 0h3m6 0h3m15 0h3m12 0h3m54 0h3m6 0h3m42 0h3m-354 3h3m9 0h3m18 0h3m15 0h3m3 0h3m3 0h3m6 0h3m3 0h3m0 0h3m3 0h3m3 0h3m0 0h3m6 0h3m3 0h3m0 0h3m3 0h3m9 0h3m0 0h3m15 0h3m3 0h3m3 0h3m0 0h3m3 0h3m9 0h3m0 0h3m12 0h3m48 0h3m24 0h3m3 0h3m51 0h3m-339 3h3m3 0h3m12 0h3m12 0h3m12 0h3m9 0h3m0 0h3m15 0h3m3 0h3m6 0h3m3 0h3m3 0h3m3 0h3m0 0h3m0 0h3m0 0h3m3 0h3m6 0h3m0 0h3m3 0h3m3 0h3m9 0h3m0 0h3m15 0h3m0 0h3m6 0h3m3 0h3m3 0h3m0 0h3m15 0h3m12 0h3m33 0h3m15 0h3m60 0h3m-390 3h3m0 0h3m6 0h3m21 0h3m0 0h3m0 0h3m3 0h3m0 0h3m3 0h3m9 0h3m0 0h3m0 0h3m0 0h3m6 0h3m24 0h3m3 0h3m3 0h3m3 0h3m3 0h3m0 0h3m0 0h3m0 0h3m6 0h3m0 0h3m3 0h3m9 0h3m3 0h3m6 0h3m48 0h3m33 0h3m123 0h3m-366 3h3m21 0h3m3 0h3m12 0h3m6 0h3m3 0h3m0 0h3m0 0h3m36 0h3m0 0h3m6 0h3m3 0h3m3 0h3m21 0h3m21 0h3m0 0h3m81 0h3m-264 3h3m0 0h3m12 0h3m0 0h3m12 0h3m6 0h3m0 0h3m0 0h3m3 0h3m3 0h3m6 0h3m0 0h3m0 0h3m0 0h3m12 0h3m0 0h3m0 0h3m6 0h3m3 0h3m6 0h3m0 0h3m0 0h3m12 0h3m6 0h3m6 0h3m66 0h3m57 0h3m-294 3h3m18 0h3m3 0h3m0 0h3m6 0h3m3 0h3m0 0h3m9 0h3m3 0h3m0 0h3m0 0h3m9 0h3m12 0h3m0 0h3m0 0h3m6 0h3m9 0h3m3 0h3m30 0h3m6 0h3m12 0h3m27 0h3m33 0h3m3 0h3m57 0h3m-354 3h3m3 0h3m9 0h3m9 0h3m0 0h3m3 0h3m15 0h3m0 0h3m3 0h3m9 0h3m0 0h3m6 0h3m3 0h3m3 0h3m0 0h3m3 0h3m9 0h3m18 0h3m6 0h3m3 0h3m48 0h3m0 0h3m15 0h3m18 0h3m72 0h3m-342 3h3m6 0h3m12 0h3m12 0h3m9 0h3m9 0h3m21 0h3m3 0h3m3 0h3m0 0h3m9 0h3m0 0h3m0 0h3m6 0h3m12 0h3m12 0h3m9 0h3m0 0h3m9 0h3m24 0h3m42 0h3m6 0h3m99 0h3m-342 3h3m15 0h3m12 0h3m3 0h3m9 0h3m3 0h3m0 0h3m3 0h3m6 0h3m0 0h3m3 0h3m0 0h3m0 0h3m3 0h3m0 0h3m3 0h3m3 0h3m12 0h3m0 0h3m3 0h3m6 0h3m0 0h3m9 0h3m15 0h3m0 0h3m9 0h3m3 0h3m3 0h3m15 0h3m36 0h3m12 0h3m6 0h3m12 0h3m24 0h3m-450 3h3m93 0h3m15 0h3m48 0h3m3 0h3m6 0h3m0 0h3m12 0h3m9 0h3m0 0h3m6 0h3m3 0h3m0 0h3m6 0h3m6 0h3m12 0h3m9 0h3m0 0h3m18 0h3m9 0h3m3 0h3m15 0h3m3 0h3m9 0h3m0 0h3m12 0h3m9 0h3m6 0h3m3 0h3m69 0h3m-414 3h3m33 0h3m3 0h3m21 0h3m3 0h3m30 0h3m15 0h3m6 0h3m0 0h3m3 0h3m21 0h3m15 0h3m48 0h3m9 0h3m9 0h3m15 0h3m3 0h3m3 0h3m3 0h3m0 0h3m21 0h3m9 0h3m-318 3h3m6 0h3m15 0h3m36 0h3m3 0h3m0 0h3m9 0h3m0 0h3m18 0h3m3 0h3m6 0h3m9 0h3m3 0h3m9 0h3m0 0h3m6 0h3m0 0h3m57 0h3m18 0h3m0 0h3m3 0h3m72 0h3m-369 3h3m57 0h3m30 0h3m6 0h3m9 0h3m0 0h3m0 0h3m18 0h3m6 0h3m3 0h3m0 0h3m0 0h3m0 0h3m0 0h3m3 0h3m9 0h3m6 0h3m9 0h3m0 0h3m27 0h3m0 0h3m15 0h3m15 0h3m0 0h3m18 0h3m6 0h3m3 0h3m24 0h3m9 0h3m0 0h3m12 0h3m-360 3h3m6 0h3m42 0h3m3 0h3m27 0h3m6 0h3m18 0h3m0 0h3m6 0h3m6 0h3m0 0h3m0 0h3m0 0h3m0 0h3m3 0h3m0 0h3m9 0h3m9 0h3m12 0h3m6 0h3m6 0h3m12 0h3m0 0h3m0 0h3m0 0h3m6 0h3m24 0h3m9 0h3m0 0h3m3 0h3m12 0h3m12 0h3m42 0h3m0 0h3m0 0h3m-396 3h3m15 0h3m21 0h3m9 0h3m3 0h3m51 0h3m3 0h3m6 0h3m9 0h3m0 0h3m6 0h3m3 0h3m6 0h3m9 0h3m6 0h3m0 0h3m3 0h3m0 0h3m27 0h3m39 0h3m9 0h3m0 0h3m6 0h3m9 0h3m9 0h3m138 0h3m-483 3h3m12 0h3m69 0h3m36 0h3m0 0h3m3 0h3m18 0h3m0 0h3m0 0h3m3 0h3m15 0h3m9 0h3m15 0h3m3 0h3m0 0h3m0 0h3m0 0h3m0 0h3m18 0h3m15 0h3m0 0h3m6 0h3m9 0h3m15 0h3m3 0h3m6 0h3m0 0h3m3 0h3m0 0h3m12 0h3m0 0h3m18 0h3m-360 3h3m63 0h3m9 0h3m18 0h3m6 0h3m0 0h3m6 0h3m3 0h3m0 0h3m3 0h3m12 0h3m0 0h3m0 0h3m0 0h3m0 0h3m9 0h3m9 0h3m12 0h3m6 0h3m3 0h3m0 0h3m0 0h3m39 0h3m0 0h3m0 0h3m0 0h3m0 0h3m3 0h3m0 0h3m12 0h3m0 0h3m0 0h3m6 0h3m18 0h3m6 0h3m-327 3h3m54 0h3m12 0h3m6 0h3m6 0h3m3 0h3m6 0h3m3 0h3m0 0h3m0 0h3m3 0h3m33 0h3m0 0h3m15 0h3m15 0h3m30 0h3m6 0h3m9 0h3m3 0h3m6 0h3m6 0h3m6 0h3m0 0h3m18 0h3m0 0h3m96 0h3m-441 3h3m15 0h3m51 0h3m45 0h3m3 0h3m6 0h3m6 0h3m0 0h3m9 0h3m6 0h3m3 0h3m0 0h3m0 0h3m0 0h3m3 0h3m3 0h3m0 0h3m12 0h3m33 0h3m0 0h3m6 0h3m6 0h3m36 0h3m0 0h3m0 0h3m0 0h3m3 0h3m3 0h3m21 0h3m-303 3h3m3 0h3m15 0h3m6 0h3m6 0h3m0 0h3m0 0h3m6 0h3m3 0h3m6 0h3m0 0h3m3 0h3m6 0h3m0 0h3m0 0h3m9 0h3m9 0h3m6 0h3m6 0h3m3 0h3m15 0h3m21 0h3m18 0h3m0 0h3m0 0h3m3 0h3m0 0h3m0 0h3m21 0h3m0 0h3m0 0h3m0 0h3m0 0h3m0 0h3m0 0h3m9 0h3m9 0h3m15 0h3m12 0h3m12 0h3m6 0h3m18 0h3m-390 3h3m18 0h3m6 0h3m21 0h3m15 0h3m0 0h3m0 0h3m6 0h3m0 0h3m0 0h3m3 0h3m3 0h3m3 0h3m6 0h3m3 0h3m0 0h3m3 0h3m0 0h3m0 0h3m15 0h3m9 0h3m6 0h3m12 0h3m9 0h3m0 0h3m0 0h3m12 0h3m12 0h3m0 0h3m0 0h3m0 0h3m3 0h3m0 0h3m6 0h3m6 0h3m3 0h3m3 0h3m3 0h3m0 0h3m0 0h3m30 0h3m6 0h3m3 0h3m3 0h3m-369 3h3m6 0h3m63 0h3m0 0h3m3 0h3m0 0h3m3 0h3m0 0h3m0 0h3m0 0h3m0 0h3m0 0h3m3 0h3m6 0h3m0 0h3m0 0h3m3 0h3m0 0h3m15 0h3m12 0h3m0 0h3m15 0h3m0 0h3m3 0h3m9 0h3m6 0h3m12 0h3m0 0h3m6 0h3m0 0h3m9 0h3m0 0h3m24 0h3m9 0h3m0 0h3m12 0h3m-285 3h3m30 0h3m3 0h3m0 0h3m9 0h3m6 0h3m0 0h3m0 0h3m0 0h3m0 0h3m3 0h3m0 0h3m3 0h3m0 0h3m9 0h3m0 0h3m9 0h3m27 0h3m0 0h3m30 0h3m12 0h3m6 0h3m6 0h3m9 0h3m3 0h3m27 0h3m15 0h3m30 0h3m-321 3h3m3 0h3m3 0h3m9 0h3m0 0h3m3 0h3m12 0h3m0 0h3m0 0h3m0 0h3m9 0h3m0 0h3m9 0h3m0 0h3m6 0h3m12 0h3m6 0h3m0 0h3m0 0h3m0 0h3m9 0h3m9 0h3m3 0h3m0 0h3m0 0h3m0 0h3m0 0h3m3 0h3m0 0h3m0 0h3m12 0h3m15 0h3m0 0h3m3 0h3m18 0h3m3 0h3m9 0h3m0 0h3m3 0h3m15 0h3m0 0h3m0 0h3m54 0h3m-399 3h3m27 0h3m9 0h3m6 0h3m15 0h3m3 0h3m6 0h3m9 0h3m6 0h3m6 0h3m0 0h3m3 0h3m0 0h3m15 0h3m0 0h3m9 0h3m3 0h3m3 0h3m0 0h3m0 0h3m3 0h3m6 0h3m3 0h3m9 0h3m0 0h3m0 0h3m6 0h3m0 0h3m0 0h3m3 0h3m6 0h3m3 0h3m0 0h3m0 0h3m0 0h3m3 0h3m0 0h3m0 0h3m9 0h3m0 0h3m6 0h3m0 0h3m15 0h3m12 0h3m0 0h3m15 0h3m39 0h3m-354 3h3m0 0h3m0 0h3m3 0h3m0 0h3m0 0h3m6 0h3m0 0h3m0 0h3m6 0h3m6 0h3m3 0h3m6 0h3m0 0h3m0 0h3m0 0h3m0 0h3m3 0h3m9 0h3m9 0h3m30 0h3m6 0h3m12 0h3m0 0h3m0 0h3m9 0h3m3 0h3m0 0h3m0 0h3m3 0h3m6 0h3m3 0h3m9 0h3m6 0h3m15 0h3m3 0h3m6 0h3m6 0h3m9 0h3m18 0h3m39 0h3m-381 3h3m24 0h3m18 0h3m3 0h3m42 0h3m6 0h3m0 0h3m0 0h3m6 0h3m3 0h3m3 0h3m15 0h3m0 0h3m3 0h3m0 0h3m0 0h3m0 0h3m0 0h3m6 0h3m3 0h3m0 0h3m0 0h3m0 0h3m0 0h3m6 0h3m9 0h3m6 0h3m3 0h3m3 0h3m3 0h3m30 0h3m12 0h3m-351 3h3m36 0h3m6 0h3m12 0h3m27 0h3m0 0h3m0 0h3m0 0h3m0 0h3m15 0h3m3 0h3m0 0h3m9 0h3m0 0h3m0 0h3m3 0h3m3 0h3m6 0h3m0 0h3m6 0h3m9 0h3m3 0h3m12 0h3m3 0h3m6 0h3m0 0h3m0 0h3m6 0h3m0 0h3m0 0h3m0 0h3m6 0h3m0 0h3m18 0h3m0 0h3m9 0h3m33 0h3m3 0h3m9 0h3m51 0h3m-348 3h3m3 0h3m9 0h3m0 0h3m0 0h3m3 0h3m3 0h3m6 0h3m0 0h3m3 0h3m21 0h3m12 0h3m0 0h3m6 0h3m3 0h3m3 0h3m0 0h3m9 0h3m0 0h3m0 0h3m0 0h3m6 0h3m3 0h3m0 0h3m0 0h3m0 0h3m6 0h3m6 0h3m0 0h3m0 0h3m6 0h3m3 0h3m0 0h3m9 0h3m0 0h3m12 0h3m6 0h3m3 0h3m6 0h3m0 0h3m3 0h3m42 0h3m-327 3h3m0 0h3m12 0h3m12 0h3m0 0h3m54 0h3m0 0h3m9 0h3m0 0h3m3 0h3m15 0h3m0 0h3m0 0h3m15 0h3m0 0h3m3 0h3m0 0h3m0 0h3m6 0h3m0 0h3m15 0h3m3 0h3m6 0h3m0 0h3m0 0h3m6 0h3m9 0h3m0 0h3m18 0h3m3 0h3m30 0h3m6 0h3m-330 3h3m3 0h3m6 0h3m0 0h3m6 0h3m3 0h3m0 0h3m0 0h3m0 0h3m0 0h3m0 0h3m12 0h3m0 0h3m0 0h3m3 0h3m15 0h3m0 0h3m6 0h3m0 0h3m24 0h3m0 0h3m6 0h3m12 0h3m9 0h3m9 0h3m3 0h3m6 0h3m0 0h3m9 0h3m12 0h3m0 0h3m9 0h3m12 0h3m3 0h3m6 0h3m3 0h3m63 0h3m-336 3h3m3 0h3m9 0h3m0 0h3m0 0h3m15 0h3m39 0h3m0 0h3m3 0h3m3 0h3m0 0h3m0 0h3m0 0h3m3 0h3m0 0h3m0 0h3m0 0h3m12 0h3m3 0h3m18 0h3m0 0h3m6 0h3m0 0h3m3 0h3m3 0h3m0 0h3m0 0h3m3 0h3m6 0h3m0 0h3m0 0h3m3 0h3m6 0h3m3 0h3m15 0h3m3 0h3m18 0h3m9 0h3m3 0h3m3 0h3m-336 3h3m24 0h3m0 0h3m9 0h3m3 0h3m12 0h3m42 0h3m0 0h3m0 0h3m3 0h3m9 0h3m6 0h3m3 0h3m15 0h3m0 0h3m6 0h3m0 0h3m12 0h3m0 0h3m0 0h3m0 0h3m9 0h3m0 0h3m6 0h3m9 0h3m0 0h3m0 0h3m3 0h3m3 0h3m0 0h3m0 0h3m6 0h3m0 0h3m42 0h3m27 0h3m-390 3h3m33 0h3m6 0h3m6 0h3m6 0h3m3 0h3m0 0h3m9 0h3m0 0h3m18 0h3m33 0h3m0 0h3m0 0h3m0 0h3m0 0h3m3 0h3m3 0h3m9 0h3m0 0h3m0 0h3m6 0h3m15 0h3m3 0h3m0 0h3m0 0h3m0 0h3m3 0h3m0 0h3m9 0h3m0 0h3m0 0h3m6 0h3m0 0h3m0 0h3m0 0h3m18 0h3m0 0h3m0 0h3m9 0h3m12 0h3m0 0h3m9 0h3m15 0h3m6 0h3m0 0h3m-345 3h3m12 0h3m6 0h3m0 0h3m3 0h3m9 0h3m3 0h3m0 0h3m54 0h3m3 0h3m3 0h3m0 0h3m3 0h3m0 0h3m0 0h3m6 0h3m12 0h3m6 0h3m0 0h3m9 0h3m9 0h3m0 0h3m12 0h3m0 0h3m0 0h3m0 0h3m6 0h3m0 0h3m9 0h3m18 0h3m9 0h3m0 0h3m0 0h3m0 0h3m39 0h3m0 0h3m6 0h3m3 0h3m-345 3h3m3 0h3m3 0h3m9 0h3m15 0h3m60 0h3m0 0h3m0 0h3m0 0h3m3 0h3m0 0h3m0 0h3m3 0h3m0 0h3m0 0h3m6 0h3m6 0h3m21 0h3m3 0h3m15 0h3m0 0h3m3 0h3m6 0h3m6 0h3m3 0h3m6 0h3m3 0h3m0 0h3m0 0h3m6 0h3m0 0h3m6 0h3m0 0h3m48 0h3m0 0h3m21 0h3m-384 3h3m3 0h3m27 0h3m0 0h3m0 0h3m0 0h3m3 0h3m0 0h3m60 0h3m9 0h3m9 0h3m3 0h3m6 0h3m27 0h3m0 0h3m3 0h3m0 0h3m12 0h3m0 0h3m3 0h3m0 0h3m9 0h3m0 0h3m0 0h3m3 0h3m9 0h3m15 0h3m6 0h3m0 0h3m3 0h3m9 0h3m0 0h3m0 0h3m0 0h3m0 0h3m-315 3h3m0 0h3m3 0h3m6 0h3m6 0h3m0 0h3m3 0h3m0 0h3m81 0h3m0 0h3m3 0h3m0 0h3m0 0h3m6 0h3m3 0h3m9 0h3m3 0h3m0 0h3m12 0h3m3 0h3m24 0h3m9 0h3m9 0h3m6 0h3m3 0h3m3 0h3m0 0h3m0 0h3m3 0h3m0 0h3m3 0h3m6 0h3m21 0h3m18 0h3m-348 3h3m3 0h3m3 0h3m0 0h3m12 0h3m6 0h3m9 0h3m57 0h3m6 0h3m3 0h3m3 0h3m0 0h3m6 0h3m3 0h3m6 0h3m0 0h3m3 0h3m3 0h3m0 0h3m0 0h3m0 0h3m3 0h3m6 0h3m3 0h3m3 0h3m0 0h3m3 0h3m0 0h3m3 0h3m0 0h3m0 0h3m0 0h3m15 0h3m6 0h3m72 0h3m-321 3h3m0 0h3m0 0h3m3 0h3m0 0h3m69 0h3m3 0h3m0 0h3m0 0h3m0 0h3m3 0h3m3 0h3m9 0h3m15 0h3m6 0h3m6 0h3m6 0h3m0 0h3m3 0h3m0 0h3m0 0h3m3 0h3m6 0h3m6 0h3m0 0h3m9 0h3m0 0h3m3 0h3m9 0h3m0 0h3m0 0h3m45 0h3m0 0h3m3 0h3m-348 3h3m18 0h3m0 0h3m3 0h3m6 0h3m6 0h3m78 0h3m3 0h3m3 0h3m6 0h3m3 0h3m0 0h3m3 0h3m6 0h3m3 0h3m0 0h3m6 0h3m6 0h3m9 0h3m3 0h3m0 0h3m9 0h3m3 0h3m6 0h3m6 0h3m0 0h3m36 0h3m3 0h3m3 0h3m30 0h3m21 0h3m6 0h3m-372 3h3m15 0h3m9 0h3m0 0h3m3 0h3m54 0h3m12 0h3m3 0h3m0 0h3m0 0h3m3 0h3m0 0h3m0 0h3m0 0h3m18 0h3m6 0h3m3 0h3m0 0h3m0 0h3m0 0h3m0 0h3m3 0h3m3 0h3m3 0h3m0 0h3m6 0h3m0 0h3m12 0h3m6 0h3m6 0h3m6 0h3m3 0h3m0 0h3m3 0h3m0 0h3m3 0h3m9 0h3m0 0h3m18 0h3m12 0h3m-354 3h3m6 0h3m0 0h3m3 0h3m9 0h3m0 0h3m3 0h3m3 0h3m0 0h3m3 0h3m66 0h3m3 0h3m6 0h3m12 0h3m0 0h3m42 0h3m0 0h3m0 0h3m9 0h3m12 0h3m15 0h3m0 0h3m0 0h3m0 0h3m3 0h3m6 0h3m0 0h3m3 0h3m0 0h3m12 0h3m0 0h3m6 0h3m3 0h3m6 0h3m9 0h3m30 0h3m-393 3h3m36 0h3m9 0h3m0 0h3m0 0h3m6 0h3m0 0h3m6 0h3m6 0h3m45 0h3m6 0h3m9 0h3m3 0h3m3 0h3m0 0h3m9 0h3m21 0h3m18 0h3m21 0h3m3 0h3m3 0h3m0 0h3m3 0h3m3 0h3m0 0h3m15 0h3m27 0h3m135 0h3m-435 3h3m6 0h3m3 0h3m0 0h3m0 0h3m15 0h3m63 0h3m0 0h3m3 0h3m6 0h3m0 0h3m6 0h3m0 0h3m12 0h3m0 0h3m9 0h3m3 0h3m6 0h3m6 0h3m0 0h3m3 0h3m0 0h3m3 0h3m6 0h3m27 0h3m0 0h3m0 0h3m0 0h3m0 0h3m0 0h3m0 0h3m6 0h3m0 0h3m27 0h3m-420 3h3m84 0h3m3 0h3m12 0h3m9 0h3m3 0h3m0 0h3m75 0h3m9 0h3m0 0h3m0 0h3m6 0h3m42 0h3m3 0h3m12 0h3m0 0h3m0 0h3m3 0h3m0 0h3m12 0h3m6 0h3m6 0h3m3 0h3m0 0h3m3 0h3m3 0h3m24 0h3m3 0h3m9 0h3m-315 3h3m9 0h3m3 0h3m6 0h3m9 0h3m66 0h3m3 0h3m30 0h3m0 0h3m18 0h3m0 0h3m0 0h3m12 0h3m3 0h3m3 0h3m12 0h3m36 0h3m12 0h3m3 0h3m15 0h3m3 0h3m24 0h3m-333 3h3m9 0h3m6 0h3m0 0h3m0 0h3m6 0h3m66 0h3m0 0h3m0 0h3m3 0h3m18 0h3m6 0h3m27 0h3m0 0h3m6 0h3m0 0h3m9 0h3m3 0h3m0 0h3m12 0h3m6 0h3m9 0h3m3 0h3m30 0h3m3 0h3m21 0h3m15 0h3m-372 3h3m27 0h3m0 0h3m3 0h3m3 0h3m15 0h3m24 0h3m36 0h3m18 0h3m24 0h3m9 0h3m12 0h3m9 0h3m6 0h3m3 0h3m9 0h3m9 0h3m0 0h3m0 0h3m3 0h3m9 0h3m3 0h3m0 0h3m0 0h3m12 0h3m3 0h3m21 0h3m27 0h3m-357 3h3m15 0h3m0 0h3m3 0h3m0 0h3m6 0h3m3 0h3m9 0h3m66 0h3m3 0h3m0 0h3m0 0h3m3 0h3m27 0h3m9 0h3m0 0h3m3 0h3m3 0h3m15 0h3m3 0h3m3 0h3m9 0h3m6 0h3m6 0h3m3 0h3m0 0h3m3 0h3m18 0h3m36 0h3m-339 3h3m0 0h3m21 0h3m3 0h3m6 0h3m0 0h3m0 0h3m51 0h3m15 0h3m6 0h3m36 0h3m0 0h3m30 0h3m3 0h3m0 0h3m3 0h3m3 0h3m12 0h3m9 0h3m33 0h3m3 0h3m6 0h3m12 0h3m0 0h3m-321 3h3m21 0h3m3 0h3m66 0h3m9 0h3m6 0h3m0 0h3m0 0h3m3 0h3m0 0h3m9 0h3m6 0h3m0 0h3m3 0h3m75 0h3m18 0h3m3 0h3m30 0h3m30 0h3m-333 3h3m3 0h3m9 0h3m9 0h3m15 0h3m54 0h3m0 0h3m15 0h3m36 0h3m21 0h3m0 0h3m30 0h3m6 0h3m18 0h3m3 0h3m3 0h3m12 0h3m6 0h3m9 0h3m36 0h3m30 0h3m-384 3h3m6 0h3m12 0h3m3 0h3m69 0h3m0 0h3m0 0h3m15 0h3m0 0h3m36 0h3m21 0h3m18 0h3m15 0h3m6 0h3m30 0h3m18 0h3m-297 3h3m15 0h3m0 0h3m3 0h3m0 0h3m3 0h3m42 0h3m12 0h3m9 0h3m0 0h3m9 0h3m9 0h3m0 0h3m9 0h3m9 0h3m15 0h3m3 0h3m18 0h3m3 0h3m24 0h3m21 0h3m0 0h3m18 0h3m15 0h3m-315 3h3m24 0h3m0 0h3m0 0h3m6 0h3m0 0h3m0 0h3m3 0h3m9 0h3m24 0h3m3 0h3m0 0h3m0 0h3m3 0h3m0 0h3m0 0h3m9 0h3m27 0h3m6 0h3m0 0h3m24 0h3m9 0h3m18 0h3m18 0h3m9 0h3m9 0h3m-273 3h3m3 0h3m15 0h3m0 0h3m0 0h3m6 0h3m9 0h3m0 0h3m24 0h3m3 0h3m0 0h3m6 0h3m0 0h3m33 0h3m0 0h3m45 0h3m36 0h3m3 0h3m9 0h3m33 0h3m0 0h3m45 0h3m-351 3h3m24 0h3m9 0h3m0 0h3m0 0h3m12 0h3m27 0h3m6 0h3m15 0h3m3 0h3m0 0h3m0 0h3m0 0h3m3 0h3m3 0h3m15 0h3m45 0h3m12 0h3m0 0h3m3 0h3m15 0h3m33 0h3m33 0h3m66 0h3m-366 3h3m0 0h3m0 0h3m0 0h3m3 0h3m0 0h3m12 0h3m39 0h3m15 0h3m15 0h3m18 0h3m3 0h3m30 0h3m15 0h3m3 0h3m36 0h3m24 0h3m63 0h3m3 0h3m-348 3h3m9 0h3m12 0h3m3 0h3m15 0h3m6 0h3m6 0h3m12 0h3m15 0h3m6 0h3m51 0h3m12 0h3m-180 3h3m3 0h3m12 0h3m0 0h3m3 0h3m0 0h3m6 0h3m9 0h3m3 0h3m0 0h3m0 0h3m3 0h3m3 0h3m6 0h3m6 0h3m12 0h3m60 0h3m90 0h3m0 0h3m3 0h3m-330 3h3m21 0h3m6 0h3m3 0h3m18 0h3m12 0h3m0 0h3m3 0h3m0 0h3m0 0h3m3 0h3m3 0h3m21 0h3m9 0h3m3 0h3m9 0h3m6 0h3m30 0h3m12 0h3m9 0h3m36 0h3m-219 3h3m0 0h3m9 0h3m3 0h3m0 0h3m0 0h3m0 0h3m9 0h3m3 0h3m0 0h3m3 0h3m21 0h3m3 0h3m33 0h3m0 0h3m24 0h3m3 0h3m6 0h3m0 0h3m33 0h3m18 0h3m6 0h3m-267 3h3m33 0h3m6 0h3m0 0h3m3 0h3m0 0h3m0 0h3m0 0h3m0 0h3m9 0h3m0 0h3m9 0h3m0 0h3m0 0h3m0 0h3m3 0h3m6 0h3m33 0h3m54 0h3m6 0h3m30 0h3m54 0h3m-363 3h3m93 0h3m3 0h3m3 0h3m6 0h3m3 0h3m3 0h3m0 0h3m3 0h3m0 0h3m6 0h3m6 0h3m48 0h3m0 0h3m0 0h3m36 0h3m21 0h3m15 0h3m57 0h3m-297 3h3m9 0h3m6 0h3m6 0h3m6 0h3m3 0h3m0 0h3m0 0h3m0 0h3m0 0h3m0 0h3m0 0h3m0 0h3m0 0h3m6 0h3m3 0h3m12 0h3m3 0h3m18 0h3m24 0h3m69 0h3m-228 3h3m21 0h3m9 0h3m3 0h3m0 0h3m12 0h3m0 0h3m9 0h3m0 0h3m0 0h3m6 0h3m15 0h3m3 0h3m144 0h3m-258 3h3m12 0h3m3 0h3m0 0h3m3 0h3m15 0h3m0 0h3m15 0h3m0 0h3m3 0h3m0 0h3m3 0h3m51 0h3m24 0h3m-177 3h3m12 0h3m9 0h3m3 0h3m6 0h3m6 0h3m9 0h3m0 0h3m3 0h3m0 0h3m9 0h3m-81 3h3m9 0h3m9 0h3m3 0h3m6 0h3m3 0h3m3 0h3m0 0h3m0 0h3m45 0h3m78 0h3m0 0h3m57 0h3m-288 3h3m39 0h3m0 0h3m0 0h3m18 0h3m6 0h3m6 0h3m0 0h3m15 0h3m0 0h3m75 0h3m27 0h3m-180 3h3m12 0h3m9 0h3m15 0h3m12 0h3m0 0h3m111 0h3m6 0h3m-210 3h3m12 0h3m21 0h3m0 0h3m9 0h3m0 0h3m0 0h3m0 0h3m12 0h3m-87 3h3m30 0h3m9 0h3m0 0h3m3 0h3m3 0h3m6 0h3m27 0h3m-105 3h3m30 0h3m0 0h3m6 0h3m0 0h3m12 0h3m0 0h3m3 0h3m6 0h3m21 0h3m135 0h3m-207 3h3m18 0h3m6 0h3m9 0h3m0 0h3m24 0h3m-159 3h3m63 0h3m3 0h3m3 0h3m6 0h3m-36 3h3m3 0h3m15 0h3m0 0h3m57 0h3m-159 3h3m54 0h3m9 0h3m60 0h3m0 0h3m0 0h3m45 0h3m-150 3h3m78 0h3m9 0h3m-87 3h3m9 0h3m60 0h3m-30 3h3m3 0h3m33 0h3m39 0h3m-90 3h3m12 0h3m-6 3h3m9 0h3m6 0h3m-60 3h3m-12 3h3m0 6h3m6 3h3m9 0h3m3 0h3m0 0h3m15 0h3" stroke="#1616ea" opacity="0.88"/>
<path d="M2343 3039h3m0 3h3m-51 6h3m0 0h3m6 0h3m3 0h3m3 0h3m0 0h3m3 0h3m0 0h3m0 0h3m0 0h3m3 0h3m9 0h3m0 0h3m-78 3h3m9 0h3m15 0h3m0 0h3m0 0h3m0 0h3m9 0h3m6 0h3m3 0h3m0 0h3m0 0h3m6 0h3m3 0h3m-90 3h3m3 0h3m12 0h3m15 0h3m3 0h3m3 0h3m0 0h3m3 0h3m3 0h3m6 0h3m9 0h3m-99 3h3m0 0h3m3 0h3m0 0h3m0 0h3m3 0h3m15 0h3m18 0h3m0 0h3m0 0h3m3 0h3m0 0h3m-75 3h3m6 0h3m3 0h3m0 0h3m0 0h3m12 0h3m3 0h3m0 0h3m0 0h3m3 0h3m3 0h3m0 0h3m0 0h3m0 0h3m9 0h3m0 0h3m-90 3h3m0 0h3m0 0h3m3 0h3m9 0h3m0 0h3m30 0h3m0 0h3m0 0h3m0 0h3m0 0h3m0 0h3m6 0h3m-105 3h3m0 0h3m3 0h3m0 0h3m0 0h3m3 0h3m0 0h3m0 0h3m0 0h3m15 0h3m0 0h3m0 0h3m3 0h3m0 0h3m3 0h3m3 0h3m9 0h3m0 0h3m3 0h3m-114 3h3m9 0h3m0 0h3m0 0h3m9 0h3m0 0h3m0 0h3m3 0h3m6 0h3m6 0h3m6 0h3m0 0h3m3 0h3m0 0h3m12 0h3m0 0h3m-93 3h3m6 0h3m3 0h3m3 0h3m0 0h3m6 0h3m0 0h3m3 0h3m9 0h3m3 0h3m3 0h3m6 0h3m3 0h3m6 0h3m-108 3h3m12 0h3m0 0h3m24 0h3m6 0h3m3 0h3m3 0h3m3 0h3m3 0h3m-66 3h3m0 0h3m3 0h3m3 0h3m3 0h3m3 0h3m3 0h3m0 0h3m0 0h3m0 0h3m0 0h3m0 0h3m-63 3h3m6 0h3m15 0h3m0 0h3m6 0h3m9 0h3m9 0h3m-63 3h3m24 0h3m3 0h3m9 0h3m0 0h3m0 0h3m-51 3h3m0 0h3m3 0h3m-6 3h3m9 0h3m30 0h3m-48 3h3m-66 87h3m0 3h3m0 0h3m12 0h3m-33 3h3m-12 3h3m6 0h3m15 0h3m-33 3h3m3 0h3m6 0h3m3 0h3m0 0h3m0 0h3m0 0h3m3 0h3m0 0h3m-42 3h3m0 0h3m0 0h3m3 0h3m3 0h3m6 0h3m3 0h3m15 0h3m-45 3h3m3 0h3m0 0h3m0 0h3m0 0h3m0 0h3m3 0h3m-36 3h3m18 0h3m6 0h3m0 0h3m0 0h3m-45 3h3m3 0h3m21 0h3m0 0h3m0 0h3m6 0h3m9 0h3m-72 3h3m6 0h3m0 0h3m33 0h3m12 0h3m-72 3h3m3 0h3m0 0h3m39 0h3m0 0h3m-48 3h3m9 0h3m12 0h3m6 0h3m3 0h3m3 0h3m-42 3h3m12 0h3m9 0h3m3 0h3m3 0h3m3 0h3m-75 3h3m36 0h3m9 0h3m9 0h3m0 0h3m15 0h3m-81 3h3m3 0h3m3 0h3m27 0h3m3 0h3m0 0h3m0 0h3m9 0h3m-78 3h3m21 0h3m30 0h3m3 0h3m-75 3h3m6 0h3m60 0h3m-63 3h3m0 0h3m3 0h3m39 0h3m0 0h3m0 0h3m3 0h3m-69 3h3m0 0h3m0 0h3m54 0h3m0 0h3m-78 3h3m0 0h3m0 0h3m0 0h3m3 0h3m45 0h3m0 0h3m3 0h3m-81 3h3m6 0h3m0 0h3m54 0h3m3 0h3m-81 6h3m3 0h3m9 0h3m6 0h3m33 0h3m6 0h3m0 0h3m-66 3h3m0 0h3m57 0h3m-78 3h3m0 0h3m3 0h3m0 0h3m0 0h3m36 0h3m15 0h3m3 0h3m-75 3h3m45 0h3m0 0h3m3 0h3m0 0h3m0 0h3m-81 3h3m54 0h3m0 0h3m12 0h3m-72 3h3m6 0h3m0 0h3m15 0h3m33 0h3m-60 3h3m27 0h3m15 0h3m0 0h3m-69 3h3m0 0h3m0 0h3m3 0h3m6 0h3m21 0h3m6 0h3m9 0h3m-69 3h3m3 0h3m6 0h3m0 0h3m24 0h3m-48 3h3m3 0h3m0 0h3m18 0h3m0 0h3m9 0h3m0 0h3m0 0h3m0 0h3m0 0h3m-63 3h3m0 0h3m3 0h3m0 0h3m3 0h3m18 0h3m-36 3h3m30 0h3m-39 3h3m0 0h3m0 0h3m9 0h3m3 0h3m0 0h3m3 0h3m0 0h3m3 0h3m6 0h3m-54 3h3m6 0h3m3 0h3m6 0h3m0 0h3m6 0h3m0 0h3m3 0h3m-54 3h3m0 0h3m9 0h3m0 0h3m0 0h3m9 0h3m12 0h3m6 0h3m-51 3h3m0 0h3m0 0h3m3 0h3m6 0h3m0 0h3m3 0h3m-45 3h3m9 0h3m3 0h3m9 0h3m-30 3h3m9 0h3m3 0h3m6 0h3m0 0h3m3 0h3m-36 3h3m0 0h3m3 0h3m6 0h3m-12 3h3m0 3h3m6 0h3m-18 6h3" stroke="#00c878" opacity="0.9"/>
<path d="M2295 3057h3m3 0h3m3 3h3m0 0h3m0 0h3m3 0h3m-24 3h3m9 0h3m0 0h3m-21 3h3m3 0h3m0 0h3m12 3h3m-39 3h3m12 0h3m-24 3h3m9 6h3m-114 111h3m6 0h3m-12 3h3m-6 6h3m0 0h3m0 0h3m3 0h3m6 0h3m-33 3h3m18 0h3m0 0h3m-18 3h3m0 0h3m0 0h3m9 0h3m0 0h3m3 0h3m-48 3h3m0 0h3m6 0h3m9 0h3m6 0h3m0 0h3m6 0h3m-48 3h3m0 0h3m12 0h3m0 0h3m18 0h3m-36 3h3m12 0h3m15 0h3m-54 3h3m0 0h3m6 0h3m27 0h3m0 0h3m0 0h3m-54 3h3m3 0h3m27 0h3m18 0h3m-57 3h3m0 0h3m12 0h3m24 0h3m-51 3h3m0 0h3m27 0h3m0 0h3m0 0h3m6 0h3m-54 3h3m3 0h3m-9 3h3m0 0h3m9 0h3m24 0h3m0 0h3m0 0h3m0 0h3m-12 3h3m-54 3h3m3 0h3m0 0h3m0 0h3m33 0h3m-51 3h3m12 0h3m24 0h3m3 0h3m0 0h3m-63 3h3m42 0h3m9 0h3m-60 3h3m6 0h3m3 0h3m21 0h3m9 0h3m3 0h3m0 0h3m-54 3h3m0 0h3m36 0h3m3 0h3m-69 3h3m18 0h3m12 0h3m21 0h3m-60 3h3m0 0h3m0 0h3m3 0h3m0 0h3m12 0h3m18 0h3m-63 3h3m15 0h3m0 0h3m6 0h3m21 0h3m3 0h3m0 0h3m0 0h3m-45 3h3m0 0h3m6 0h3m6 0h3m0 0h3m-27 3h3m0 0h3m3 0h3m0 0h3m0 0h3m3 0h3m0 0h3m-45 3h3m9 0h3m0 0h3m6 0h3m3 0h3m0 0h3m3 0h3m0 0h3m0 0h3m-54 3h3m6 0h3m0 0h3m0 0h3m0 0h3m0 0h3m9 0h3m-36 3h3m6 0h3m3 0h3m3 0h3m0 0h3m3 0h3m6 0h3m0 0h3m0 0h3m9 0h3m-54 3h3m12 0h3m12 0h3m-21 3h3m6 0h3m-27 3h3m9 0h3m-3 3h3m0 0h3m6 0h3m0 0h3m-18 9h3" stroke="#7ae800" opacity="0.95"/>
<path d="M2184 3201h3m-6 3h3m-12 3h3m9 0h3m0 0h3m0 0h3m-27 3h3m3 0h3m-12 3h3m18 0h3m0 0h3m3 0h3m-45 3h3m6 0h3m6 0h3m0 0h3m9 0h3m0 0h3m-36 3h3m24 0h3m0 0h3m-30 3h3m3 0h3m9 0h3m0 0h3m-36 3h3m6 0h3m6 0h3m15 0h3m3 0h3m-48 3h3m9 0h3m0 0h3m3 0h3m24 0h3m-42 3h3m0 0h3m15 0h3m3 0h3m-33 3h3m0 0h3m24 0h3m-45 3h3m3 0h3m3 0h3m24 0h3m3 0h3m-48 3h3m9 0h3m6 0h3m9 0h3m6 0h3m3 0h3m-51 3h3m3 0h3m21 0h3m3 0h3m3 0h3m-51 3h3m3 0h3m0 0h3m9 0h3m18 0h3m0 0h3m-42 3h3m9 0h3m6 0h3m9 0h3m0 0h3m-36 3h3m0 0h3m9 0h3m15 0h3m3 0h3m-57 3h3m0 0h3m0 0h3m24 0h3m0 0h3m0 0h3m0 0h3m-42 3h3m6 0h3m3 0h3m0 0h3m9 0h3m0 0h3m12 0h3m-63 3h3m18 0h3m6 0h3m0 0h3m3 0h3m3 0h3m-48 3h3m0 0h3m3 0h3m0 0h3m12 0h3m3 0h3m-21 3h3m6 0h3m-9 3h3m-3 3h3m12 0h3m-24 3h3m-12 3h3m0 0h3m3 0h3m3 0h3m3 0h3m6 0h3m-30 3h3m-6 3h3" stroke="#ffd800" opacity="1"/>
<path d="M2175 3210h3m0 0h3m6 0h3m-15 6h3m15 0h3m-30 3h3m3 0h3m-15 3h3m3 0h3m0 0h3m0 0h3m12 0h3m-30 3h3m9 0h3m0 0h3m0 0h3m3 0h3m-36 3h3m18 0h3m0 0h3m-18 3h3m0 0h3m0 0h3m0 0h3m3 0h3m3 0h3m0 0h3m-33 3h3m15 0h3m0 0h3m3 0h3m-33 3h3m9 0h3m3 0h3m0 0h3m-24 3h3m12 0h3m3 0h3m-24 3h3m0 0h3m6 0h3m-18 3h3m3 0h3m3 0h3m0 0h3m-21 3h3m3 0h3m0 0h3m-12 3h3m0 0h3m9 0h3m-24 3h3m0 0h3m3 0h3m3 0h3m-6 3h3m0 0h3m-24 3h3m15 0h3m12 0h3m-39 3h3m3 6h3m3 0h3" stroke="#ff7a00" opacity="1"/>
<path d="M2163 3219h3m3 0h3m6 0h3m-12 6h3m-12 3h3m3 0h3m0 0h3m-15 3h3m0 3h3m0 0h3m0 0h3m0 0h3m-18 3h3m0 0h3m0 0h3m3 0h3m-15 3h3m3 0h3m0 0h3m-21 3h3m9 0h3m0 0h3m6 0h3m-27 3h3m9 0h3m6 0h3m-27 3h3m15 0h3m3 0h3m-18 3h3m3 0h3m3 0h3m0 0h3m-36 3h3m9 0h3m9 6h3m-21 3h3" stroke="#f01000" opacity="1"/>
</g>
<path d="M2261.4 2811.8V3391M1970 3126H2611.8" stroke-width="3.4" stroke="#3a3a3a"/>
<path d="M1970 2811.8H2611.8" stroke-width="3.6" stroke="#3a3a3a"/>
<path d="M2611.8 2810V3393.3" stroke-width="4.4" stroke="#333"/>
<path d="M1970 2810V3393.3" stroke-width="3.6" stroke="#222"/>
<path d="M1970 3391H2611.8" stroke-width="4.6" stroke="#111"/>
<path d="M1970 3391v15M2130.4 3391v15M2290.9 3391v15M2451.4 3391v15M2611.8 3391v15" stroke-width="3.6" stroke="#222"/>
<path d="M2018.3 3391v9M2046.6 3391v9M2066.6 3391v9M2082.1 3391v9M2094.9 3391v9M2105.6 3391v9M2114.9 3391v9M2123.1 3391v9M2178.8 3391v9M2207 3391v9M2227.1 3391v9M2242.6 3391v9M2255.3 3391v9M2266 3391v9M2275.4 3391v9M2283.6 3391v9M2339.2 3391v9M2367.5 3391v9M2387.5 3391v9M2403 3391v9M2415.8 3391v9M2426.5 3391v9M2435.8 3391v9M2444 3391v9M2499.7 3391v9M2527.9 3391v9M2548 3391v9M2563.5 3391v9M2576.2 3391v9M2586.9 3391v9M2596.3 3391v9M2604.5 3391v9" stroke-width="2.6" stroke="#333"/>
<path d="M1970 3391h-17M1970 3246.2h-17M1970 3101.4h-17M1970 2956.6h-17M1970 2811.8h-17" stroke-width="3.6" stroke="#222"/>
<path d="M1970 3347.4h-9M1970 3321.9h-9M1970 3303.8h-9M1970 3289.8h-9M1970 3278.3h-9M1970 3268.6h-9M1970 3260.2h-9M1970 3252.8h-9M1970 3202.6h-9M1970 3177.1h-9M1970 3159h-9M1970 3145h-9M1970 3133.5h-9M1970 3123.8h-9M1970 3115.4h-9M1970 3108h-9M1970 3057.8h-9M1970 3032.3h-9M1970 3014.2h-9M1970 3000.2h-9M1970 2988.7h-9M1970 2979h-9M1970 2970.6h-9M1970 2963.2h-9M1970 2913h-9M1970 2887.5h-9M1970 2869.4h-9M1970 2855.4h-9M1970 2843.9h-9M1970 2834.2h-9M1970 2825.8h-9M1970 2818.4h-9" stroke-width="2.6" stroke="#333"/>
<text font-family="'Liberation Sans','Noto Sans CJK SC',sans-serif" style="fill:#3a3a3a" font-size="28" x="1981" y="2846.8" stroke="#3a3a3a" stroke-width="0.6" style="stroke:#3a3a3a">Q1</text>
<text font-family="'Liberation Sans','Noto Sans CJK SC',sans-serif" style="fill:#3a3a3a" font-size="28" x="1981" y="2886.8" stroke="#3a3a3a" stroke-width="0.6" style="stroke:#3a3a3a">11.4%</text>
<text font-family="'Liberation Sans','Noto Sans CJK SC',sans-serif" style="fill:#3a3a3a" font-size="28" x="2514.8" y="2846.8" stroke="#3a3a3a" stroke-width="0.6" style="stroke:#3a3a3a">Q2</text>
<text font-family="'Liberation Sans','Noto Sans CJK SC',sans-serif" style="fill:#3a3a3a" font-size="28" x="2514.8" y="2886.8" stroke="#3a3a3a" stroke-width="0.6" style="stroke:#3a3a3a">16.8%</text>
<text font-family="'Liberation Sans','Noto Sans CJK SC',sans-serif" style="fill:#3a3a3a" font-size="28" x="1981" y="3341" stroke="#3a3a3a" stroke-width="0.6" style="stroke:#3a3a3a">Q4</text>
<text font-family="'Liberation Sans','Noto Sans CJK SC',sans-serif" style="fill:#3a3a3a" font-size="28" x="1981" y="3382" stroke="#3a3a3a" stroke-width="0.6" style="stroke:#3a3a3a">62.7%</text>
<text font-family="'Liberation Sans','Noto Sans CJK SC',sans-serif" style="fill:#3a3a3a" font-size="28" x="2514.8" y="3341" stroke="#3a3a3a" stroke-width="0.6" style="stroke:#3a3a3a">Q3</text>
<text font-family="'Liberation Sans','Noto Sans CJK SC',sans-serif" style="fill:#3a3a3a" font-size="28" x="2514.8" y="3382" stroke="#3a3a3a" stroke-width="0.6" style="stroke:#3a3a3a">9.11%</text>
<text x="1851.5" y="2843">10<tspan dx="-2.5" dy="-25" font-size="40">4</tspan></text>
<text x="1851.5" y="2988">10<tspan dx="-2.5" dy="-25" font-size="40">3</tspan></text>
<text x="1851.5" y="3130">10<tspan dx="-2.5" dy="-25" font-size="40">2</tspan></text>
<text x="1851.5" y="3273">10<tspan dx="-2.5" dy="-25" font-size="40">1</tspan></text>
<text x="1851.5" y="3415">10<tspan dx="-2.5" dy="-25" font-size="40">0</tspan></text>
<text x="1930.5" y="3474.5">10<tspan dx="-2.5" dy="-25" font-size="40">0</tspan></text>
<text x="2088.5" y="3474.5">10<tspan dx="-2.5" dy="-25" font-size="40">1</tspan></text>
<text x="2247.5" y="3474.5">10<tspan dx="-2.5" dy="-25" font-size="40">2</tspan></text>
<text x="2405.5" y="3474.5">10<tspan dx="-2.5" dy="-25" font-size="40">3</tspan></text>
<text x="2563.5" y="3474.5">10<tspan dx="-2.5" dy="-25" font-size="40">4</tspan></text>
<text text-anchor="middle" transform="translate(1815 3096) rotate(-90)">FL3-H</text>
<text text-anchor="middle" x="2260" y="3552.5">FL2-H</text>
<text text-anchor="middle" x="2246" y="3637">H<tspan dy="14" font-size="41">2</tspan><tspan dy="-14">O</tspan><tspan dy="14" font-size="41">2</tspan><tspan dy="-14"> + siChemerin</tspan></text>
<!-- panel h -->
<text font-size="83.3" x="2712" y="2760.3">h</text>
<rect x="3034.5" y="3293.5" width="139.2" height="163.8" fill="#fff" stroke="#000" stroke-width="5"/>
<path d="M3104 3293V3283.2M3066 3283.2H3142" stroke-width="5"/>
<rect x="3248.3" y="2997.5" width="139.2" height="459.8" fill="#00f" stroke="#000" stroke-width="5"/>
<path d="M3317.6 2997V2984M3279.6 2984H3355.6" stroke-width="5"/>
<rect x="3462.5" y="3166" width="140.4" height="291.3" fill="#0f0" stroke="#000" stroke-width="5"/>
<path d="M3532 3165V3150.6M3494 3150.6H3570" stroke-width="5"/>
<path d="M2997 2846.1V3457.3" stroke-width="6"/>
<path d="M2979 3457.3H2997M2979 3335.6H2997M2979 3213.8H2997M2979 3092.1H2997M2979 2970.3H2997M2979 2848.6H2997" stroke-width="5"/>
<text text-anchor="end" x="2970" y="3483.8">0</text>
<text text-anchor="end" x="2970" y="3362.1">10</text>
<text text-anchor="end" x="2970" y="3240.3">20</text>
<text text-anchor="end" x="2970" y="3118.6">30</text>
<text text-anchor="end" x="2970" y="2996.8">40</text>
<text text-anchor="end" x="2970" y="2875.1">50</text>
<path d="M2978.9 3457.3H3641" stroke-width="6"/>
<path d="M3103.9 3457.3V3478.3M3317.6 3457.3V3478.3M3532 3457.3V3478.3" stroke-width="5"/>
<path d="M3099.5 2904V2876M3493 2904V2876" stroke-width="5.5"/>
<path d="M3096.8 2876H3495.8" stroke-width="5.5"/>
<path d="M3099.5 2970.5V2944.5M3269.4 2970.5V2944.5" stroke-width="5.5"/>
<path d="M3096.8 2944.5H3272.2" stroke-width="5.5"/>
<path d="M3318.7 2970V2943M3493 2970V2943" stroke-width="5.5"/>
<path d="M3315.9 2943H3495.8" stroke-width="5.5"/>
<text text-anchor="middle" font-family="'Liberation Sans','Noto Sans CJK SC',sans-serif" font-size="42" x="3295.5" y="2883.6" style="stroke:#000;stroke-width:1.3px" letter-spacing="2.9">**</text>
<text text-anchor="middle" font-family="'Liberation Sans','Noto Sans CJK SC',sans-serif" font-size="42" x="3179.5" y="2952.6" style="stroke:#000;stroke-width:1.3px" letter-spacing="2.9">**</text>
<text text-anchor="middle" font-family="'Liberation Sans','Noto Sans CJK SC',sans-serif" font-size="42" x="3401.5" y="2950.6" style="stroke:#000;stroke-width:1.3px" letter-spacing="2.9">**</text>
<text text-anchor="middle" x="3103.3" y="3542.5">NC</text>
<text text-anchor="middle" x="3305" y="3542.5">H<tspan dy="14" font-size="41">2</tspan><tspan dy="-14">O</tspan><tspan dy="14" font-size="41">2</tspan><tspan dy="-14"> +</tspan></text>
<text text-anchor="middle" x="3305" y="3616.5">NC</text>
<text text-anchor="middle" x="3551.7" y="3542.5">H<tspan dy="14" font-size="41">2</tspan><tspan dy="-14">O</tspan><tspan dy="14" font-size="41">2</tspan><tspan dy="-14"> +</tspan></text>
<text text-anchor="middle" x="3543.4" y="3616.5">siChemerin</text>
<text text-anchor="middle" transform="translate(2778.8 3146.5) rotate(-90)">The rate of apoptosis cells</text>
<text text-anchor="middle" transform="translate(2859 3146) rotate(-90)">(Q2+Q3)%</text>
</svg></body></html>
